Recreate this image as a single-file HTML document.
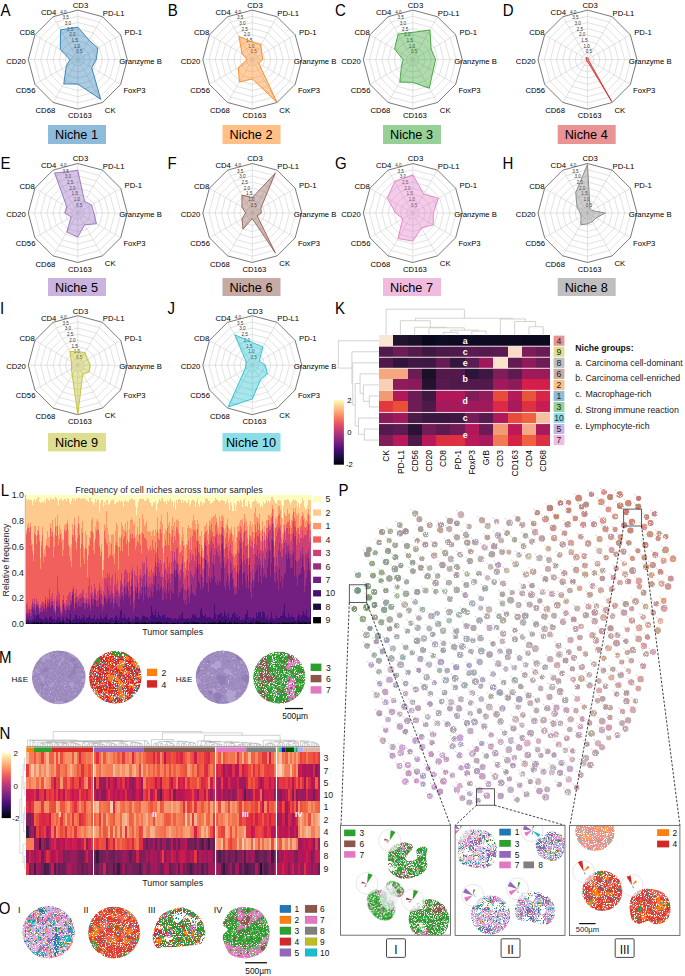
<!DOCTYPE html>
<html><head><meta charset="utf-8"><style>
html,body{margin:0;padding:0;background:#fff;width:685px;height:976px;overflow:hidden}
svg{display:block}
text{font-family:"Liberation Sans",sans-serif}
</style></head><body>
<svg width="685" height="976" viewBox="0 0 685 976" font-family="Liberation Sans, sans-serif">
<rect width="685" height="976" fill="#fff"/>
<g id="radar">
<polygon points="77.80,53.41 80.89,54.24 83.16,56.51 83.99,59.60 83.16,62.69 80.89,64.96 77.80,65.79 74.71,64.96 72.44,62.69 71.61,59.60 72.44,56.51 74.71,54.24" fill="none" stroke="#cfcfcf" stroke-width="0.6"/>
<polygon points="77.80,47.23 83.99,48.88 88.52,53.41 90.17,59.60 88.52,65.79 83.99,70.32 77.80,71.97 71.61,70.32 67.08,65.79 65.42,59.60 67.08,53.41 71.61,48.88" fill="none" stroke="#cfcfcf" stroke-width="0.6"/>
<polygon points="77.80,41.04 87.08,43.52 93.88,50.32 96.36,59.60 93.88,68.88 87.08,75.68 77.80,78.16 68.52,75.68 61.72,68.88 59.24,59.60 61.72,50.32 68.52,43.52" fill="none" stroke="#cfcfcf" stroke-width="0.6"/>
<polygon points="77.80,34.85 90.17,38.17 99.23,47.22 102.55,59.60 99.23,71.97 90.17,81.03 77.80,84.35 65.42,81.03 56.37,71.98 53.05,59.60 56.37,47.22 65.42,38.17" fill="none" stroke="#cfcfcf" stroke-width="0.6"/>
<polygon points="77.80,28.66 93.27,32.81 104.59,44.13 108.74,59.60 104.59,75.07 93.27,86.39 77.80,90.54 62.33,86.39 51.01,75.07 46.86,59.60 51.01,44.13 62.33,32.81" fill="none" stroke="#cfcfcf" stroke-width="0.6"/>
<polygon points="77.80,22.48 96.36,27.45 109.95,41.04 114.92,59.60 109.95,78.16 96.36,91.75 77.80,96.72 59.24,91.75 45.65,78.16 40.67,59.60 45.65,41.04 59.24,27.45" fill="none" stroke="#cfcfcf" stroke-width="0.6"/>
<polygon points="77.80,16.29 99.46,22.09 115.31,37.94 121.11,59.60 115.31,81.26 99.46,97.11 77.80,102.91 56.14,97.11 40.29,81.26 34.49,59.60 40.29,37.94 56.14,22.09" fill="none" stroke="#cfcfcf" stroke-width="0.6"/>
<path d="M77.80 59.60L77.80 10.10M77.80 59.60L102.55 16.73M77.80 59.60L120.67 34.85M77.80 59.60L127.30 59.60M77.80 59.60L120.67 84.35M77.80 59.60L102.55 102.47M77.80 59.60L77.80 109.10M77.80 59.60L53.05 102.47M77.80 59.60L34.93 84.35M77.80 59.60L28.30 59.60M77.80 59.60L34.93 34.85M77.80 59.60L53.05 16.73" stroke="#cfcfcf" stroke-width="0.6" fill="none"/>
<polygon points="77.80,10.10 102.55,16.73 120.67,34.85 127.30,59.60 120.67,84.35 102.55,102.47 77.80,109.10 53.05,102.47 34.93,84.35 28.30,59.60 34.93,34.85 53.05,16.73" fill="none" stroke="#4d4d4d" stroke-width="0.75"/>
<text x="79.20" y="53.30" font-size="4.6" fill="#333" text-anchor="middle">0.5</text>
<text x="76.95" y="47.62" font-size="4.6" fill="#333" text-anchor="middle">1.0</text>
<text x="74.71" y="41.93" font-size="4.6" fill="#333" text-anchor="middle">1.5</text>
<text x="72.47" y="36.25" font-size="4.6" fill="#333" text-anchor="middle">2.0</text>
<text x="70.22" y="30.56" font-size="4.6" fill="#333" text-anchor="middle">2.5</text>
<text x="67.97" y="24.88" font-size="4.6" fill="#333" text-anchor="middle">3.0</text>
<text x="65.73" y="19.19" font-size="4.6" fill="#333" text-anchor="middle">3.5</text>
<text x="63.48" y="13.51" font-size="4.6" fill="#333" text-anchor="middle">4.0</text>
<polygon points="77.80,27.18 89.00,40.20 97.84,48.03 96.24,59.60 91.73,67.64 100.69,99.25 77.80,84.10 63.75,83.93 66.23,66.28 69.88,59.60 60.33,49.51 60.60,29.81" fill="#1f77b4" fill-opacity="0.38" stroke="#1f77b4" stroke-width="0.85" stroke-linejoin="miter"/>
<text x="80.50" y="8.00" font-size="7.7" text-anchor="middle">CD3</text>
<text x="113.70" y="15.50" font-size="7.7" text-anchor="middle">PD-L1</text>
<text x="133.30" y="35.00" font-size="7.7" text-anchor="middle">PD-1</text>
<text x="140.50" y="63.70" font-size="7.7" text-anchor="middle">Granzyme B</text>
<text x="134.50" y="92.70" font-size="7.7" text-anchor="middle">FoxP3</text>
<text x="110.20" y="112.70" font-size="7.7" text-anchor="middle">CK</text>
<text x="79.90" y="118.30" font-size="7.7" text-anchor="middle">CD163</text>
<text x="45.40" y="113.20" font-size="7.7" text-anchor="middle">CD68</text>
<text x="25.60" y="92.70" font-size="7.7" text-anchor="middle">CD56</text>
<text x="16.00" y="63.70" font-size="7.7" text-anchor="middle">CD20</text>
<text x="27.20" y="35.40" font-size="7.7" text-anchor="middle">CD8</text>
<text x="48.60" y="14.90" font-size="7.7" text-anchor="middle">CD4</text>
<rect x="48.00" y="125.00" width="58" height="19.00" fill="#8fbbda"/>
<text x="76.50" y="138.80" font-size="12.7" text-anchor="middle">Niche 1</text>
<polygon points="252.30,53.41 255.39,54.24 257.66,56.51 258.49,59.60 257.66,62.69 255.39,64.96 252.30,65.79 249.21,64.96 246.94,62.69 246.11,59.60 246.94,56.51 249.21,54.24" fill="none" stroke="#cfcfcf" stroke-width="0.6"/>
<polygon points="252.30,47.23 258.49,48.88 263.02,53.41 264.68,59.60 263.02,65.79 258.49,70.32 252.30,71.97 246.11,70.32 241.58,65.79 239.93,59.60 241.58,53.41 246.11,48.88" fill="none" stroke="#cfcfcf" stroke-width="0.6"/>
<polygon points="252.30,41.04 261.58,43.52 268.38,50.32 270.86,59.60 268.38,68.88 261.58,75.68 252.30,78.16 243.02,75.68 236.22,68.88 233.74,59.60 236.22,50.32 243.02,43.52" fill="none" stroke="#cfcfcf" stroke-width="0.6"/>
<polygon points="252.30,34.85 264.68,38.17 273.73,47.22 277.05,59.60 273.73,71.97 264.68,81.03 252.30,84.35 239.93,81.03 230.87,71.98 227.55,59.60 230.87,47.22 239.93,38.17" fill="none" stroke="#cfcfcf" stroke-width="0.6"/>
<polygon points="252.30,28.66 267.77,32.81 279.09,44.13 283.24,59.60 279.09,75.07 267.77,86.39 252.30,90.54 236.83,86.39 225.51,75.07 221.36,59.60 225.51,44.13 236.83,32.81" fill="none" stroke="#cfcfcf" stroke-width="0.6"/>
<polygon points="252.30,22.48 270.86,27.45 284.45,41.04 289.43,59.60 284.45,78.16 270.86,91.75 252.30,96.72 233.74,91.75 220.15,78.16 215.18,59.60 220.15,41.04 233.74,27.45" fill="none" stroke="#cfcfcf" stroke-width="0.6"/>
<polygon points="252.30,16.29 273.96,22.09 289.81,37.94 295.61,59.60 289.81,81.26 273.96,97.11 252.30,102.91 230.64,97.11 214.79,81.26 208.99,59.60 214.79,37.94 230.64,22.09" fill="none" stroke="#cfcfcf" stroke-width="0.6"/>
<path d="M252.30 59.60L252.30 10.10M252.30 59.60L277.05 16.73M252.30 59.60L295.17 34.85M252.30 59.60L301.80 59.60M252.30 59.60L295.17 84.35M252.30 59.60L277.05 102.47M252.30 59.60L252.30 109.10M252.30 59.60L227.55 102.47M252.30 59.60L209.43 84.35M252.30 59.60L202.80 59.60M252.30 59.60L209.43 34.85M252.30 59.60L227.55 16.73" stroke="#cfcfcf" stroke-width="0.6" fill="none"/>
<polygon points="252.30,10.10 277.05,16.73 295.17,34.85 301.80,59.60 295.17,84.35 277.05,102.47 252.30,109.10 227.55,102.47 209.43,84.35 202.80,59.60 209.43,34.85 227.55,16.73" fill="none" stroke="#4d4d4d" stroke-width="0.75"/>
<text x="253.70" y="53.30" font-size="4.6" fill="#333" text-anchor="middle">0.5</text>
<text x="251.46" y="47.62" font-size="4.6" fill="#333" text-anchor="middle">1.0</text>
<text x="249.21" y="41.93" font-size="4.6" fill="#333" text-anchor="middle">1.5</text>
<text x="246.97" y="36.25" font-size="4.6" fill="#333" text-anchor="middle">2.0</text>
<text x="244.72" y="30.56" font-size="4.6" fill="#333" text-anchor="middle">2.5</text>
<text x="242.48" y="24.88" font-size="4.6" fill="#333" text-anchor="middle">3.0</text>
<text x="240.23" y="19.19" font-size="4.6" fill="#333" text-anchor="middle">3.5</text>
<text x="237.99" y="13.51" font-size="4.6" fill="#333" text-anchor="middle">4.0</text>
<polygon points="252.30,42.03 260.96,44.60 261.84,54.09 262.82,59.60 258.73,63.31 277.05,102.47 252.30,78.91 239.37,82.00 238.37,67.64 247.10,59.60 242.01,53.66 238.94,36.45" fill="#ff7f0e" fill-opacity="0.38" stroke="#ff7f0e" stroke-width="0.85" stroke-linejoin="miter"/>
<text x="255.00" y="8.00" font-size="7.7" text-anchor="middle">CD3</text>
<text x="288.20" y="15.50" font-size="7.7" text-anchor="middle">PD-L1</text>
<text x="307.80" y="35.00" font-size="7.7" text-anchor="middle">PD-1</text>
<text x="315.00" y="63.70" font-size="7.7" text-anchor="middle">Granzyme B</text>
<text x="309.00" y="92.70" font-size="7.7" text-anchor="middle">FoxP3</text>
<text x="284.70" y="112.70" font-size="7.7" text-anchor="middle">CK</text>
<text x="254.40" y="118.30" font-size="7.7" text-anchor="middle">CD163</text>
<text x="219.90" y="113.20" font-size="7.7" text-anchor="middle">CD68</text>
<text x="200.10" y="92.70" font-size="7.7" text-anchor="middle">CD56</text>
<text x="190.50" y="63.70" font-size="7.7" text-anchor="middle">CD20</text>
<text x="201.70" y="35.40" font-size="7.7" text-anchor="middle">CD8</text>
<text x="223.10" y="14.90" font-size="7.7" text-anchor="middle">CD4</text>
<rect x="222.50" y="125.00" width="58" height="19.00" fill="#ffbf86"/>
<text x="251.00" y="138.80" font-size="12.7" text-anchor="middle">Niche 2</text>
<polygon points="412.80,53.41 415.89,54.24 418.16,56.51 418.99,59.60 418.16,62.69 415.89,64.96 412.80,65.79 409.71,64.96 407.44,62.69 406.61,59.60 407.44,56.51 409.71,54.24" fill="none" stroke="#cfcfcf" stroke-width="0.6"/>
<polygon points="412.80,47.23 418.99,48.88 423.52,53.41 425.18,59.60 423.52,65.79 418.99,70.32 412.80,71.97 406.61,70.32 402.08,65.79 400.43,59.60 402.08,53.41 406.61,48.88" fill="none" stroke="#cfcfcf" stroke-width="0.6"/>
<polygon points="412.80,41.04 422.08,43.52 428.88,50.32 431.36,59.60 428.88,68.88 422.08,75.68 412.80,78.16 403.52,75.68 396.72,68.88 394.24,59.60 396.72,50.32 403.52,43.52" fill="none" stroke="#cfcfcf" stroke-width="0.6"/>
<polygon points="412.80,34.85 425.18,38.17 434.23,47.22 437.55,59.60 434.23,71.97 425.18,81.03 412.80,84.35 400.43,81.03 391.37,71.98 388.05,59.60 391.37,47.22 400.43,38.17" fill="none" stroke="#cfcfcf" stroke-width="0.6"/>
<polygon points="412.80,28.66 428.27,32.81 439.59,44.13 443.74,59.60 439.59,75.07 428.27,86.39 412.80,90.54 397.33,86.39 386.01,75.07 381.86,59.60 386.01,44.13 397.33,32.81" fill="none" stroke="#cfcfcf" stroke-width="0.6"/>
<polygon points="412.80,22.48 431.36,27.45 444.95,41.04 449.93,59.60 444.95,78.16 431.36,91.75 412.80,96.72 394.24,91.75 380.65,78.16 375.68,59.60 380.65,41.04 394.24,27.45" fill="none" stroke="#cfcfcf" stroke-width="0.6"/>
<polygon points="412.80,16.29 434.46,22.09 450.31,37.94 456.11,59.60 450.31,81.26 434.46,97.11 412.80,102.91 391.14,97.11 375.29,81.26 369.49,59.60 375.29,37.94 391.14,22.09" fill="none" stroke="#cfcfcf" stroke-width="0.6"/>
<path d="M412.80 59.60L412.80 10.10M412.80 59.60L437.55 16.73M412.80 59.60L455.67 34.85M412.80 59.60L462.30 59.60M412.80 59.60L455.67 84.35M412.80 59.60L437.55 102.47M412.80 59.60L412.80 109.10M412.80 59.60L388.05 102.47M412.80 59.60L369.93 84.35M412.80 59.60L363.30 59.60M412.80 59.60L369.93 34.85M412.80 59.60L388.05 16.73" stroke="#cfcfcf" stroke-width="0.6" fill="none"/>
<polygon points="412.80,10.10 437.55,16.73 455.67,34.85 462.30,59.60 455.67,84.35 437.55,102.47 412.80,109.10 388.05,102.47 369.93,84.35 363.30,59.60 369.93,34.85 388.05,16.73" fill="none" stroke="#4d4d4d" stroke-width="0.75"/>
<text x="414.20" y="53.30" font-size="4.6" fill="#333" text-anchor="middle">0.5</text>
<text x="411.95" y="47.62" font-size="4.6" fill="#333" text-anchor="middle">1.0</text>
<text x="409.71" y="41.93" font-size="4.6" fill="#333" text-anchor="middle">1.5</text>
<text x="407.46" y="36.25" font-size="4.6" fill="#333" text-anchor="middle">2.0</text>
<text x="405.22" y="30.56" font-size="4.6" fill="#333" text-anchor="middle">2.5</text>
<text x="402.97" y="24.88" font-size="4.6" fill="#333" text-anchor="middle">3.0</text>
<text x="400.73" y="19.19" font-size="4.6" fill="#333" text-anchor="middle">3.5</text>
<text x="398.49" y="13.51" font-size="4.6" fill="#333" text-anchor="middle">4.0</text>
<polygon points="412.80,32.38 429.94,29.91 431.13,49.02 435.57,59.60 432.95,71.23 429.32,88.21 412.80,82.37 399.81,82.11 401.44,66.16 403.15,59.60 394.58,49.08 398.07,34.09" fill="#2ca02c" fill-opacity="0.38" stroke="#2ca02c" stroke-width="0.85" stroke-linejoin="miter"/>
<text x="415.50" y="8.00" font-size="7.7" text-anchor="middle">CD3</text>
<text x="448.70" y="15.50" font-size="7.7" text-anchor="middle">PD-L1</text>
<text x="468.30" y="35.00" font-size="7.7" text-anchor="middle">PD-1</text>
<text x="475.50" y="63.70" font-size="7.7" text-anchor="middle">Granzyme B</text>
<text x="469.50" y="92.70" font-size="7.7" text-anchor="middle">FoxP3</text>
<text x="445.20" y="112.70" font-size="7.7" text-anchor="middle">CK</text>
<text x="414.90" y="118.30" font-size="7.7" text-anchor="middle">CD163</text>
<text x="380.40" y="113.20" font-size="7.7" text-anchor="middle">CD68</text>
<text x="360.60" y="92.70" font-size="7.7" text-anchor="middle">CD56</text>
<text x="351.00" y="63.70" font-size="7.7" text-anchor="middle">CD20</text>
<text x="362.20" y="35.40" font-size="7.7" text-anchor="middle">CD8</text>
<text x="383.60" y="14.90" font-size="7.7" text-anchor="middle">CD4</text>
<rect x="383.00" y="125.00" width="58" height="19.00" fill="#96d096"/>
<text x="411.50" y="138.80" font-size="12.7" text-anchor="middle">Niche 3</text>
<polygon points="587.50,53.41 590.59,54.24 592.86,56.51 593.69,59.60 592.86,62.69 590.59,64.96 587.50,65.79 584.41,64.96 582.14,62.69 581.31,59.60 582.14,56.51 584.41,54.24" fill="none" stroke="#cfcfcf" stroke-width="0.6"/>
<polygon points="587.50,47.23 593.69,48.88 598.22,53.41 599.88,59.60 598.22,65.79 593.69,70.32 587.50,71.97 581.31,70.32 576.78,65.79 575.12,59.60 576.78,53.41 581.31,48.88" fill="none" stroke="#cfcfcf" stroke-width="0.6"/>
<polygon points="587.50,41.04 596.78,43.52 603.58,50.32 606.06,59.60 603.58,68.88 596.78,75.68 587.50,78.16 578.22,75.68 571.42,68.88 568.94,59.60 571.42,50.32 578.22,43.52" fill="none" stroke="#cfcfcf" stroke-width="0.6"/>
<polygon points="587.50,34.85 599.88,38.17 608.93,47.22 612.25,59.60 608.93,71.97 599.88,81.03 587.50,84.35 575.12,81.03 566.07,71.98 562.75,59.60 566.07,47.22 575.12,38.17" fill="none" stroke="#cfcfcf" stroke-width="0.6"/>
<polygon points="587.50,28.66 602.97,32.81 614.29,44.13 618.44,59.60 614.29,75.07 602.97,86.39 587.50,90.54 572.03,86.39 560.71,75.07 556.56,59.60 560.71,44.13 572.03,32.81" fill="none" stroke="#cfcfcf" stroke-width="0.6"/>
<polygon points="587.50,22.48 606.06,27.45 619.65,41.04 624.62,59.60 619.65,78.16 606.06,91.75 587.50,96.72 568.94,91.75 555.35,78.16 550.38,59.60 555.35,41.04 568.94,27.45" fill="none" stroke="#cfcfcf" stroke-width="0.6"/>
<polygon points="587.50,16.29 609.16,22.09 625.01,37.94 630.81,59.60 625.01,81.26 609.16,97.11 587.50,102.91 565.84,97.11 549.99,81.26 544.19,59.60 549.99,37.94 565.84,22.09" fill="none" stroke="#cfcfcf" stroke-width="0.6"/>
<path d="M587.50 59.60L587.50 10.10M587.50 59.60L612.25 16.73M587.50 59.60L630.37 34.85M587.50 59.60L637.00 59.60M587.50 59.60L630.37 84.35M587.50 59.60L612.25 102.47M587.50 59.60L587.50 109.10M587.50 59.60L562.75 102.47M587.50 59.60L544.63 84.35M587.50 59.60L538.00 59.60M587.50 59.60L544.63 34.85M587.50 59.60L562.75 16.73" stroke="#cfcfcf" stroke-width="0.6" fill="none"/>
<polygon points="587.50,10.10 612.25,16.73 630.37,34.85 637.00,59.60 630.37,84.35 612.25,102.47 587.50,109.10 562.75,102.47 544.63,84.35 538.00,59.60 544.63,34.85 562.75,16.73" fill="none" stroke="#4d4d4d" stroke-width="0.75"/>
<text x="588.90" y="53.30" font-size="4.6" fill="#333" text-anchor="middle">0.5</text>
<text x="586.65" y="47.62" font-size="4.6" fill="#333" text-anchor="middle">1.0</text>
<text x="584.41" y="41.93" font-size="4.6" fill="#333" text-anchor="middle">1.5</text>
<text x="582.16" y="36.25" font-size="4.6" fill="#333" text-anchor="middle">2.0</text>
<text x="579.92" y="30.56" font-size="4.6" fill="#333" text-anchor="middle">2.5</text>
<text x="577.67" y="24.88" font-size="4.6" fill="#333" text-anchor="middle">3.0</text>
<text x="575.43" y="19.19" font-size="4.6" fill="#333" text-anchor="middle">3.5</text>
<text x="573.18" y="13.51" font-size="4.6" fill="#333" text-anchor="middle">4.0</text>
<polygon points="587.50,57.74 588.12,58.53 588.57,58.98 588.74,59.60 588.57,60.22 611.63,101.40 587.50,61.46 586.57,61.21 586.43,60.22 586.26,59.60 586.43,58.98 586.26,57.46" fill="#d62728" fill-opacity="0.38" stroke="#d62728" stroke-width="0.85" stroke-linejoin="miter"/>
<text x="590.20" y="8.00" font-size="7.7" text-anchor="middle">CD3</text>
<text x="623.40" y="15.50" font-size="7.7" text-anchor="middle">PD-L1</text>
<text x="643.00" y="35.00" font-size="7.7" text-anchor="middle">PD-1</text>
<text x="650.20" y="63.70" font-size="7.7" text-anchor="middle">Granzyme B</text>
<text x="644.20" y="92.70" font-size="7.7" text-anchor="middle">FoxP3</text>
<text x="619.90" y="112.70" font-size="7.7" text-anchor="middle">CK</text>
<text x="589.60" y="118.30" font-size="7.7" text-anchor="middle">CD163</text>
<text x="555.10" y="113.20" font-size="7.7" text-anchor="middle">CD68</text>
<text x="535.30" y="92.70" font-size="7.7" text-anchor="middle">CD56</text>
<text x="525.70" y="63.70" font-size="7.7" text-anchor="middle">CD20</text>
<text x="536.90" y="35.40" font-size="7.7" text-anchor="middle">CD8</text>
<text x="558.30" y="14.90" font-size="7.7" text-anchor="middle">CD4</text>
<rect x="557.70" y="125.00" width="58" height="19.00" fill="#ea9394"/>
<text x="586.20" y="138.80" font-size="12.7" text-anchor="middle">Niche 4</text>
<polygon points="77.80,206.81 80.89,207.64 83.16,209.91 83.99,213.00 83.16,216.09 80.89,218.36 77.80,219.19 74.71,218.36 72.44,216.09 71.61,213.00 72.44,209.91 74.71,207.64" fill="none" stroke="#cfcfcf" stroke-width="0.6"/>
<polygon points="77.80,200.62 83.99,202.28 88.52,206.81 90.17,213.00 88.52,219.19 83.99,223.72 77.80,225.38 71.61,223.72 67.08,219.19 65.42,213.00 67.08,206.81 71.61,202.28" fill="none" stroke="#cfcfcf" stroke-width="0.6"/>
<polygon points="77.80,194.44 87.08,196.92 93.88,203.72 96.36,213.00 93.88,222.28 87.08,229.08 77.80,231.56 68.52,229.08 61.72,222.28 59.24,213.00 61.72,203.72 68.52,196.92" fill="none" stroke="#cfcfcf" stroke-width="0.6"/>
<polygon points="77.80,188.25 90.17,191.57 99.23,200.62 102.55,213.00 99.23,225.38 90.17,234.43 77.80,237.75 65.42,234.43 56.37,225.38 53.05,213.00 56.37,200.62 65.42,191.57" fill="none" stroke="#cfcfcf" stroke-width="0.6"/>
<polygon points="77.80,182.06 93.27,186.21 104.59,197.53 108.74,213.00 104.59,228.47 93.27,239.79 77.80,243.94 62.33,239.79 51.01,228.47 46.86,213.00 51.01,197.53 62.33,186.21" fill="none" stroke="#cfcfcf" stroke-width="0.6"/>
<polygon points="77.80,175.88 96.36,180.85 109.95,194.44 114.92,213.00 109.95,231.56 96.36,245.15 77.80,250.12 59.24,245.15 45.65,231.56 40.67,213.00 45.65,194.44 59.24,180.85" fill="none" stroke="#cfcfcf" stroke-width="0.6"/>
<polygon points="77.80,169.69 99.46,175.49 115.31,191.34 121.11,213.00 115.31,234.66 99.46,250.51 77.80,256.31 56.14,250.51 40.29,234.66 34.49,213.00 40.29,191.34 56.14,175.49" fill="none" stroke="#cfcfcf" stroke-width="0.6"/>
<path d="M77.80 213.00L77.80 163.50M77.80 213.00L102.55 170.13M77.80 213.00L120.67 188.25M77.80 213.00L127.30 213.00M77.80 213.00L120.67 237.75M77.80 213.00L102.55 255.87M77.80 213.00L77.80 262.50M77.80 213.00L53.05 255.87M77.80 213.00L34.93 237.75M77.80 213.00L28.30 213.00M77.80 213.00L34.93 188.25M77.80 213.00L53.05 170.13" stroke="#cfcfcf" stroke-width="0.6" fill="none"/>
<polygon points="77.80,163.50 102.55,170.13 120.67,188.25 127.30,213.00 120.67,237.75 102.55,255.87 77.80,262.50 53.05,255.87 34.93,237.75 28.30,213.00 34.93,188.25 53.05,170.13" fill="none" stroke="#4d4d4d" stroke-width="0.75"/>
<text x="79.20" y="206.70" font-size="4.6" fill="#333" text-anchor="middle">0.5</text>
<text x="76.95" y="201.01" font-size="4.6" fill="#333" text-anchor="middle">1.0</text>
<text x="74.71" y="195.33" font-size="4.6" fill="#333" text-anchor="middle">1.5</text>
<text x="72.47" y="189.64" font-size="4.6" fill="#333" text-anchor="middle">2.0</text>
<text x="70.22" y="183.96" font-size="4.6" fill="#333" text-anchor="middle">2.5</text>
<text x="67.97" y="178.28" font-size="4.6" fill="#333" text-anchor="middle">3.0</text>
<text x="65.73" y="172.59" font-size="4.6" fill="#333" text-anchor="middle">3.5</text>
<text x="63.48" y="166.91" font-size="4.6" fill="#333" text-anchor="middle">4.0</text>
<polygon points="77.80,170.43 84.54,201.32 91.63,205.02 93.89,213.00 96.45,223.77 84.61,224.79 77.80,237.01 66.79,232.08 71.16,216.84 64.68,213.00 66.76,206.63 54.72,173.03" fill="#9467bd" fill-opacity="0.38" stroke="#9467bd" stroke-width="0.85" stroke-linejoin="miter"/>
<text x="80.50" y="161.40" font-size="7.7" text-anchor="middle">CD3</text>
<text x="113.70" y="168.90" font-size="7.7" text-anchor="middle">PD-L1</text>
<text x="133.30" y="188.40" font-size="7.7" text-anchor="middle">PD-1</text>
<text x="140.50" y="217.10" font-size="7.7" text-anchor="middle">Granzyme B</text>
<text x="134.50" y="246.10" font-size="7.7" text-anchor="middle">FoxP3</text>
<text x="110.20" y="266.10" font-size="7.7" text-anchor="middle">CK</text>
<text x="79.90" y="271.70" font-size="7.7" text-anchor="middle">CD163</text>
<text x="45.40" y="266.60" font-size="7.7" text-anchor="middle">CD68</text>
<text x="25.60" y="246.10" font-size="7.7" text-anchor="middle">CD56</text>
<text x="16.00" y="217.10" font-size="7.7" text-anchor="middle">CD20</text>
<text x="27.20" y="188.80" font-size="7.7" text-anchor="middle">CD8</text>
<text x="48.60" y="168.30" font-size="7.7" text-anchor="middle">CD4</text>
<rect x="48.00" y="278.00" width="58" height="18.00" fill="#cab3de"/>
<text x="76.50" y="291.80" font-size="12.7" text-anchor="middle">Niche 5</text>
<polygon points="252.30,206.81 255.39,207.64 257.66,209.91 258.49,213.00 257.66,216.09 255.39,218.36 252.30,219.19 249.21,218.36 246.94,216.09 246.11,213.00 246.94,209.91 249.21,207.64" fill="none" stroke="#cfcfcf" stroke-width="0.6"/>
<polygon points="252.30,200.62 258.49,202.28 263.02,206.81 264.68,213.00 263.02,219.19 258.49,223.72 252.30,225.38 246.11,223.72 241.58,219.19 239.93,213.00 241.58,206.81 246.11,202.28" fill="none" stroke="#cfcfcf" stroke-width="0.6"/>
<polygon points="252.30,194.44 261.58,196.92 268.38,203.72 270.86,213.00 268.38,222.28 261.58,229.08 252.30,231.56 243.02,229.08 236.22,222.28 233.74,213.00 236.22,203.72 243.02,196.92" fill="none" stroke="#cfcfcf" stroke-width="0.6"/>
<polygon points="252.30,188.25 264.68,191.57 273.73,200.62 277.05,213.00 273.73,225.38 264.68,234.43 252.30,237.75 239.93,234.43 230.87,225.38 227.55,213.00 230.87,200.62 239.93,191.57" fill="none" stroke="#cfcfcf" stroke-width="0.6"/>
<polygon points="252.30,182.06 267.77,186.21 279.09,197.53 283.24,213.00 279.09,228.47 267.77,239.79 252.30,243.94 236.83,239.79 225.51,228.47 221.36,213.00 225.51,197.53 236.83,186.21" fill="none" stroke="#cfcfcf" stroke-width="0.6"/>
<polygon points="252.30,175.88 270.86,180.85 284.45,194.44 289.43,213.00 284.45,231.56 270.86,245.15 252.30,250.12 233.74,245.15 220.15,231.56 215.18,213.00 220.15,194.44 233.74,180.85" fill="none" stroke="#cfcfcf" stroke-width="0.6"/>
<polygon points="252.30,169.69 273.96,175.49 289.81,191.34 295.61,213.00 289.81,234.66 273.96,250.51 252.30,256.31 230.64,250.51 214.79,234.66 208.99,213.00 214.79,191.34 230.64,175.49" fill="none" stroke="#cfcfcf" stroke-width="0.6"/>
<path d="M252.30 213.00L252.30 163.50M252.30 213.00L277.05 170.13M252.30 213.00L295.17 188.25M252.30 213.00L301.80 213.00M252.30 213.00L295.17 237.75M252.30 213.00L277.05 255.87M252.30 213.00L252.30 262.50M252.30 213.00L227.55 255.87M252.30 213.00L209.43 237.75M252.30 213.00L202.80 213.00M252.30 213.00L209.43 188.25M252.30 213.00L227.55 170.13" stroke="#cfcfcf" stroke-width="0.6" fill="none"/>
<polygon points="252.30,163.50 277.05,170.13 295.17,188.25 301.80,213.00 295.17,237.75 277.05,255.87 252.30,262.50 227.55,255.87 209.43,237.75 202.80,213.00 209.43,188.25 227.55,170.13" fill="none" stroke="#4d4d4d" stroke-width="0.75"/>
<text x="253.70" y="206.70" font-size="4.6" fill="#333" text-anchor="middle">0.5</text>
<text x="251.46" y="201.01" font-size="4.6" fill="#333" text-anchor="middle">1.0</text>
<text x="249.21" y="195.33" font-size="4.6" fill="#333" text-anchor="middle">1.5</text>
<text x="246.97" y="189.64" font-size="4.6" fill="#333" text-anchor="middle">2.0</text>
<text x="244.72" y="183.96" font-size="4.6" fill="#333" text-anchor="middle">2.5</text>
<text x="242.48" y="178.28" font-size="4.6" fill="#333" text-anchor="middle">3.0</text>
<text x="240.23" y="172.59" font-size="4.6" fill="#333" text-anchor="middle">3.5</text>
<text x="237.99" y="166.91" font-size="4.6" fill="#333" text-anchor="middle">4.0</text>
<polygon points="252.30,197.53 275.32,173.13 260.87,208.05 261.33,213.00 257.12,215.78 275.32,252.87 252.30,218.57 243.02,229.08 241.90,219.00 245.62,213.00 241.90,207.00 241.97,195.10" fill="#8c564b" fill-opacity="0.38" stroke="#8c564b" stroke-width="0.85" stroke-linejoin="miter"/>
<text x="255.00" y="161.40" font-size="7.7" text-anchor="middle">CD3</text>
<text x="288.20" y="168.90" font-size="7.7" text-anchor="middle">PD-L1</text>
<text x="307.80" y="188.40" font-size="7.7" text-anchor="middle">PD-1</text>
<text x="315.00" y="217.10" font-size="7.7" text-anchor="middle">Granzyme B</text>
<text x="309.00" y="246.10" font-size="7.7" text-anchor="middle">FoxP3</text>
<text x="284.70" y="266.10" font-size="7.7" text-anchor="middle">CK</text>
<text x="254.40" y="271.70" font-size="7.7" text-anchor="middle">CD163</text>
<text x="219.90" y="266.60" font-size="7.7" text-anchor="middle">CD68</text>
<text x="200.10" y="246.10" font-size="7.7" text-anchor="middle">CD56</text>
<text x="190.50" y="217.10" font-size="7.7" text-anchor="middle">CD20</text>
<text x="201.70" y="188.80" font-size="7.7" text-anchor="middle">CD8</text>
<text x="223.10" y="168.30" font-size="7.7" text-anchor="middle">CD4</text>
<rect x="222.50" y="278.00" width="58" height="18.00" fill="#c6aaa5"/>
<text x="251.00" y="291.80" font-size="12.7" text-anchor="middle">Niche 6</text>
<polygon points="412.80,206.81 415.89,207.64 418.16,209.91 418.99,213.00 418.16,216.09 415.89,218.36 412.80,219.19 409.71,218.36 407.44,216.09 406.61,213.00 407.44,209.91 409.71,207.64" fill="none" stroke="#cfcfcf" stroke-width="0.6"/>
<polygon points="412.80,200.62 418.99,202.28 423.52,206.81 425.18,213.00 423.52,219.19 418.99,223.72 412.80,225.38 406.61,223.72 402.08,219.19 400.43,213.00 402.08,206.81 406.61,202.28" fill="none" stroke="#cfcfcf" stroke-width="0.6"/>
<polygon points="412.80,194.44 422.08,196.92 428.88,203.72 431.36,213.00 428.88,222.28 422.08,229.08 412.80,231.56 403.52,229.08 396.72,222.28 394.24,213.00 396.72,203.72 403.52,196.92" fill="none" stroke="#cfcfcf" stroke-width="0.6"/>
<polygon points="412.80,188.25 425.18,191.57 434.23,200.62 437.55,213.00 434.23,225.38 425.18,234.43 412.80,237.75 400.43,234.43 391.37,225.38 388.05,213.00 391.37,200.62 400.43,191.57" fill="none" stroke="#cfcfcf" stroke-width="0.6"/>
<polygon points="412.80,182.06 428.27,186.21 439.59,197.53 443.74,213.00 439.59,228.47 428.27,239.79 412.80,243.94 397.33,239.79 386.01,228.47 381.86,213.00 386.01,197.53 397.33,186.21" fill="none" stroke="#cfcfcf" stroke-width="0.6"/>
<polygon points="412.80,175.88 431.36,180.85 444.95,194.44 449.93,213.00 444.95,231.56 431.36,245.15 412.80,250.12 394.24,245.15 380.65,231.56 375.68,213.00 380.65,194.44 394.24,180.85" fill="none" stroke="#cfcfcf" stroke-width="0.6"/>
<polygon points="412.80,169.69 434.46,175.49 450.31,191.34 456.11,213.00 450.31,234.66 434.46,250.51 412.80,256.31 391.14,250.51 375.29,234.66 369.49,213.00 375.29,191.34 391.14,175.49" fill="none" stroke="#cfcfcf" stroke-width="0.6"/>
<path d="M412.80 213.00L412.80 163.50M412.80 213.00L437.55 170.13M412.80 213.00L455.67 188.25M412.80 213.00L462.30 213.00M412.80 213.00L455.67 237.75M412.80 213.00L437.55 255.87M412.80 213.00L412.80 262.50M412.80 213.00L388.05 255.87M412.80 213.00L369.93 237.75M412.80 213.00L363.30 213.00M412.80 213.00L369.93 188.25M412.80 213.00L388.05 170.13" stroke="#cfcfcf" stroke-width="0.6" fill="none"/>
<polygon points="412.80,163.50 437.55,170.13 455.67,188.25 462.30,213.00 455.67,237.75 437.55,255.87 412.80,262.50 388.05,255.87 369.93,237.75 363.30,213.00 369.93,188.25 388.05,170.13" fill="none" stroke="#4d4d4d" stroke-width="0.75"/>
<text x="414.20" y="206.70" font-size="4.6" fill="#333" text-anchor="middle">0.5</text>
<text x="411.95" y="201.01" font-size="4.6" fill="#333" text-anchor="middle">1.0</text>
<text x="409.71" y="195.33" font-size="4.6" fill="#333" text-anchor="middle">1.5</text>
<text x="407.46" y="189.64" font-size="4.6" fill="#333" text-anchor="middle">2.0</text>
<text x="405.22" y="183.96" font-size="4.6" fill="#333" text-anchor="middle">2.5</text>
<text x="402.97" y="178.28" font-size="4.6" fill="#333" text-anchor="middle">3.0</text>
<text x="400.73" y="172.59" font-size="4.6" fill="#333" text-anchor="middle">3.5</text>
<text x="398.49" y="166.91" font-size="4.6" fill="#333" text-anchor="middle">4.0</text>
<polygon points="412.80,174.76 423.75,194.03 438.41,198.21 433.34,213.00 433.27,224.82 421.46,228.00 412.80,241.09 398.01,238.61 402.73,218.82 395.60,213.00 387.29,198.27 394.73,181.71" fill="#e377c2" fill-opacity="0.38" stroke="#e377c2" stroke-width="0.85" stroke-linejoin="miter"/>
<text x="415.50" y="161.40" font-size="7.7" text-anchor="middle">CD3</text>
<text x="448.70" y="168.90" font-size="7.7" text-anchor="middle">PD-L1</text>
<text x="468.30" y="188.40" font-size="7.7" text-anchor="middle">PD-1</text>
<text x="475.50" y="217.10" font-size="7.7" text-anchor="middle">Granzyme B</text>
<text x="469.50" y="246.10" font-size="7.7" text-anchor="middle">FoxP3</text>
<text x="445.20" y="266.10" font-size="7.7" text-anchor="middle">CK</text>
<text x="414.90" y="271.70" font-size="7.7" text-anchor="middle">CD163</text>
<text x="380.40" y="266.60" font-size="7.7" text-anchor="middle">CD68</text>
<text x="360.60" y="246.10" font-size="7.7" text-anchor="middle">CD56</text>
<text x="351.00" y="217.10" font-size="7.7" text-anchor="middle">CD20</text>
<text x="362.20" y="188.80" font-size="7.7" text-anchor="middle">CD8</text>
<text x="383.60" y="168.30" font-size="7.7" text-anchor="middle">CD4</text>
<rect x="383.00" y="278.00" width="58" height="18.00" fill="#f1bbe0"/>
<text x="411.50" y="291.80" font-size="12.7" text-anchor="middle">Niche 7</text>
<polygon points="587.50,206.81 590.59,207.64 592.86,209.91 593.69,213.00 592.86,216.09 590.59,218.36 587.50,219.19 584.41,218.36 582.14,216.09 581.31,213.00 582.14,209.91 584.41,207.64" fill="none" stroke="#cfcfcf" stroke-width="0.6"/>
<polygon points="587.50,200.62 593.69,202.28 598.22,206.81 599.88,213.00 598.22,219.19 593.69,223.72 587.50,225.38 581.31,223.72 576.78,219.19 575.12,213.00 576.78,206.81 581.31,202.28" fill="none" stroke="#cfcfcf" stroke-width="0.6"/>
<polygon points="587.50,194.44 596.78,196.92 603.58,203.72 606.06,213.00 603.58,222.28 596.78,229.08 587.50,231.56 578.22,229.08 571.42,222.28 568.94,213.00 571.42,203.72 578.22,196.92" fill="none" stroke="#cfcfcf" stroke-width="0.6"/>
<polygon points="587.50,188.25 599.88,191.57 608.93,200.62 612.25,213.00 608.93,225.38 599.88,234.43 587.50,237.75 575.12,234.43 566.07,225.38 562.75,213.00 566.07,200.62 575.12,191.57" fill="none" stroke="#cfcfcf" stroke-width="0.6"/>
<polygon points="587.50,182.06 602.97,186.21 614.29,197.53 618.44,213.00 614.29,228.47 602.97,239.79 587.50,243.94 572.03,239.79 560.71,228.47 556.56,213.00 560.71,197.53 572.03,186.21" fill="none" stroke="#cfcfcf" stroke-width="0.6"/>
<polygon points="587.50,175.88 606.06,180.85 619.65,194.44 624.62,213.00 619.65,231.56 606.06,245.15 587.50,250.12 568.94,245.15 555.35,231.56 550.38,213.00 555.35,194.44 568.94,180.85" fill="none" stroke="#cfcfcf" stroke-width="0.6"/>
<polygon points="587.50,169.69 609.16,175.49 625.01,191.34 630.81,213.00 625.01,234.66 609.16,250.51 587.50,256.31 565.84,250.51 549.99,234.66 544.19,213.00 549.99,191.34 565.84,175.49" fill="none" stroke="#cfcfcf" stroke-width="0.6"/>
<path d="M587.50 213.00L587.50 163.50M587.50 213.00L612.25 170.13M587.50 213.00L630.37 188.25M587.50 213.00L637.00 213.00M587.50 213.00L630.37 237.75M587.50 213.00L612.25 255.87M587.50 213.00L587.50 262.50M587.50 213.00L562.75 255.87M587.50 213.00L544.63 237.75M587.50 213.00L538.00 213.00M587.50 213.00L544.63 188.25M587.50 213.00L562.75 170.13" stroke="#cfcfcf" stroke-width="0.6" fill="none"/>
<polygon points="587.50,163.50 612.25,170.13 630.37,188.25 637.00,213.00 630.37,237.75 612.25,255.87 587.50,262.50 562.75,255.87 544.63,237.75 538.00,213.00 544.63,188.25 562.75,170.13" fill="none" stroke="#4d4d4d" stroke-width="0.75"/>
<text x="588.90" y="206.70" font-size="4.6" fill="#333" text-anchor="middle">0.5</text>
<text x="586.65" y="201.01" font-size="4.6" fill="#333" text-anchor="middle">1.0</text>
<text x="584.41" y="195.33" font-size="4.6" fill="#333" text-anchor="middle">1.5</text>
<text x="582.16" y="189.64" font-size="4.6" fill="#333" text-anchor="middle">2.0</text>
<text x="579.92" y="183.96" font-size="4.6" fill="#333" text-anchor="middle">2.5</text>
<text x="577.67" y="178.28" font-size="4.6" fill="#333" text-anchor="middle">3.0</text>
<text x="575.43" y="172.59" font-size="4.6" fill="#333" text-anchor="middle">3.5</text>
<text x="573.18" y="166.91" font-size="4.6" fill="#333" text-anchor="middle">4.0</text>
<polygon points="587.50,164.24 589.98,208.71 591.79,210.53 605.32,213.00 596.07,217.95 592.45,221.57 587.50,223.89 580.69,224.79 581.07,216.71 580.08,213.00 577.00,206.94 575.74,192.64" fill="#7f7f7f" fill-opacity="0.38" stroke="#7f7f7f" stroke-width="0.85" stroke-linejoin="miter"/>
<text x="590.20" y="161.40" font-size="7.7" text-anchor="middle">CD3</text>
<text x="623.40" y="168.90" font-size="7.7" text-anchor="middle">PD-L1</text>
<text x="643.00" y="188.40" font-size="7.7" text-anchor="middle">PD-1</text>
<text x="650.20" y="217.10" font-size="7.7" text-anchor="middle">Granzyme B</text>
<text x="644.20" y="246.10" font-size="7.7" text-anchor="middle">FoxP3</text>
<text x="619.90" y="266.10" font-size="7.7" text-anchor="middle">CK</text>
<text x="589.60" y="271.70" font-size="7.7" text-anchor="middle">CD163</text>
<text x="555.10" y="266.60" font-size="7.7" text-anchor="middle">CD68</text>
<text x="535.30" y="246.10" font-size="7.7" text-anchor="middle">CD56</text>
<text x="525.70" y="217.10" font-size="7.7" text-anchor="middle">CD20</text>
<text x="536.90" y="188.80" font-size="7.7" text-anchor="middle">CD8</text>
<text x="558.30" y="168.30" font-size="7.7" text-anchor="middle">CD4</text>
<rect x="557.70" y="278.00" width="58" height="18.00" fill="#bfbfbf"/>
<text x="586.20" y="291.80" font-size="12.7" text-anchor="middle">Niche 8</text>
<polygon points="77.80,359.01 80.89,359.84 83.16,362.11 83.99,365.20 83.16,368.29 80.89,370.56 77.80,371.39 74.71,370.56 72.44,368.29 71.61,365.20 72.44,362.11 74.71,359.84" fill="none" stroke="#cfcfcf" stroke-width="0.6"/>
<polygon points="77.80,352.82 83.99,354.48 88.52,359.01 90.17,365.20 88.52,371.39 83.99,375.92 77.80,377.57 71.61,375.92 67.08,371.39 65.42,365.20 67.08,359.01 71.61,354.48" fill="none" stroke="#cfcfcf" stroke-width="0.6"/>
<polygon points="77.80,346.64 87.08,349.12 93.88,355.92 96.36,365.20 93.88,374.48 87.08,381.28 77.80,383.76 68.52,381.28 61.72,374.48 59.24,365.20 61.72,355.92 68.52,349.12" fill="none" stroke="#cfcfcf" stroke-width="0.6"/>
<polygon points="77.80,340.45 90.17,343.77 99.23,352.82 102.55,365.20 99.23,377.57 90.17,386.63 77.80,389.95 65.42,386.63 56.37,377.57 53.05,365.20 56.37,352.82 65.42,343.77" fill="none" stroke="#cfcfcf" stroke-width="0.6"/>
<polygon points="77.80,334.26 93.27,338.41 104.59,349.73 108.74,365.20 104.59,380.67 93.27,391.99 77.80,396.14 62.33,391.99 51.01,380.67 46.86,365.20 51.01,349.73 62.33,338.41" fill="none" stroke="#cfcfcf" stroke-width="0.6"/>
<polygon points="77.80,328.07 96.36,333.05 109.95,346.64 114.92,365.20 109.95,383.76 96.36,397.35 77.80,402.32 59.24,397.35 45.65,383.76 40.67,365.20 45.65,346.64 59.24,333.05" fill="none" stroke="#cfcfcf" stroke-width="0.6"/>
<polygon points="77.80,321.89 99.46,327.69 115.31,343.54 121.11,365.20 115.31,386.86 99.46,402.71 77.80,408.51 56.14,402.71 40.29,386.86 34.49,365.20 40.29,343.54 56.14,327.69" fill="none" stroke="#cfcfcf" stroke-width="0.6"/>
<path d="M77.80 365.20L77.80 315.70M77.80 365.20L102.55 322.33M77.80 365.20L120.67 340.45M77.80 365.20L127.30 365.20M77.80 365.20L120.67 389.95M77.80 365.20L102.55 408.07M77.80 365.20L77.80 414.70M77.80 365.20L53.05 408.07M77.80 365.20L34.93 389.95M77.80 365.20L28.30 365.20M77.80 365.20L34.93 340.45M77.80 365.20L53.05 322.33" stroke="#cfcfcf" stroke-width="0.6" fill="none"/>
<polygon points="77.80,315.70 102.55,322.33 120.67,340.45 127.30,365.20 120.67,389.95 102.55,408.07 77.80,414.70 53.05,408.07 34.93,389.95 28.30,365.20 34.93,340.45 53.05,322.33" fill="none" stroke="#4d4d4d" stroke-width="0.75"/>
<text x="79.20" y="358.90" font-size="4.6" fill="#333" text-anchor="middle">0.5</text>
<text x="76.95" y="353.22" font-size="4.6" fill="#333" text-anchor="middle">1.0</text>
<text x="74.71" y="347.53" font-size="4.6" fill="#333" text-anchor="middle">1.5</text>
<text x="72.47" y="341.85" font-size="4.6" fill="#333" text-anchor="middle">2.0</text>
<text x="70.22" y="336.16" font-size="4.6" fill="#333" text-anchor="middle">2.5</text>
<text x="67.97" y="330.48" font-size="4.6" fill="#333" text-anchor="middle">3.0</text>
<text x="65.73" y="324.79" font-size="4.6" fill="#333" text-anchor="middle">3.5</text>
<text x="63.48" y="319.11" font-size="4.6" fill="#333" text-anchor="middle">4.0</text>
<polygon points="77.80,351.71 85.10,352.55 87.45,359.63 90.17,365.20 89.37,371.88 82.75,373.77 77.80,414.70 72.23,374.85 71.37,368.91 71.61,365.20 71.37,361.49 69.88,351.48" fill="#bcbd22" fill-opacity="0.38" stroke="#bcbd22" stroke-width="0.85" stroke-linejoin="miter"/>
<text x="80.50" y="313.60" font-size="7.7" text-anchor="middle">CD3</text>
<text x="113.70" y="321.10" font-size="7.7" text-anchor="middle">PD-L1</text>
<text x="133.30" y="340.60" font-size="7.7" text-anchor="middle">PD-1</text>
<text x="140.50" y="369.30" font-size="7.7" text-anchor="middle">Granzyme B</text>
<text x="134.50" y="398.30" font-size="7.7" text-anchor="middle">FoxP3</text>
<text x="110.20" y="418.30" font-size="7.7" text-anchor="middle">CK</text>
<text x="79.90" y="423.90" font-size="7.7" text-anchor="middle">CD163</text>
<text x="45.40" y="418.80" font-size="7.7" text-anchor="middle">CD68</text>
<text x="25.60" y="398.30" font-size="7.7" text-anchor="middle">CD56</text>
<text x="16.00" y="369.30" font-size="7.7" text-anchor="middle">CD20</text>
<text x="27.20" y="341.00" font-size="7.7" text-anchor="middle">CD8</text>
<text x="48.60" y="320.50" font-size="7.7" text-anchor="middle">CD4</text>
<rect x="48.00" y="433.00" width="58" height="18.40" fill="#dede90"/>
<text x="76.50" y="446.80" font-size="12.7" text-anchor="middle">Niche 9</text>
<polygon points="252.30,359.01 255.39,359.84 257.66,362.11 258.49,365.20 257.66,368.29 255.39,370.56 252.30,371.39 249.21,370.56 246.94,368.29 246.11,365.20 246.94,362.11 249.21,359.84" fill="none" stroke="#cfcfcf" stroke-width="0.6"/>
<polygon points="252.30,352.82 258.49,354.48 263.02,359.01 264.68,365.20 263.02,371.39 258.49,375.92 252.30,377.57 246.11,375.92 241.58,371.39 239.93,365.20 241.58,359.01 246.11,354.48" fill="none" stroke="#cfcfcf" stroke-width="0.6"/>
<polygon points="252.30,346.64 261.58,349.12 268.38,355.92 270.86,365.20 268.38,374.48 261.58,381.28 252.30,383.76 243.02,381.28 236.22,374.48 233.74,365.20 236.22,355.92 243.02,349.12" fill="none" stroke="#cfcfcf" stroke-width="0.6"/>
<polygon points="252.30,340.45 264.68,343.77 273.73,352.82 277.05,365.20 273.73,377.57 264.68,386.63 252.30,389.95 239.93,386.63 230.87,377.57 227.55,365.20 230.87,352.82 239.93,343.77" fill="none" stroke="#cfcfcf" stroke-width="0.6"/>
<polygon points="252.30,334.26 267.77,338.41 279.09,349.73 283.24,365.20 279.09,380.67 267.77,391.99 252.30,396.14 236.83,391.99 225.51,380.67 221.36,365.20 225.51,349.73 236.83,338.41" fill="none" stroke="#cfcfcf" stroke-width="0.6"/>
<polygon points="252.30,328.07 270.86,333.05 284.45,346.64 289.43,365.20 284.45,383.76 270.86,397.35 252.30,402.32 233.74,397.35 220.15,383.76 215.18,365.20 220.15,346.64 233.74,333.05" fill="none" stroke="#cfcfcf" stroke-width="0.6"/>
<polygon points="252.30,321.89 273.96,327.69 289.81,343.54 295.61,365.20 289.81,386.86 273.96,402.71 252.30,408.51 230.64,402.71 214.79,386.86 208.99,365.20 214.79,343.54 230.64,327.69" fill="none" stroke="#cfcfcf" stroke-width="0.6"/>
<path d="M252.30 365.20L252.30 315.70M252.30 365.20L277.05 322.33M252.30 365.20L295.17 340.45M252.30 365.20L301.80 365.20M252.30 365.20L295.17 389.95M252.30 365.20L277.05 408.07M252.30 365.20L252.30 414.70M252.30 365.20L227.55 408.07M252.30 365.20L209.43 389.95M252.30 365.20L202.80 365.20M252.30 365.20L209.43 340.45M252.30 365.20L227.55 322.33" stroke="#cfcfcf" stroke-width="0.6" fill="none"/>
<polygon points="252.30,315.70 277.05,322.33 295.17,340.45 301.80,365.20 295.17,389.95 277.05,408.07 252.30,414.70 227.55,408.07 209.43,389.95 202.80,365.20 209.43,340.45 227.55,322.33" fill="none" stroke="#4d4d4d" stroke-width="0.75"/>
<text x="253.70" y="358.90" font-size="4.6" fill="#333" text-anchor="middle">0.5</text>
<text x="251.46" y="353.22" font-size="4.6" fill="#333" text-anchor="middle">1.0</text>
<text x="249.21" y="347.53" font-size="4.6" fill="#333" text-anchor="middle">1.5</text>
<text x="246.97" y="341.85" font-size="4.6" fill="#333" text-anchor="middle">2.0</text>
<text x="244.72" y="336.16" font-size="4.6" fill="#333" text-anchor="middle">2.5</text>
<text x="242.48" y="330.48" font-size="4.6" fill="#333" text-anchor="middle">3.0</text>
<text x="240.23" y="324.79" font-size="4.6" fill="#333" text-anchor="middle">3.5</text>
<text x="237.99" y="319.11" font-size="4.6" fill="#333" text-anchor="middle">4.0</text>
<polygon points="252.30,342.43 262.88,346.87 259.27,361.18 265.42,365.20 267.30,373.86 260.59,379.56 252.30,398.98 228.23,406.89 244.80,369.53 245.87,365.20 246.08,361.61 234.73,334.76" fill="#17becf" fill-opacity="0.38" stroke="#17becf" stroke-width="0.85" stroke-linejoin="miter"/>
<text x="255.00" y="313.60" font-size="7.7" text-anchor="middle">CD3</text>
<text x="288.20" y="321.10" font-size="7.7" text-anchor="middle">PD-L1</text>
<text x="307.80" y="340.60" font-size="7.7" text-anchor="middle">PD-1</text>
<text x="315.00" y="369.30" font-size="7.7" text-anchor="middle">Granzyme B</text>
<text x="309.00" y="398.30" font-size="7.7" text-anchor="middle">FoxP3</text>
<text x="284.70" y="418.30" font-size="7.7" text-anchor="middle">CK</text>
<text x="254.40" y="423.90" font-size="7.7" text-anchor="middle">CD163</text>
<text x="219.90" y="418.80" font-size="7.7" text-anchor="middle">CD68</text>
<text x="200.10" y="398.30" font-size="7.7" text-anchor="middle">CD56</text>
<text x="190.50" y="369.30" font-size="7.7" text-anchor="middle">CD20</text>
<text x="201.70" y="341.00" font-size="7.7" text-anchor="middle">CD8</text>
<text x="223.10" y="320.50" font-size="7.7" text-anchor="middle">CD4</text>
<rect x="222.50" y="433.00" width="58" height="18.40" fill="#8bdee7"/>
<text x="251.00" y="446.80" font-size="12.7" text-anchor="middle">Niche 10</text>
</g>
<g id="k">
<rect x="379" y="335" width="14" height="11" fill="#fae6d4" shape-rendering="crispEdges"/>
<rect x="393" y="335" width="15" height="11" fill="#22142e" shape-rendering="crispEdges"/>
<rect x="408" y="335" width="14" height="11" fill="#1a1028" shape-rendering="crispEdges"/>
<rect x="422" y="335" width="14" height="11" fill="#0a0820" shape-rendering="crispEdges"/>
<rect x="436" y="335" width="14" height="11" fill="#0f0b24" shape-rendering="crispEdges"/>
<rect x="450" y="335" width="15" height="11" fill="#0d0a22" shape-rendering="crispEdges"/>
<rect x="465" y="335" width="14" height="11" fill="#0f0b24" shape-rendering="crispEdges"/>
<rect x="479" y="335" width="14" height="11" fill="#0d0a22" shape-rendering="crispEdges"/>
<rect x="493" y="335" width="15" height="11" fill="#0d0a22" shape-rendering="crispEdges"/>
<rect x="508" y="335" width="14" height="11" fill="#0d0a22" shape-rendering="crispEdges"/>
<rect x="522" y="335" width="14" height="11" fill="#0b0920" shape-rendering="crispEdges"/>
<rect x="536" y="335" width="14" height="11" fill="#0b0920" shape-rendering="crispEdges"/>
<rect x="379" y="346" width="14" height="11" fill="#521a4a" shape-rendering="crispEdges"/>
<rect x="393" y="346" width="15" height="11" fill="#6b1d56" shape-rendering="crispEdges"/>
<rect x="408" y="346" width="14" height="11" fill="#531a4b" shape-rendering="crispEdges"/>
<rect x="422" y="346" width="14" height="11" fill="#3e1840" shape-rendering="crispEdges"/>
<rect x="436" y="346" width="14" height="11" fill="#4c1a49" shape-rendering="crispEdges"/>
<rect x="450" y="346" width="15" height="11" fill="#4f1a4a" shape-rendering="crispEdges"/>
<rect x="465" y="346" width="14" height="11" fill="#5a1b50" shape-rendering="crispEdges"/>
<rect x="479" y="346" width="14" height="11" fill="#55194d" shape-rendering="crispEdges"/>
<rect x="493" y="346" width="15" height="11" fill="#5a1b50" shape-rendering="crispEdges"/>
<rect x="508" y="346" width="14" height="11" fill="#f9dcc4" shape-rendering="crispEdges"/>
<rect x="522" y="346" width="14" height="11" fill="#7a1d58" shape-rendering="crispEdges"/>
<rect x="536" y="346" width="14" height="11" fill="#6c1c55" shape-rendering="crispEdges"/>
<rect x="379" y="357" width="14" height="11" fill="#4f1a4a" shape-rendering="crispEdges"/>
<rect x="393" y="357" width="15" height="11" fill="#30143a" shape-rendering="crispEdges"/>
<rect x="408" y="357" width="14" height="11" fill="#3f1843" shape-rendering="crispEdges"/>
<rect x="422" y="357" width="14" height="11" fill="#3d1842" shape-rendering="crispEdges"/>
<rect x="436" y="357" width="14" height="11" fill="#641c54" shape-rendering="crispEdges"/>
<rect x="450" y="357" width="15" height="11" fill="#34153c" shape-rendering="crispEdges"/>
<rect x="465" y="357" width="14" height="11" fill="#5c1b51" shape-rendering="crispEdges"/>
<rect x="479" y="357" width="14" height="11" fill="#9c1a5b" shape-rendering="crispEdges"/>
<rect x="493" y="357" width="15" height="11" fill="#fae3cd" shape-rendering="crispEdges"/>
<rect x="508" y="357" width="14" height="11" fill="#631c53" shape-rendering="crispEdges"/>
<rect x="522" y="357" width="14" height="11" fill="#8f1b5a" shape-rendering="crispEdges"/>
<rect x="536" y="357" width="14" height="11" fill="#6d1c56" shape-rendering="crispEdges"/>
<rect x="379" y="368" width="14" height="11" fill="#f5a77f" shape-rendering="crispEdges"/>
<rect x="393" y="368" width="15" height="11" fill="#f5a77f" shape-rendering="crispEdges"/>
<rect x="408" y="368" width="14" height="11" fill="#6a1c55" shape-rendering="crispEdges"/>
<rect x="422" y="368" width="14" height="11" fill="#1b1028" shape-rendering="crispEdges"/>
<rect x="436" y="368" width="14" height="11" fill="#511a4b" shape-rendering="crispEdges"/>
<rect x="450" y="368" width="15" height="11" fill="#511a4b" shape-rendering="crispEdges"/>
<rect x="465" y="368" width="14" height="11" fill="#2d1439" shape-rendering="crispEdges"/>
<rect x="479" y="368" width="14" height="11" fill="#3e1842" shape-rendering="crispEdges"/>
<rect x="493" y="368" width="15" height="11" fill="#7f1d59" shape-rendering="crispEdges"/>
<rect x="508" y="368" width="14" height="11" fill="#5e1b52" shape-rendering="crispEdges"/>
<rect x="522" y="368" width="14" height="11" fill="#a01a5b" shape-rendering="crispEdges"/>
<rect x="536" y="368" width="14" height="11" fill="#9a1a5b" shape-rendering="crispEdges"/>
<rect x="379" y="379" width="14" height="11" fill="#f8d0b5" shape-rendering="crispEdges"/>
<rect x="393" y="379" width="15" height="11" fill="#8e1b5a" shape-rendering="crispEdges"/>
<rect x="408" y="379" width="14" height="11" fill="#8a1b5a" shape-rendering="crispEdges"/>
<rect x="422" y="379" width="14" height="11" fill="#251230" shape-rendering="crispEdges"/>
<rect x="436" y="379" width="14" height="11" fill="#561a4e" shape-rendering="crispEdges"/>
<rect x="450" y="379" width="15" height="11" fill="#4f1a4a" shape-rendering="crispEdges"/>
<rect x="465" y="379" width="14" height="11" fill="#521a4c" shape-rendering="crispEdges"/>
<rect x="479" y="379" width="14" height="11" fill="#521a4c" shape-rendering="crispEdges"/>
<rect x="493" y="379" width="15" height="11" fill="#a01a5b" shape-rendering="crispEdges"/>
<rect x="508" y="379" width="14" height="11" fill="#8d1b5a" shape-rendering="crispEdges"/>
<rect x="522" y="379" width="14" height="11" fill="#d51f4a" shape-rendering="crispEdges"/>
<rect x="536" y="379" width="14" height="11" fill="#d11e4b" shape-rendering="crispEdges"/>
<rect x="379" y="390" width="14" height="11" fill="#f29a73" shape-rendering="crispEdges"/>
<rect x="393" y="390" width="15" height="11" fill="#b0185a" shape-rendering="crispEdges"/>
<rect x="408" y="390" width="14" height="11" fill="#6b1c55" shape-rendering="crispEdges"/>
<rect x="422" y="390" width="14" height="11" fill="#3e1842" shape-rendering="crispEdges"/>
<rect x="436" y="390" width="14" height="11" fill="#b0185a" shape-rendering="crispEdges"/>
<rect x="450" y="390" width="15" height="11" fill="#b0185a" shape-rendering="crispEdges"/>
<rect x="465" y="390" width="14" height="11" fill="#801d59" shape-rendering="crispEdges"/>
<rect x="479" y="390" width="14" height="11" fill="#931b5a" shape-rendering="crispEdges"/>
<rect x="493" y="390" width="15" height="11" fill="#e84b3a" shape-rendering="crispEdges"/>
<rect x="508" y="390" width="14" height="11" fill="#b4195a" shape-rendering="crispEdges"/>
<rect x="522" y="390" width="14" height="11" fill="#e9553b" shape-rendering="crispEdges"/>
<rect x="536" y="390" width="14" height="11" fill="#d72548" shape-rendering="crispEdges"/>
<rect x="379" y="401" width="14" height="11" fill="#e3373e" shape-rendering="crispEdges"/>
<rect x="393" y="401" width="15" height="11" fill="#ea5038" shape-rendering="crispEdges"/>
<rect x="408" y="401" width="14" height="11" fill="#6f1c56" shape-rendering="crispEdges"/>
<rect x="422" y="401" width="14" height="11" fill="#4e1a4a" shape-rendering="crispEdges"/>
<rect x="436" y="401" width="14" height="11" fill="#a51a5b" shape-rendering="crispEdges"/>
<rect x="450" y="401" width="15" height="11" fill="#a51a5b" shape-rendering="crispEdges"/>
<rect x="465" y="401" width="14" height="11" fill="#a01a5b" shape-rendering="crispEdges"/>
<rect x="479" y="401" width="14" height="11" fill="#a01a5b" shape-rendering="crispEdges"/>
<rect x="493" y="401" width="15" height="11" fill="#dd2a44" shape-rendering="crispEdges"/>
<rect x="508" y="401" width="14" height="11" fill="#a81a5b" shape-rendering="crispEdges"/>
<rect x="522" y="401" width="14" height="11" fill="#dd3040" shape-rendering="crispEdges"/>
<rect x="536" y="401" width="14" height="11" fill="#c71d50" shape-rendering="crispEdges"/>
<rect x="379" y="412" width="14" height="12" fill="#8a1b5a" shape-rendering="crispEdges"/>
<rect x="393" y="412" width="15" height="12" fill="#a01a5b" shape-rendering="crispEdges"/>
<rect x="408" y="412" width="14" height="12" fill="#4a1a49" shape-rendering="crispEdges"/>
<rect x="422" y="412" width="14" height="12" fill="#3a1741" shape-rendering="crispEdges"/>
<rect x="436" y="412" width="14" height="12" fill="#3a1741" shape-rendering="crispEdges"/>
<rect x="450" y="412" width="15" height="12" fill="#3c1842" shape-rendering="crispEdges"/>
<rect x="465" y="412" width="14" height="12" fill="#751d58" shape-rendering="crispEdges"/>
<rect x="479" y="412" width="14" height="12" fill="#561a4e" shape-rendering="crispEdges"/>
<rect x="493" y="412" width="15" height="12" fill="#b0185a" shape-rendering="crispEdges"/>
<rect x="508" y="412" width="14" height="12" fill="#e84b3a" shape-rendering="crispEdges"/>
<rect x="522" y="412" width="14" height="12" fill="#ef6140" shape-rendering="crispEdges"/>
<rect x="536" y="412" width="14" height="12" fill="#f7c0a0" shape-rendering="crispEdges"/>
<rect x="379" y="424" width="14" height="11" fill="#541a4d" shape-rendering="crispEdges"/>
<rect x="393" y="424" width="15" height="11" fill="#5c1b51" shape-rendering="crispEdges"/>
<rect x="408" y="424" width="14" height="11" fill="#2a1336" shape-rendering="crispEdges"/>
<rect x="422" y="424" width="14" height="11" fill="#711c57" shape-rendering="crispEdges"/>
<rect x="436" y="424" width="14" height="11" fill="#5e1b52" shape-rendering="crispEdges"/>
<rect x="450" y="424" width="15" height="11" fill="#701c56" shape-rendering="crispEdges"/>
<rect x="465" y="424" width="14" height="11" fill="#b0185a" shape-rendering="crispEdges"/>
<rect x="479" y="424" width="14" height="11" fill="#6a1c55" shape-rendering="crispEdges"/>
<rect x="493" y="424" width="15" height="11" fill="#f29a73" shape-rendering="crispEdges"/>
<rect x="508" y="424" width="14" height="11" fill="#bd1857" shape-rendering="crispEdges"/>
<rect x="522" y="424" width="14" height="11" fill="#f5a987" shape-rendering="crispEdges"/>
<rect x="536" y="424" width="14" height="11" fill="#a81a5b" shape-rendering="crispEdges"/>
<rect x="379" y="435" width="14" height="11" fill="#811d59" shape-rendering="crispEdges"/>
<rect x="393" y="435" width="15" height="11" fill="#b9185a" shape-rendering="crispEdges"/>
<rect x="408" y="435" width="14" height="11" fill="#4e1a4a" shape-rendering="crispEdges"/>
<rect x="422" y="435" width="14" height="11" fill="#b9185a" shape-rendering="crispEdges"/>
<rect x="436" y="435" width="14" height="11" fill="#dd2f42" shape-rendering="crispEdges"/>
<rect x="450" y="435" width="15" height="11" fill="#de3041" shape-rendering="crispEdges"/>
<rect x="465" y="435" width="14" height="11" fill="#b9185a" shape-rendering="crispEdges"/>
<rect x="479" y="435" width="14" height="11" fill="#a81a5b" shape-rendering="crispEdges"/>
<rect x="493" y="435" width="15" height="11" fill="#f07a52" shape-rendering="crispEdges"/>
<rect x="508" y="435" width="14" height="11" fill="#d52348" shape-rendering="crispEdges"/>
<rect x="522" y="435" width="14" height="11" fill="#ef6140" shape-rendering="crispEdges"/>
<rect x="536" y="435" width="14" height="11" fill="#dd2f42" shape-rendering="crispEdges"/>
<rect x="379.00" y="345.69" width="171.36" height="1.1" fill="#f4e6ea" fill-opacity="0.9"/>
<rect x="379.00" y="356.73" width="171.36" height="1.1" fill="#f4e6ea" fill-opacity="0.9"/>
<rect x="379.00" y="367.77" width="171.36" height="1.1" fill="#f4e6ea" fill-opacity="0.9"/>
<rect x="379.00" y="389.85" width="171.36" height="1.1" fill="#f4e6ea" fill-opacity="0.9"/>
<rect x="379.00" y="411.93" width="171.36" height="1.1" fill="#f4e6ea" fill-opacity="0.9"/>
<rect x="379.00" y="422.97" width="171.36" height="1.1" fill="#f4e6ea" fill-opacity="0.9"/>
<text x="465.3" y="343.72" font-size="8.8" font-weight="bold" fill="#fff" text-anchor="middle">a</text>
<text x="465.3" y="354.76" font-size="8.8" font-weight="bold" fill="#fff" text-anchor="middle">c</text>
<text x="465.3" y="365.80" font-size="8.8" font-weight="bold" fill="#fff" text-anchor="middle">e</text>
<text x="465.3" y="382.36" font-size="8.8" font-weight="bold" fill="#fff" text-anchor="middle">b</text>
<text x="465.3" y="404.44" font-size="8.8" font-weight="bold" fill="#fff" text-anchor="middle">d</text>
<text x="465.3" y="421.00" font-size="8.8" font-weight="bold" fill="#fff" text-anchor="middle">c</text>
<text x="465.3" y="437.56" font-size="8.8" font-weight="bold" fill="#fff" text-anchor="middle">e</text>
<text transform="translate(389.24,450) rotate(-90)" font-size="8.5" text-anchor="end">CK</text>
<text transform="translate(403.52,450) rotate(-90)" font-size="8.5" text-anchor="end">PD-L1</text>
<text transform="translate(417.80,450) rotate(-90)" font-size="8.5" text-anchor="end">CD56</text>
<text transform="translate(432.08,450) rotate(-90)" font-size="8.5" text-anchor="end">CD20</text>
<text transform="translate(446.36,450) rotate(-90)" font-size="8.5" text-anchor="end">CD8</text>
<text transform="translate(460.64,450) rotate(-90)" font-size="8.5" text-anchor="end">PD-1</text>
<text transform="translate(474.92,450) rotate(-90)" font-size="8.5" text-anchor="end">FoxP3</text>
<text transform="translate(489.20,450) rotate(-90)" font-size="8.5" text-anchor="end">GrB</text>
<text transform="translate(503.48,450) rotate(-90)" font-size="8.5" text-anchor="end">CD3</text>
<text transform="translate(517.76,450) rotate(-90)" font-size="8.5" text-anchor="end">CD163</text>
<text transform="translate(532.04,450) rotate(-90)" font-size="8.5" text-anchor="end">CD4</text>
<text transform="translate(546.32,450) rotate(-90)" font-size="8.5" text-anchor="end">CD68</text>
<rect x="553.6" y="335.65" width="10.8" height="10.14" fill="#ea9394"/>
<text x="559.0" y="343.82" font-size="8.6" fill="#222" text-anchor="middle">4</text>
<rect x="553.6" y="346.69" width="10.8" height="10.14" fill="#dede90"/>
<text x="559.0" y="354.86" font-size="8.6" fill="#222" text-anchor="middle">9</text>
<rect x="553.6" y="357.73" width="10.8" height="10.14" fill="#bfbfbf"/>
<text x="559.0" y="365.90" font-size="8.6" fill="#222" text-anchor="middle">8</text>
<rect x="553.6" y="368.77" width="10.8" height="10.14" fill="#c6aaa5"/>
<text x="559.0" y="376.94" font-size="8.6" fill="#222" text-anchor="middle">6</text>
<rect x="553.6" y="379.81" width="10.8" height="10.14" fill="#ffbf86"/>
<text x="559.0" y="387.98" font-size="8.6" fill="#222" text-anchor="middle">2</text>
<rect x="553.6" y="390.85" width="10.8" height="10.14" fill="#8fbbda"/>
<text x="559.0" y="399.02" font-size="8.6" fill="#222" text-anchor="middle">1</text>
<rect x="553.6" y="401.89" width="10.8" height="10.14" fill="#96d096"/>
<text x="559.0" y="410.06" font-size="8.6" fill="#222" text-anchor="middle">3</text>
<rect x="553.6" y="412.93" width="10.8" height="10.14" fill="#8bdee7"/>
<text x="559.0" y="421.10" font-size="8.6" fill="#222" text-anchor="middle">10</text>
<rect x="553.6" y="423.97" width="10.8" height="10.14" fill="#cab3de"/>
<text x="559.0" y="432.14" font-size="8.6" fill="#222" text-anchor="middle">5</text>
<rect x="553.6" y="435.01" width="10.8" height="10.14" fill="#f1bbe0"/>
<text x="559.0" y="443.18" font-size="8.6" fill="#222" text-anchor="middle">7</text>
<text x="575.2" y="351.3" font-size="8.7" font-weight="bold" fill="#111">Niche groups:</text>
<text x="575.2" y="365.60" font-size="8.8" fill="#222">a.</text><text x="585.4" y="365.60" font-size="8.8" fill="#222">Carcinoma cell-dominant</text>
<text x="575.2" y="381.45" font-size="8.8" fill="#222">b.</text><text x="585.4" y="381.45" font-size="8.8" fill="#222">Carcinoma cell-enriched</text>
<text x="575.2" y="397.30" font-size="8.8" fill="#222">c.</text><text x="585.4" y="397.30" font-size="8.8" fill="#222">Macrophage-rich</text>
<text x="575.2" y="413.15" font-size="8.8" fill="#222">d.</text><text x="585.4" y="413.15" font-size="8.8" fill="#222">Strong immune reaction</text>
<text x="575.2" y="429.00" font-size="8.8" fill="#222">e.</text><text x="585.4" y="429.00" font-size="8.8" fill="#222">Lymphocyte-rich</text>
<path d="M386.14 335.20V309.20H464.40V318.20M415.50 320.70V318.20H512.60V319.00M400.42 335.20V320.70H430.40V327.30M414.70 335.20V327.30H446.50V327.80M428.98 335.20V327.80H464.40V330.20M450.50 332.40V330.20H478.70V331.10M443.26 335.20V332.40H457.54V335.20M471.82 335.20V331.10H486.10V335.20M500.38 335.20V319.00H525.40V321.50M514.66 335.20V321.50H535.60V326.70M528.94 335.20V326.70H543.22V335.20M378.90 340.72H338.40V368.10H351.90M378.90 351.76H351.90V383.80H352.70M378.90 362.80H352.70V405.00H355.20M360.10 383.50H355.20V425.90H358.50M378.90 373.84H360.10V393.30H363.40M378.90 384.88H363.40V401.30H369.30M378.90 395.92H369.30V406.96H378.90M378.90 418.00H358.50V434.30H364.40M378.90 429.04H364.40V440.08H378.90" fill="none" stroke="#c8c8c8" stroke-width="0.8"/>
<defs><linearGradient id="mg" x1="0" y1="0" x2="0" y2="1"><stop offset="0.000" stop-color="#fcfdbf"/><stop offset="0.111" stop-color="#feca8d"/><stop offset="0.222" stop-color="#fd9668"/><stop offset="0.333" stop-color="#f1605d"/><stop offset="0.444" stop-color="#cd4071"/><stop offset="0.556" stop-color="#9e2f7f"/><stop offset="0.667" stop-color="#721f81"/><stop offset="0.778" stop-color="#440f76"/><stop offset="0.889" stop-color="#180f3d"/><stop offset="1.000" stop-color="#000004"/></linearGradient></defs>
<rect x="333.8" y="400.0" width="10.1" height="64.7" fill="url(#mg)"/>
<text x="347.2" y="402.9" font-size="7.6">2</text><text x="347.2" y="435.3" font-size="7.6">0</text><text x="345.9" y="467.4" font-size="7.6">-2</text>
</g>
<g id="l">
<rect x="25.60" y="494.90" width="285.40" height="129.00" fill="#fcfdbf"/>
<path d="M25.6 623.9V499.0h1V500.6h1V498.8h1V500.4h1V499.8h1V500.3h1V504.7h1V500.5h1V499.1h1V501.6h1V500.2h1V498.0h1V497.1h1V502.1h1V503.2h1V502.2h1V502.1h1V503.0h1V500.0h1V503.4h1V498.3h1V499.3h1V500.0h1V501.0h1V498.2h1V500.4h1V498.6h1V498.8h1V500.0h1V497.4h1V497.8h1V499.9h1V504.9h1V500.0h1V499.1h1V499.0h1V501.0h1V499.6h1V498.5h1V499.3h1V500.7h1V498.4h1V499.1h1V501.5h1V504.4h1V500.5h1V498.4h1V500.1h1V498.5h1V500.7h1V498.4h1V498.9h1V498.2h1V498.2h1V499.2h1V499.4h1V498.1h1V499.3h1V498.0h1V498.8h1V500.6h1V499.5h1V502.1h1V498.4h1V498.3h1V501.1h1V501.5h1V505.2h1V503.2h1V499.4h1V502.0h1V499.4h1V499.6h1V511.9h1V503.2h1V500.1h1V500.1h1V506.6h1V501.6h1V505.3h1V499.7h1V500.0h1V504.8h1V503.8h1V502.3h1V500.4h1V500.4h1V499.2h1V504.4h1V504.2h1V501.8h1V502.4h1V501.8h1V500.0h1V501.5h1V499.5h1V501.5h1V506.6h1V501.0h1V499.6h1V502.2h1V501.2h1V502.3h1V498.6h1V499.8h1V497.9h1V498.5h1V499.6h1V499.8h1V506.2h1V515.0h1V507.2h1V502.0h1V498.8h1V499.1h1V498.8h1V499.1h1V499.3h1V500.5h1V501.3h1V499.5h1V497.9h1V499.4h1V501.7h1V503.4h1V505.6h1V506.3h1V501.8h1V502.6h1V500.9h1V511.4h1V503.9h1V501.9h1V499.3h1V500.7h1V497.8h1V498.1h1V500.8h1V501.8h1V500.6h1V503.6h1V499.7h1V501.5h1V499.9h1V498.9h1V502.0h1V500.5h1V506.8h1V501.5h1V509.6h1V500.4h1V502.9h1V499.1h1V498.7h1V500.3h1V502.6h1V499.7h1V502.7h1V501.0h1V501.2h1V503.1h1V503.0h1V499.8h1V505.9h1V503.5h1V501.3h1V500.3h1V499.7h1V500.5h1V506.8h1V502.3h1V499.2h1V503.7h1V507.1h1V502.0h1V501.4h1V505.3h1V503.4h1V502.7h1V499.1h1V498.0h1V499.1h1V500.6h1V501.4h1V503.7h1V503.2h1V502.9h1V501.0h1V500.6h1V498.3h1V498.6h1V500.1h1V501.0h1V502.3h1V501.1h1V499.5h1V499.8h1V501.2h1V500.9h1V504.1h1V502.0h1V499.4h1V502.9h1V510.4h1V501.7h1V505.4h1V510.6h1V511.2h1V502.6h1V511.3h1V504.8h1V501.4h1V501.2h1V503.0h1V499.9h1V502.1h1V507.3h1V500.1h1V498.9h1V505.5h1V505.8h1V507.2h1V501.3h1V504.4h1V507.6h1V508.7h1V502.1h1V501.1h1V500.5h1V499.0h1V501.0h1V504.3h1V503.3h1V503.0h1V507.2h1V504.8h1V506.9h1V502.4h1V503.9h1V502.9h1V500.2h1V501.6h1V501.3h1V503.1h1V500.8h1V497.0h1V497.1h1V499.0h1V500.6h1V503.3h1V503.9h1V500.9h1V500.4h1V499.6h1V500.9h1V505.0h1V518.2h1V505.9h1V500.3h1V499.7h1V500.2h1V498.9h1V500.2h1V501.5h1V505.4h1V502.3h1V500.7h1V499.3h1V499.6h1V500.3h1V501.4h1V505.5h1V503.0h1V507.5h1V503.8h1V503.1h1V497.8h1V500.6h1V507.1h1V509.4h1V508.5h1V505.0h1V500.4h1V499.6h1V500.4h1V623.9z" fill="#feca8d" shape-rendering="crispEdges"/>
<path d="M25.6 623.9V530.9h1V525.0h1V522.6h1V527.1h1V522.9h1V539.6h1V544.4h1V554.6h1V526.3h1V526.0h1V536.3h1V529.5h1V526.3h1V534.5h1V558.0h1V541.0h1V527.4h1V553.1h1V548.5h1V545.5h1V538.6h1V531.0h1V536.6h1V537.1h1V523.2h1V528.8h1V520.0h1V536.7h1V534.7h1V518.0h1V525.8h1V515.1h1V535.1h1V525.0h1V528.7h1V532.5h1V539.1h1V539.8h1V524.7h1V523.9h1V523.2h1V519.7h1V529.7h1V545.8h1V548.1h1V543.7h1V524.4h1V529.4h1V518.3h1V535.1h1V542.6h1V528.2h1V516.0h1V525.0h1V548.4h1V528.3h1V521.0h1V546.4h1V548.8h1V531.0h1V534.7h1V559.8h1V545.2h1V536.5h1V530.9h1V520.0h1V517.7h1V533.0h1V542.2h1V527.2h1V520.8h1V518.6h1V522.3h1V533.7h1V548.8h1V543.7h1V570.1h1V560.4h1V523.8h1V527.2h1V510.9h1V528.1h1V533.6h1V540.6h1V543.3h1V535.3h1V534.1h1V535.0h1V552.9h1V530.9h1V522.7h1V525.5h1V546.9h1V537.1h1V537.8h1V522.1h1V525.5h1V528.7h1V530.1h1V522.5h1V531.4h1V520.5h1V541.9h1V529.4h1V519.7h1V518.4h1V520.3h1V525.2h1V523.0h1V537.6h1V534.5h1V527.1h1V534.0h1V518.1h1V534.4h1V531.6h1V514.1h1V518.9h1V525.9h1V523.8h1V521.4h1V531.3h1V531.9h1V530.9h1V532.4h1V536.3h1V530.5h1V530.3h1V536.0h1V529.2h1V532.2h1V517.4h1V532.6h1V529.1h1V521.4h1V514.9h1V524.0h1V552.9h1V534.0h1V529.0h1V531.0h1V511.5h1V524.5h1V521.8h1V533.6h1V526.4h1V517.0h1V526.0h1V522.4h1V530.5h1V519.8h1V518.8h1V521.0h1V535.4h1V544.7h1V537.1h1V527.0h1V534.4h1V545.3h1V547.5h1V543.8h1V527.8h1V524.7h1V528.1h1V528.4h1V529.0h1V521.3h1V515.1h1V520.1h1V523.9h1V529.1h1V520.3h1V523.6h1V535.5h1V536.0h1V530.8h1V547.9h1V550.5h1V525.6h1V526.3h1V523.0h1V528.9h1V534.0h1V519.5h1V520.5h1V516.7h1V518.3h1V516.1h1V515.7h1V514.1h1V517.7h1V524.7h1V527.4h1V516.4h1V521.3h1V516.2h1V514.5h1V517.2h1V530.1h1V527.8h1V523.9h1V518.5h1V527.6h1V530.2h1V528.7h1V527.3h1V534.1h1V535.5h1V527.2h1V542.2h1V537.4h1V525.6h1V526.0h1V523.4h1V519.9h1V520.0h1V519.4h1V525.9h1V514.4h1V518.3h1V520.9h1V525.6h1V543.5h1V525.0h1V521.3h1V527.1h1V524.3h1V531.6h1V513.0h1V506.8h1V517.1h1V516.5h1V519.3h1V514.4h1V531.0h1V530.6h1V520.7h1V531.6h1V526.3h1V533.7h1V519.8h1V520.0h1V515.2h1V514.6h1V515.6h1V513.0h1V504.7h1V508.7h1V527.1h1V517.4h1V518.6h1V516.0h1V506.4h1V506.2h1V510.1h1V518.0h1V533.0h1V524.0h1V512.6h1V516.0h1V515.9h1V508.8h1V514.0h1V513.0h1V525.1h1V520.1h1V514.7h1V508.0h1V511.6h1V508.0h1V514.2h1V516.1h1V513.3h1V526.1h1V519.4h1V515.6h1V511.7h1V513.7h1V518.1h1V520.6h1V519.8h1V513.3h1V509.2h1V515.2h1V522.2h1V623.9z" fill="#fd9668" shape-rendering="crispEdges"/>
<path d="M25.6 623.9V533.5h1V528.4h1V527.7h1V531.5h1V526.5h1V544.8h1V550.9h1V561.1h1V533.2h1V535.0h1V544.4h1V534.7h1V530.8h1V540.9h1V569.2h1V546.3h1V534.6h1V562.1h1V555.6h1V556.6h1V544.7h1V546.0h1V547.0h1V547.8h1V527.9h1V535.5h1V532.0h1V557.2h1V546.9h1V527.3h1V535.6h1V526.1h1V545.3h1V539.1h1V534.1h1V541.7h1V555.5h1V549.8h1V529.9h1V532.4h1V529.7h1V524.2h1V545.4h1V555.6h1V561.0h1V566.8h1V535.0h1V536.9h1V524.6h1V541.2h1V550.2h1V537.9h1V522.6h1V535.3h1V566.6h1V544.1h1V532.8h1V558.2h1V563.5h1V547.6h1V548.6h1V577.2h1V554.9h1V545.6h1V539.0h1V531.3h1V531.6h1V550.1h1V554.2h1V539.0h1V531.4h1V528.5h1V529.9h1V545.6h1V556.2h1V552.3h1V578.3h1V569.9h1V530.7h1V539.2h1V542.7h1V545.3h1V557.7h1V555.6h1V554.6h1V544.1h1V555.1h1V558.2h1V563.5h1V545.1h1V542.3h1V545.5h1V570.3h1V546.5h1V551.3h1V535.0h1V550.6h1V538.6h1V536.1h1V531.8h1V544.2h1V540.3h1V555.9h1V542.0h1V533.9h1V538.3h1V533.6h1V538.8h1V537.0h1V550.2h1V545.6h1V540.7h1V543.4h1V534.8h1V544.9h1V552.8h1V533.4h1V533.7h1V537.8h1V538.2h1V540.1h1V548.4h1V551.1h1V548.9h1V546.2h1V549.8h1V540.1h1V547.7h1V549.8h1V541.7h1V552.2h1V529.9h1V539.4h1V539.8h1V529.2h1V533.4h1V548.0h1V562.9h1V546.4h1V540.2h1V545.1h1V527.9h1V544.6h1V533.0h1V551.3h1V537.0h1V529.7h1V543.3h1V536.0h1V539.5h1V527.2h1V528.9h1V533.2h1V553.0h1V551.8h1V550.0h1V541.2h1V546.4h1V562.4h1V567.8h1V560.6h1V544.8h1V541.3h1V548.5h1V537.3h1V549.5h1V536.4h1V529.8h1V529.8h1V532.1h1V539.8h1V529.3h1V541.3h1V543.9h1V556.3h1V545.1h1V556.8h1V558.1h1V533.9h1V531.9h1V530.5h1V540.4h1V544.3h1V526.2h1V530.0h1V524.2h1V531.8h1V536.2h1V536.0h1V524.7h1V521.9h1V530.6h1V534.7h1V533.4h1V534.6h1V526.9h1V521.1h1V528.0h1V549.0h1V538.4h1V533.2h1V526.1h1V541.1h1V537.8h1V533.9h1V531.9h1V540.9h1V553.5h1V557.0h1V553.7h1V553.6h1V537.1h1V532.4h1V531.0h1V525.7h1V529.4h1V541.8h1V532.6h1V523.0h1V530.5h1V529.5h1V537.5h1V557.8h1V534.8h1V535.6h1V538.6h1V532.4h1V547.9h1V537.7h1V525.1h1V532.3h1V522.2h1V529.7h1V523.5h1V540.3h1V541.5h1V529.0h1V541.3h1V532.1h1V539.7h1V527.7h1V527.8h1V520.1h1V525.8h1V523.7h1V517.7h1V509.3h1V522.9h1V545.6h1V528.2h1V527.4h1V524.3h1V516.2h1V513.5h1V524.8h1V537.7h1V543.4h1V534.1h1V525.1h1V532.3h1V523.6h1V522.2h1V522.4h1V519.9h1V533.6h1V528.3h1V520.7h1V512.4h1V518.4h1V520.7h1V530.9h1V528.1h1V527.6h1V534.4h1V527.0h1V525.3h1V515.9h1V520.1h1V526.8h1V527.5h1V527.4h1V521.7h1V515.4h1V523.8h1V529.9h1V623.9z" fill="#f1605d" shape-rendering="crispEdges"/>
<path d="M25.6 623.9V604.4h1V602.9h1V609.0h1V606.9h1V609.3h1V605.4h1V598.5h1V601.7h1V598.2h1V605.2h1V599.3h1V601.1h1V603.6h1V608.3h1V604.7h1V603.1h1V600.9h1V601.8h1V602.6h1V595.9h1V604.7h1V597.6h1V599.0h1V588.5h1V597.6h1V596.2h1V592.9h1V601.3h1V599.4h1V610.0h1V596.4h1V576.4h1V591.3h1V594.4h1V606.8h1V610.4h1V599.7h1V594.9h1V602.5h1V604.1h1V599.5h1V595.7h1V594.0h1V591.5h1V592.2h1V595.5h1V589.0h1V586.4h1V601.9h1V592.6h1V589.4h1V595.9h1V597.3h1V594.0h1V593.3h1V592.6h1V589.0h1V591.0h1V597.7h1V599.1h1V592.6h1V598.3h1V586.4h1V577.8h1V592.5h1V586.1h1V592.3h1V594.8h1V584.4h1V588.4h1V594.8h1V592.2h1V589.5h1V582.6h1V587.2h1V589.6h1V595.9h1V590.9h1V577.9h1V578.1h1V579.0h1V572.9h1V576.7h1V573.5h1V585.4h1V578.1h1V575.0h1V594.3h1V585.3h1V572.6h1V584.4h1V580.1h1V591.2h1V592.6h1V579.6h1V573.0h1V584.2h1V585.9h1V570.5h1V569.4h1V569.9h1V572.8h1V581.9h1V572.3h1V585.7h1V570.2h1V567.3h1V590.9h1V570.6h1V575.2h1V575.7h1V566.1h1V583.4h1V574.9h1V569.2h1V574.6h1V560.5h1V563.5h1V562.7h1V574.3h1V556.5h1V567.0h1V576.0h1V570.6h1V577.0h1V568.6h1V572.8h1V571.7h1V566.6h1V554.4h1V566.3h1V547.7h1V557.8h1V563.0h1V559.8h1V564.4h1V575.0h1V577.2h1V561.8h1V568.3h1V570.1h1V556.6h1V566.9h1V562.7h1V574.4h1V562.0h1V550.5h1V561.4h1V551.9h1V559.7h1V548.5h1V547.3h1V564.0h1V571.2h1V569.0h1V564.2h1V556.0h1V571.7h1V577.9h1V575.1h1V570.0h1V558.9h1V571.2h1V563.4h1V553.2h1V560.2h1V553.8h1V555.7h1V561.3h1V548.3h1V555.9h1V540.7h1V551.6h1V553.1h1V565.0h1V550.5h1V567.6h1V570.0h1V543.1h1V538.2h1V546.2h1V554.6h1V561.9h1V544.9h1V540.9h1V536.6h1V541.6h1V544.1h1V548.3h1V536.8h1V533.7h1V543.2h1V545.6h1V545.1h1V550.6h1V534.4h1V526.9h1V536.1h1V557.0h1V548.2h1V544.0h1V547.1h1V559.4h1V550.6h1V544.7h1V553.0h1V555.6h1V565.0h1V567.7h1V566.0h1V572.4h1V549.8h1V552.9h1V539.6h1V533.2h1V537.8h1V562.0h1V541.2h1V530.5h1V546.0h1V545.5h1V545.3h1V565.0h1V539.6h1V546.4h1V546.7h1V541.3h1V553.6h1V544.3h1V532.5h1V544.9h1V536.2h1V537.4h1V533.9h1V549.5h1V549.9h1V536.1h1V550.6h1V539.9h1V547.9h1V535.9h1V537.5h1V525.8h1V530.3h1V529.6h1V526.6h1V515.6h1V530.8h1V556.6h1V541.0h1V535.5h1V531.7h1V529.0h1V527.4h1V531.1h1V543.6h1V549.3h1V539.5h1V529.6h1V539.6h1V528.3h1V527.9h1V534.3h1V527.6h1V541.9h1V540.4h1V533.9h1V520.9h1V526.4h1V526.5h1V544.8h1V538.5h1V534.0h1V543.2h1V537.7h1V538.4h1V530.4h1V538.1h1V535.2h1V534.6h1V534.6h1V529.7h1V524.2h1V542.2h1V538.0h1V623.9z" fill="#cd4071" shape-rendering="crispEdges"/>
<path d="M25.6 623.9V612.7h1V610.3h1V613.2h1V610.3h1V613.0h1V608.8h1V603.0h1V606.4h1V604.1h1V610.1h1V603.7h1V604.1h1V605.9h1V611.8h1V607.9h1V607.1h1V604.0h1V605.9h1V607.6h1V599.7h1V607.5h1V601.2h1V604.2h1V600.4h1V605.8h1V602.2h1V600.6h1V606.3h1V608.4h1V612.8h1V601.2h1V599.3h1V604.4h1V601.0h1V611.4h1V613.8h1V605.2h1V599.6h1V606.5h1V609.9h1V606.0h1V604.5h1V604.4h1V605.9h1V600.0h1V601.3h1V591.6h1V590.4h1V608.4h1V597.5h1V596.9h1V601.1h1V600.6h1V599.2h1V597.7h1V597.8h1V595.7h1V598.3h1V603.1h1V603.1h1V599.6h1V603.8h1V598.9h1V600.8h1V607.2h1V594.7h1V598.1h1V598.9h1V589.5h1V593.3h1V601.1h1V600.2h1V599.4h1V590.2h1V594.1h1V594.1h1V606.1h1V603.5h1V593.5h1V594.8h1V597.6h1V585.2h1V590.4h1V595.2h1V594.7h1V591.1h1V592.6h1V604.4h1V597.1h1V589.4h1V592.3h1V590.2h1V596.1h1V596.8h1V585.7h1V581.8h1V592.4h1V594.5h1V578.5h1V587.2h1V584.8h1V582.0h1V590.6h1V581.1h1V595.0h1V578.8h1V572.7h1V602.1h1V599.7h1V586.0h1V587.8h1V579.4h1V593.1h1V589.5h1V577.1h1V586.5h1V578.6h1V575.8h1V573.7h1V587.1h1V568.9h1V585.6h1V587.9h1V584.0h1V586.7h1V582.8h1V584.2h1V576.8h1V575.8h1V561.7h1V576.4h1V562.9h1V567.4h1V571.5h1V577.3h1V576.8h1V589.4h1V586.9h1V570.4h1V579.6h1V589.4h1V573.5h1V579.1h1V573.7h1V583.0h1V573.4h1V574.0h1V573.1h1V558.1h1V569.7h1V562.7h1V563.9h1V575.1h1V580.2h1V577.3h1V569.8h1V562.7h1V583.7h1V589.6h1V588.7h1V591.3h1V575.8h1V586.5h1V590.1h1V570.7h1V573.9h1V575.8h1V578.2h1V574.3h1V566.8h1V569.3h1V547.0h1V566.5h1V563.6h1V575.0h1V557.5h1V576.7h1V581.7h1V557.3h1V546.1h1V559.8h1V564.3h1V575.9h1V567.6h1V553.4h1V547.8h1V562.1h1V554.8h1V563.9h1V554.8h1V549.2h1V551.7h1V555.7h1V556.0h1V563.0h1V543.9h1V534.7h1V549.3h1V568.2h1V564.9h1V562.2h1V557.8h1V576.1h1V580.8h1V561.2h1V563.5h1V570.4h1V578.1h1V584.5h1V587.3h1V585.9h1V564.7h1V574.6h1V552.7h1V543.3h1V547.7h1V573.0h1V555.2h1V560.1h1V564.4h1V558.1h1V558.8h1V580.5h1V557.5h1V572.2h1V582.7h1V568.9h1V578.8h1V563.5h1V553.5h1V556.2h1V548.8h1V557.8h1V552.8h1V560.5h1V568.2h1V552.8h1V567.7h1V557.7h1V559.7h1V552.3h1V549.9h1V532.7h1V541.4h1V549.9h1V539.4h1V524.0h1V541.9h1V571.6h1V566.2h1V556.9h1V566.3h1V549.8h1V542.9h1V551.8h1V556.5h1V557.4h1V548.2h1V543.3h1V555.2h1V542.9h1V545.7h1V545.3h1V549.7h1V554.0h1V555.2h1V550.8h1V533.1h1V536.9h1V536.2h1V561.0h1V561.8h1V560.2h1V558.5h1V550.5h1V554.5h1V547.4h1V554.0h1V570.1h1V553.5h1V555.9h1V553.1h1V549.2h1V562.3h1V572.8h1V623.9z" fill="#9e2f7f" shape-rendering="crispEdges"/>
<path d="M25.6 623.9V614.5h1V613.9h1V615.7h1V613.3h1V616.8h1V615.7h1V607.4h1V609.7h1V608.4h1V613.6h1V606.7h1V606.0h1V609.0h1V614.4h1V611.6h1V611.8h1V612.4h1V608.9h1V610.5h1V604.2h1V611.6h1V607.0h1V606.6h1V603.2h1V607.7h1V605.1h1V604.6h1V610.7h1V611.1h1V615.0h1V606.4h1V606.0h1V608.3h1V605.7h1V613.1h1V616.0h1V613.2h1V603.8h1V609.8h1V614.0h1V609.6h1V607.7h1V609.8h1V610.2h1V605.1h1V603.8h1V595.1h1V593.7h1V611.1h1V602.6h1V603.9h1V607.5h1V604.5h1V607.2h1V605.7h1V606.7h1V603.1h1V603.1h1V608.5h1V609.1h1V603.4h1V608.0h1V603.5h1V605.4h1V610.7h1V599.2h1V603.6h1V606.4h1V600.1h1V600.1h1V607.0h1V605.9h1V606.5h1V597.2h1V603.9h1V604.0h1V611.0h1V607.3h1V597.2h1V599.1h1V603.6h1V600.9h1V598.3h1V599.1h1V604.2h1V602.0h1V599.3h1V609.1h1V603.0h1V599.3h1V602.7h1V604.4h1V607.3h1V606.6h1V599.1h1V593.5h1V596.7h1V600.7h1V587.7h1V593.9h1V595.0h1V587.4h1V597.8h1V596.0h1V604.9h1V587.4h1V584.5h1V612.2h1V608.4h1V590.4h1V593.1h1V587.2h1V598.9h1V598.8h1V592.5h1V595.4h1V586.9h1V601.4h1V586.3h1V595.2h1V581.7h1V597.0h1V598.7h1V597.1h1V597.3h1V590.9h1V597.4h1V592.1h1V585.3h1V574.0h1V591.3h1V590.4h1V583.5h1V590.6h1V588.2h1V586.4h1V599.9h1V599.7h1V591.0h1V593.2h1V598.5h1V582.7h1V593.4h1V589.6h1V600.8h1V589.8h1V592.5h1V593.5h1V569.5h1V576.8h1V568.5h1V573.2h1V597.1h1V592.3h1V593.3h1V587.7h1V587.3h1V600.1h1V603.6h1V599.6h1V604.9h1V589.3h1V597.0h1V602.7h1V593.5h1V585.0h1V593.1h1V593.7h1V594.5h1V595.6h1V588.0h1V564.4h1V580.7h1V582.9h1V588.5h1V575.4h1V589.2h1V587.3h1V567.9h1V559.9h1V583.2h1V583.4h1V591.7h1V578.6h1V582.2h1V577.1h1V578.9h1V564.8h1V575.5h1V582.0h1V584.6h1V580.6h1V585.3h1V580.0h1V581.8h1V568.1h1V543.0h1V560.7h1V585.5h1V588.6h1V582.3h1V572.9h1V586.4h1V589.9h1V573.1h1V572.7h1V579.3h1V587.9h1V594.6h1V594.1h1V593.9h1V572.5h1V588.6h1V571.3h1V565.2h1V558.8h1V585.4h1V573.1h1V571.5h1V581.2h1V588.4h1V575.2h1V589.4h1V565.4h1V591.8h1V597.9h1V579.5h1V587.5h1V580.5h1V573.4h1V570.2h1V565.6h1V581.7h1V564.8h1V575.6h1V582.5h1V565.4h1V576.5h1V573.9h1V576.6h1V577.5h1V567.3h1V558.5h1V551.4h1V575.7h1V563.2h1V539.7h1V556.8h1V580.9h1V583.0h1V571.5h1V579.5h1V589.5h1V569.1h1V581.7h1V576.1h1V587.6h1V578.6h1V573.9h1V572.5h1V552.9h1V558.8h1V552.5h1V558.4h1V569.1h1V567.8h1V567.3h1V553.5h1V576.1h1V560.2h1V577.4h1V585.5h1V575.1h1V575.0h1V572.5h1V567.9h1V557.8h1V566.5h1V591.5h1V586.2h1V577.6h1V569.5h1V558.3h1V569.5h1V581.8h1V623.9z" fill="#721f81" shape-rendering="crispEdges"/>
<path d="M25.6 623.9V620.4h1V619.4h1V619.7h1V620.9h1V620.4h1V621.4h1V620.4h1V618.6h1V614.6h1V618.9h1V616.1h1V615.1h1V614.6h1V618.1h1V618.2h1V618.9h1V619.7h1V619.1h1V618.9h1V616.8h1V617.0h1V618.9h1V620.2h1V616.7h1V617.1h1V615.8h1V618.5h1V618.6h1V618.6h1V621.4h1V619.8h1V616.5h1V618.3h1V616.7h1V620.4h1V621.1h1V619.2h1V616.8h1V621.1h1V620.0h1V617.4h1V618.3h1V618.6h1V618.6h1V614.4h1V620.7h1V619.7h1V618.0h1V619.0h1V614.7h1V615.4h1V618.1h1V619.2h1V616.3h1V618.9h1V618.4h1V617.5h1V613.8h1V617.4h1V619.6h1V618.2h1V617.5h1V616.7h1V614.6h1V618.4h1V618.4h1V618.8h1V617.5h1V615.4h1V619.5h1V619.0h1V617.1h1V619.3h1V619.1h1V615.2h1V618.3h1V618.6h1V617.7h1V616.7h1V616.1h1V614.0h1V617.9h1V619.6h1V618.6h1V618.3h1V617.5h1V618.0h1V620.0h1V618.4h1V616.4h1V614.6h1V617.8h1V619.6h1V617.2h1V610.6h1V609.6h1V618.2h1V617.9h1V614.0h1V618.3h1V619.2h1V619.1h1V616.8h1V618.4h1V621.0h1V620.7h1V617.9h1V620.5h1V619.3h1V616.4h1V617.3h1V616.8h1V617.4h1V619.9h1V618.9h1V618.5h1V615.0h1V616.3h1V616.4h1V616.7h1V617.0h1V616.9h1V618.1h1V619.5h1V615.9h1V605.5h1V611.5h1V615.3h1V614.8h1V610.1h1V616.9h1V617.3h1V612.3h1V614.6h1V616.4h1V617.6h1V615.3h1V614.9h1V614.3h1V616.5h1V618.4h1V616.5h1V617.7h1V616.9h1V617.5h1V618.2h1V619.7h1V618.2h1V619.3h1V618.4h1V619.5h1V618.2h1V619.1h1V615.0h1V617.7h1V614.3h1V612.1h1V617.8h1V618.9h1V618.8h1V619.4h1V618.1h1V617.6h1V620.4h1V617.5h1V618.4h1V614.5h1V613.6h1V615.9h1V614.3h1V616.8h1V618.0h1V618.1h1V616.9h1V610.2h1V608.1h1V613.5h1V616.0h1V616.3h1V614.3h1V617.7h1V617.3h1V617.3h1V617.2h1V617.1h1V618.1h1V618.5h1V617.2h1V604.0h1V614.4h1V619.0h1V614.5h1V613.5h1V614.7h1V613.0h1V613.3h1V617.3h1V616.0h1V611.1h1V613.9h1V616.3h1V617.7h1V613.1h1V618.6h1V617.9h1V617.3h1V614.1h1V612.9h1V612.3h1V616.8h1V614.4h1V616.6h1V618.3h1V616.0h1V620.3h1V619.9h1V618.2h1V619.8h1V618.4h1V614.2h1V614.3h1V610.1h1V616.9h1V619.7h1V617.1h1V618.7h1V617.5h1V617.3h1V618.4h1V618.5h1V612.9h1V615.5h1V612.3h1V612.3h1V612.0h1V616.7h1V610.9h1V611.7h1V613.1h1V617.3h1V618.9h1V615.4h1V619.6h1V619.3h1V616.8h1V612.0h1V618.3h1V619.1h1V620.0h1V618.1h1V614.7h1V617.5h1V617.8h1V617.7h1V616.2h1V615.7h1V615.0h1V612.0h1V603.7h1V615.7h1V617.7h1V616.7h1V613.0h1V616.7h1V617.2h1V614.9h1V616.6h1V617.0h1V617.2h1V620.1h1V619.8h1V617.0h1V613.5h1V614.5h1V618.3h1V615.3h1V614.7h1V610.6h1V613.7h1V616.3h1V610.2h1V616.3h1V618.3h1V617.4h1V606.8h1V623.9z" fill="#440f76" shape-rendering="crispEdges"/>
<path d="M25.6 623.9V622.1h1V622.7h1V622.2h1V622.6h1V623.0h1V623.1h1V622.0h1V621.5h1V621.5h1V622.3h1V621.8h1V622.4h1V622.4h1V622.5h1V621.9h1V621.2h1V622.3h1V622.8h1V623.0h1V622.4h1V622.0h1V622.1h1V622.9h1V622.4h1V622.7h1V622.4h1V622.6h1V622.5h1V622.6h1V623.0h1V622.4h1V622.7h1V622.7h1V622.3h1V622.3h1V623.1h1V622.1h1V620.3h1V622.6h1V622.9h1V622.5h1V622.6h1V622.6h1V622.2h1V620.3h1V622.5h1V622.7h1V622.8h1V622.9h1V622.4h1V622.5h1V622.3h1V622.9h1V621.8h1V621.9h1V622.2h1V622.5h1V621.6h1V622.0h1V623.0h1V622.9h1V622.8h1V621.7h1V622.1h1V622.6h1V622.6h1V622.6h1V622.4h1V622.5h1V622.4h1V622.2h1V622.6h1V622.6h1V622.2h1V622.0h1V622.5h1V622.2h1V622.1h1V622.6h1V622.1h1V622.1h1V622.7h1V622.8h1V622.4h1V622.2h1V622.8h1V623.0h1V622.9h1V622.5h1V621.4h1V620.9h1V621.9h1V623.0h1V623.0h1V622.6h1V622.3h1V623.1h1V622.7h1V622.9h1V622.4h1V622.1h1V622.5h1V622.3h1V621.6h1V622.8h1V622.9h1V622.7h1V623.1h1V623.0h1V622.0h1V622.4h1V621.9h1V622.2h1V623.0h1V622.7h1V622.4h1V622.2h1V622.2h1V621.0h1V621.7h1V622.5h1V622.7h1V621.6h1V622.4h1V622.6h1V621.3h1V621.6h1V621.1h1V622.5h1V622.3h1V622.4h1V620.9h1V621.5h1V621.4h1V622.2h1V622.2h1V623.1h1V622.9h1V621.8h1V622.6h1V621.5h1V622.2h1V622.7h1V622.7h1V622.8h1V622.5h1V622.4h1V622.7h1V622.5h1V622.6h1V623.0h1V622.2h1V622.0h1V622.7h1V622.7h1V622.7h1V622.9h1V622.3h1V621.6h1V621.6h1V622.4h1V622.0h1V622.1h1V622.8h1V622.2h1V622.1h1V621.5h1V621.2h1V622.1h1V621.5h1V621.8h1V621.6h1V621.9h1V622.5h1V622.8h1V622.0h1V622.5h1V622.9h1V622.0h1V622.0h1V622.9h1V622.7h1V622.4h1V622.6h1V622.0h1V622.5h1V622.1h1V622.1h1V621.8h1V621.9h1V623.0h1V622.3h1V622.0h1V619.8h1V620.9h1V621.7h1V622.4h1V622.0h1V621.8h1V619.8h1V622.3h1V622.7h1V622.6h1V622.3h1V621.4h1V621.5h1V622.5h1V622.7h1V622.1h1V621.4h1V622.5h1V621.9h1V622.7h1V622.0h1V622.9h1V622.4h1V622.7h1V622.6h1V621.8h1V621.5h1V622.3h1V622.6h1V623.0h1V622.5h1V621.8h1V622.2h1V622.1h1V622.9h1V622.5h1V622.0h1V620.8h1V621.0h1V621.3h1V621.6h1V621.2h1V622.7h1V622.1h1V621.8h1V622.2h1V622.5h1V622.3h1V621.5h1V622.9h1V623.0h1V622.4h1V622.3h1V622.9h1V622.4h1V622.6h1V622.9h1V622.2h1V622.6h1V622.5h1V622.5h1V623.0h1V621.9h1V621.7h1V622.3h1V622.3h1V622.3h1V622.5h1V622.0h1V622.0h1V621.9h1V622.5h1V621.7h1V621.7h1V621.7h1V622.2h1V622.3h1V622.7h1V622.1h1V621.0h1V621.0h1V621.8h1V621.8h1V622.4h1V621.4h1V621.3h1V621.9h1V621.9h1V621.8h1V621.6h1V621.8h1V621.4h1V623.9z" fill="#180f3d" shape-rendering="crispEdges"/>
<path d="M25.6 623.9V623.4h1V623.5h1V623.6h1V623.5h1V623.6h1V623.6h1V623.5h1V623.1h1V623.4h1V623.5h1V623.2h1V623.4h1V623.4h1V623.5h1V623.3h1V623.2h1V623.6h1V623.6h1V623.7h1V623.6h1V623.7h1V623.5h1V623.7h1V623.3h1V623.4h1V623.4h1V623.7h1V623.5h1V623.4h1V623.6h1V623.6h1V623.4h1V623.6h1V623.4h1V623.3h1V623.6h1V623.4h1V622.9h1V623.5h1V623.5h1V623.4h1V623.5h1V623.5h1V623.4h1V622.9h1V623.5h1V623.4h1V623.4h1V623.6h1V622.9h1V623.2h1V623.6h1V623.5h1V623.3h1V623.5h1V623.3h1V623.5h1V623.3h1V623.1h1V623.5h1V623.4h1V623.6h1V623.5h1V623.6h1V623.5h1V623.4h1V623.3h1V623.3h1V623.5h1V623.5h1V623.3h1V623.6h1V623.5h1V623.4h1V623.0h1V623.4h1V623.6h1V623.5h1V623.5h1V622.8h1V623.3h1V623.3h1V623.4h1V623.5h1V623.5h1V623.6h1V623.5h1V623.5h1V623.2h1V623.1h1V623.4h1V623.3h1V623.5h1V623.4h1V623.4h1V623.3h1V623.6h1V623.5h1V623.6h1V623.7h1V623.6h1V623.7h1V623.3h1V622.7h1V623.5h1V623.6h1V623.5h1V623.5h1V623.5h1V623.4h1V623.4h1V623.3h1V623.6h1V623.5h1V623.4h1V623.5h1V623.4h1V623.4h1V623.0h1V623.2h1V623.3h1V623.5h1V623.4h1V623.7h1V623.5h1V623.4h1V623.6h1V623.3h1V623.6h1V623.3h1V623.5h1V623.4h1V623.3h1V623.6h1V623.2h1V623.1h1V623.6h1V623.6h1V623.5h1V623.5h1V623.2h1V623.5h1V623.5h1V623.6h1V623.6h1V623.6h1V623.2h1V623.4h1V623.3h1V623.4h1V623.6h1V623.5h1V623.5h1V623.5h1V623.6h1V623.6h1V623.7h1V623.6h1V623.0h1V623.5h1V623.6h1V623.3h1V623.1h1V623.6h1V623.5h1V623.5h1V623.5h1V623.0h1V623.2h1V623.2h1V623.4h1V623.4h1V623.4h1V623.5h1V623.6h1V623.6h1V623.2h1V623.5h1V623.3h1V623.5h1V623.6h1V623.5h1V623.3h1V623.5h1V623.4h1V623.4h1V623.1h1V623.3h1V623.2h1V623.5h1V623.7h1V623.1h1V623.0h1V623.3h1V623.0h1V623.2h1V623.4h1V623.3h1V623.4h1V623.0h1V623.5h1V623.3h1V623.3h1V623.1h1V622.9h1V623.1h1V623.5h1V623.6h1V623.3h1V623.5h1V623.4h1V623.3h1V623.7h1V623.7h1V623.6h1V623.4h1V623.4h1V623.5h1V623.6h1V623.6h1V623.5h1V623.6h1V623.6h1V623.4h1V623.3h1V623.4h1V623.5h1V623.6h1V623.6h1V623.5h1V623.4h1V623.6h1V623.2h1V623.0h1V622.6h1V623.5h1V623.2h1V623.3h1V623.4h1V623.7h1V623.5h1V623.2h1V623.6h1V623.6h1V623.4h1V623.2h1V623.6h1V623.7h1V623.7h1V623.7h1V623.7h1V623.5h1V623.3h1V623.4h1V623.6h1V623.5h1V623.1h1V623.4h1V623.4h1V623.4h1V623.4h1V623.2h1V623.2h1V623.3h1V623.5h1V623.3h1V623.4h1V623.1h1V623.5h1V623.5h1V623.5h1V623.5h1V622.8h1V622.8h1V623.4h1V623.1h1V623.4h1V623.6h1V623.3h1V623.4h1V623.2h1V623.6h1V623.6h1V623.5h1V623.0h1V623.9z" fill="#000004" shape-rendering="crispEdges"/>
<path d="M25.30 494.90V623.90" stroke="#888" stroke-width="0.6"/>
<text x="23.9" y="627.10" font-size="8.8" text-anchor="end" fill="#222">0.0</text>
<text x="23.9" y="601.30" font-size="8.8" text-anchor="end" fill="#222">0.2</text>
<text x="23.9" y="575.50" font-size="8.8" text-anchor="end" fill="#222">0.4</text>
<text x="23.9" y="549.70" font-size="8.8" text-anchor="end" fill="#222">0.6</text>
<text x="23.9" y="523.90" font-size="8.8" text-anchor="end" fill="#222">0.8</text>
<text x="23.9" y="498.10" font-size="8.8" text-anchor="end" fill="#222">1.0</text>
<text transform="translate(8.6,560) rotate(-90)" font-size="8.8" text-anchor="middle" fill="#222">Relative frequency</text>
<text x="169.0" y="493.0" font-size="9" text-anchor="middle" fill="#222">Frequency of cell niches across tumor samples</text>
<text x="172.7" y="634.6" font-size="8.9" text-anchor="middle" fill="#222">Tumor samples</text>
<rect x="313.1" y="496.00" width="7.9" height="6.3" fill="#fcfdbf"/>
<text x="325.4" y="502.30" font-size="8.8" fill="#222">5</text>
<rect x="313.1" y="509.45" width="7.9" height="6.3" fill="#feca8d"/>
<text x="325.4" y="515.75" font-size="8.8" fill="#222">2</text>
<rect x="313.1" y="522.90" width="7.9" height="6.3" fill="#fd9668"/>
<text x="325.4" y="529.20" font-size="8.8" fill="#222">1</text>
<rect x="313.1" y="536.35" width="7.9" height="6.3" fill="#f1605d"/>
<text x="325.4" y="542.65" font-size="8.8" fill="#222">4</text>
<rect x="313.1" y="549.80" width="7.9" height="6.3" fill="#cd4071"/>
<text x="325.4" y="556.10" font-size="8.8" fill="#222">3</text>
<rect x="313.1" y="563.25" width="7.9" height="6.3" fill="#9e2f7f"/>
<text x="325.4" y="569.55" font-size="8.8" fill="#222">6</text>
<rect x="313.1" y="576.70" width="7.9" height="6.3" fill="#721f81"/>
<text x="325.4" y="583.00" font-size="8.8" fill="#222">7</text>
<rect x="313.1" y="590.15" width="7.9" height="6.3" fill="#440f76"/>
<text x="325.4" y="596.45" font-size="8.8" fill="#222">10</text>
<rect x="313.1" y="603.60" width="7.9" height="6.3" fill="#180f3d"/>
<text x="325.4" y="609.90" font-size="8.8" fill="#222">8</text>
<rect x="313.1" y="617.05" width="7.9" height="6.3" fill="#000004"/>
<text x="325.4" y="623.35" font-size="8.8" fill="#222">9</text>
</g>
<g id="m">
<defs>
<filter id="he" x="-5%" y="-5%" width="110%" height="110%" color-interpolation-filters="sRGB">
<feTurbulence type="fractalNoise" baseFrequency="0.6" numOctaves="1" seed="12" result="t0"/>
<feColorMatrix in="t0" type="matrix" values="0 0 0 0 0.647 0 0 0 0 0.576 0 0 0 0 0.769 30 0 0 0 -16.183" result="c0_0"/>
<feColorMatrix in="t0" type="matrix" values="0 0 0 0 0.596 0 0 0 0 0.525 0 0 0 0 0.733 0 30 0 0 -16.183" result="c0_1"/>
<feColorMatrix in="t0" type="matrix" values="0 0 0 0 0.769 0 0 0 0 0.722 0 0 0 0 0.863 0 0 30 0 -20.537" result="c0_2"/>
<feTurbulence type="fractalNoise" baseFrequency="0.1" numOctaves="2" seed="11" result="t1"/>
<feColorMatrix in="t1" type="matrix" values="0 0 0 0 0.678 0 0 0 0 0.616 0 0 0 0 0.796 30 0 0 0 -19.114" result="c1_0"/>
<feColorMatrix in="t1" type="matrix" values="0 0 0 0 0.580 0 0 0 0 0.506 0 0 0 0 0.722 0 30 0 0 -19.558" result="c1_1"/>
<feMerge result="m0"><feMergeNode in="SourceGraphic"/><feMergeNode in="c0_0"/><feMergeNode in="c0_1"/><feMergeNode in="c0_2"/><feMergeNode in="c1_0"/><feMergeNode in="c1_1"/></feMerge>
<feGaussianBlur in="m0" stdDeviation="0.45" result="m"/>
<feComposite in="m" in2="SourceAlpha" operator="in"/>
</filter>
<filter id="he2" x="-5%" y="-5%" width="110%" height="110%" color-interpolation-filters="sRGB">
<feTurbulence type="fractalNoise" baseFrequency="0.6" numOctaves="1" seed="22" result="t0"/>
<feColorMatrix in="t0" type="matrix" values="0 0 0 0 0.647 0 0 0 0 0.576 0 0 0 0 0.769 30 0 0 0 -16.183" result="c0_0"/>
<feColorMatrix in="t0" type="matrix" values="0 0 0 0 0.596 0 0 0 0 0.525 0 0 0 0 0.733 0 30 0 0 -16.183" result="c0_1"/>
<feColorMatrix in="t0" type="matrix" values="0 0 0 0 0.769 0 0 0 0 0.722 0 0 0 0 0.863 0 0 30 0 -20.537" result="c0_2"/>
<feTurbulence type="fractalNoise" baseFrequency="0.08" numOctaves="2" seed="21" result="t1"/>
<feColorMatrix in="t1" type="matrix" values="0 0 0 0 0.690 0 0 0 0 0.631 0 0 0 0 0.808 30 0 0 0 -18.389" result="c1_0"/>
<feColorMatrix in="t1" type="matrix" values="0 0 0 0 0.569 0 0 0 0 0.494 0 0 0 0 0.714 0 30 0 0 -18.730" result="c1_1"/>
<feMerge result="m0"><feMergeNode in="SourceGraphic"/><feMergeNode in="c0_0"/><feMergeNode in="c0_1"/><feMergeNode in="c0_2"/><feMergeNode in="c1_0"/><feMergeNode in="c1_1"/></feMerge>
<feGaussianBlur in="m0" stdDeviation="0.45" result="m"/>
<feComposite in="m" in2="SourceAlpha" operator="in"/>
</filter>
<filter id="nm1" x="-5%" y="-5%" width="110%" height="110%" color-interpolation-filters="sRGB">
<feTurbulence type="fractalNoise" baseFrequency="0.12" numOctaves="2" seed="31" result="t0"/>
<feColorMatrix in="t0" type="matrix" values="0 0 0 0 1.000 0 0 0 0 0.498 0 0 0 0 0.055 30 0 0 0 -18.231" result="c0_0"/>
<feTurbulence type="fractalNoise" baseFrequency="0.45" numOctaves="2" seed="32" result="t1"/>
<feColorMatrix in="t1" type="matrix" values="0 0 0 0 1.000 0 0 0 0 0.498 0 0 0 0 0.055 30 0 0 0 -18.231" result="c1_0"/>
<feColorMatrix in="t1" type="matrix" values="0 0 0 0 0.090 0 0 0 0 0.745 0 0 0 0 0.812 0 30 0 0 -20.097" result="c1_1"/>
<feColorMatrix in="t1" type="matrix" values="0 0 0 0 0.122 0 0 0 0 0.467 0 0 0 0 0.706 0 0 30 0 -20.802" result="c1_2"/>
<feColorMatrix in="t1" type="matrix" values="0 0 0 0 0.910 0 0 0 0 0.376 0 0 0 0 0.376 0 0 0 30 -18.231" result="c1_3"/>
<feTurbulence type="fractalNoise" baseFrequency="0.9" numOctaves="1" seed="33" result="t2"/>
<feColorMatrix in="t2" type="matrix" values="0 0 0 0 1.000 0 0 0 0 1.000 0 0 0 0 1.000 30 0 0 0 -18.614" result="c2_0"/>
<feColorMatrix in="t2" type="matrix" values="0 0 0 0 0.973 0 0 0 0 0.816 0 0 0 0 0.753 0 30 0 0 -19.491" result="c2_1"/>
<feColorMatrix in="t2" type="matrix" values="0 0 0 0 0.561 0 0 0 0 0.847 0 0 0 0 0.910 0 0 30 0 -20.537" result="c2_2"/>
<feMerge result="m0"><feMergeNode in="SourceGraphic"/><feMergeNode in="c0_0"/><feMergeNode in="c1_0"/><feMergeNode in="c1_1"/><feMergeNode in="c1_2"/><feMergeNode in="c1_3"/><feMergeNode in="c2_0"/><feMergeNode in="c2_1"/><feMergeNode in="c2_2"/></feMerge>
<feGaussianBlur in="m0" stdDeviation="0.45" result="m"/>
<feComposite in="m" in2="SourceAlpha" operator="in"/>
</filter>
<filter id="nmg" x="-5%" y="-5%" width="110%" height="110%" color-interpolation-filters="sRGB">
<feTurbulence type="fractalNoise" baseFrequency="0.45" numOctaves="2" seed="35" result="t0"/>
<feColorMatrix in="t0" type="matrix" values="0 0 0 0 0.090 0 0 0 0 0.745 0 0 0 0 0.812 30 0 0 0 -19.114" result="c0_0"/>
<feColorMatrix in="t0" type="matrix" values="0 0 0 0 0.839 0 0 0 0 0.153 0 0 0 0 0.157 0 30 0 0 -19.558" result="c0_1"/>
<feColorMatrix in="t0" type="matrix" values="0 0 0 0 1.000 0 0 0 0 1.000 0 0 0 0 1.000 0 0 30 0 -19.114" result="c0_2"/>
<feMerge result="m0"><feMergeNode in="SourceGraphic"/><feMergeNode in="c0_0"/><feMergeNode in="c0_1"/><feMergeNode in="c0_2"/></feMerge>
<feGaussianBlur in="m0" stdDeviation="0.45" result="m"/>
<feComposite in="m" in2="SourceAlpha" operator="in"/>
</filter>
<filter id="nm2" x="-5%" y="-5%" width="110%" height="110%" color-interpolation-filters="sRGB">
<feTurbulence type="fractalNoise" baseFrequency="0.07" numOctaves="2" seed="41" result="t0"/>
<feColorMatrix in="t0" type="matrix" values="0 0 0 0 0.890 0 0 0 0 0.467 0 0 0 0 0.761 30 0 0 0 -18.231" result="c0_0"/>
<feColorMatrix in="t0" type="matrix" values="0 0 0 0 0.549 0 0 0 0 0.337 0 0 0 0 0.294 0 30 0 0 -18.231" result="c0_1"/>
<feTurbulence type="fractalNoise" baseFrequency="0.35" numOctaves="2" seed="42" result="t1"/>
<feColorMatrix in="t1" type="matrix" values="0 0 0 0 0.549 0 0 0 0 0.337 0 0 0 0 0.294 30 0 0 0 -19.114" result="c1_0"/>
<feColorMatrix in="t1" type="matrix" values="0 0 0 0 0.122 0 0 0 0 0.467 0 0 0 0 0.706 0 30 0 0 -21.893" result="c1_1"/>
<feColorMatrix in="t1" type="matrix" values="0 0 0 0 0.890 0 0 0 0 0.467 0 0 0 0 0.761 0 0 30 0 -20.802" result="c1_2"/>
<feColorMatrix in="t1" type="matrix" values="0 0 0 0 0.361 0 0 0 0 0.722 0 0 0 0 0.361 0 0 0 30 -18.231" result="c1_3"/>
<feTurbulence type="fractalNoise" baseFrequency="0.9" numOctaves="1" seed="43" result="t2"/>
<feColorMatrix in="t2" type="matrix" values="0 0 0 0 1.000 0 0 0 0 1.000 0 0 0 0 1.000 30 0 0 0 -18.614" result="c2_0"/>
<feColorMatrix in="t2" type="matrix" values="0 0 0 0 0.749 0 0 0 0 0.878 0 0 0 0 0.749 0 30 0 0 -19.491" result="c2_1"/>
<feMerge result="m0"><feMergeNode in="SourceGraphic"/><feMergeNode in="c0_0"/><feMergeNode in="c0_1"/><feMergeNode in="c1_0"/><feMergeNode in="c1_1"/><feMergeNode in="c1_2"/><feMergeNode in="c1_3"/><feMergeNode in="c2_0"/><feMergeNode in="c2_1"/></feMerge>
<feGaussianBlur in="m0" stdDeviation="0.45" result="m"/>
<feComposite in="m" in2="SourceAlpha" operator="in"/>
</filter>
<clipPath id="cm1"><circle cx="115.3" cy="677.3" r="26.4"/></clipPath>
</defs>
<circle cx="58.8" cy="677.3" r="26.9" fill="#9f8cc0" filter="url(#he)"/>
<circle cx="115.3" cy="677.3" r="26.4" fill="#d62728" filter="url(#nm1)"/>
<g clip-path="url(#cm1)"><ellipse cx="120" cy="652" rx="10" ry="4.5" fill="#2ca02c" filter="url(#nmg)"/><ellipse cx="97" cy="660" rx="3.5" ry="5" fill="#2ca02c" filter="url(#nmg)"/></g>
<circle cx="222.5" cy="677.3" r="26.8" fill="#9f8cc0" filter="url(#he2)"/>
<circle cx="279.3" cy="677.6" r="26.2" fill="#2ca02c" filter="url(#nm2)"/>
<text x="11.5" y="682.2" font-size="8.1" fill="#111">H&amp;E</text>
<text x="175.7" y="682.2" font-size="8.1" fill="#111">H&amp;E</text>
<rect x="146.9" y="668.7" width="10.2" height="7.4" fill="#ff7f0e"/><rect x="146.9" y="680.2" width="10.2" height="7.4" fill="#d62728"/>
<text x="161.5" y="676.0" font-size="8.6" fill="#111">2</text><text x="161.5" y="687.5" font-size="8.6" fill="#111">4</text>
<rect x="310.6" y="663.60" width="10.8" height="7.4" fill="#2ca02c"/><text x="326.0" y="670.70" font-size="8.6" fill="#111">3</text>
<rect x="310.6" y="674.90" width="10.8" height="7.4" fill="#8c564b"/><text x="326.0" y="682.00" font-size="8.6" fill="#111">6</text>
<rect x="310.6" y="686.20" width="10.8" height="7.4" fill="#e377c2"/><text x="326.0" y="693.30" font-size="8.6" fill="#111">7</text>
<rect x="285" y="707.9" width="18" height="1.3" fill="#111"/>
<text x="295.2" y="718.6" font-size="8.4" fill="#111" text-anchor="middle">500µm</text>
</g>
<g id="n">
<rect x="26.30" y="747.40" width="7.75" height="4.60" fill="#ff7f0e"/>
<rect x="34.00" y="747.40" width="17.25" height="4.60" fill="#2ca02c"/>
<rect x="51.20" y="747.40" width="41.85" height="4.60" fill="#d62728"/>
<rect x="94.00" y="747.40" width="49.35" height="4.60" fill="#9467bd"/>
<rect x="143.30" y="747.40" width="71.85" height="4.60" fill="#8c564b"/>
<rect x="216.10" y="747.40" width="30.15" height="4.60" fill="#e377c2"/>
<rect x="246.20" y="747.40" width="29.75" height="4.60" fill="#7f7f7f"/>
<rect x="276.90" y="747.40" width="1.95" height="4.60" fill="#bcbd22"/>
<rect x="278.80" y="747.40" width="2.85" height="4.60" fill="#17becf"/>
<rect x="281.60" y="747.40" width="3.85" height="4.60" fill="#3d0d8c"/>
<rect x="285.40" y="747.40" width="8.65" height="4.60" fill="#004d00"/>
<rect x="294.00" y="747.40" width="2.55" height="4.60" fill="#1de98b"/>
<rect x="296.50" y="747.40" width="1.05" height="4.60" fill="#2a1a3a"/>
<rect x="297.50" y="747.40" width="6.15" height="4.60" fill="#aeb2f5"/>
<rect x="303.60" y="747.40" width="16.35" height="4.60" fill="#e0b2a2"/>
<path fill="#20122e" shape-rendering="crispEdges" d="M260 863h2v12h-2z"/>
<path fill="#37193f" shape-rendering="crispEdges" d="M26 826h3v12h-3zM39 838h2v12h-2zM96 850h3v13h-3zM223 863h2v12h-2z"/>
<path fill="#3f1b43" shape-rendering="crispEdges" d="M117 863h3v12h-3zM208 838h2v12h-2zM271 850h3v13h-3z"/>
<path fill="#481c48" shape-rendering="crispEdges" d="M34 863h2v12h-2zM44 863h2v12h-2zM190 863h2v12h-2zM246 863h2v12h-2z"/>
<path fill="#501d4c" shape-rendering="crispEdges" d="M46 863h3v12h-3zM54 863h2v12h-2zM113 863h2v12h-2zM139 863h2v12h-2zM201 838h3v12h-3zM218 850h3v13h-3zM244 863h2v12h-2zM264 863h3v12h-3z"/>
<path fill="#581e4f" shape-rendering="crispEdges" d="M201 863h3v12h-3zM221 863h2v12h-2zM235 850h2v13h-2zM239 863h3v12h-3zM244 789h2v12h-2zM244 850h2v13h-2zM248 863h3v12h-3zM255 850h3v13h-3z"/>
<path fill="#611f53" shape-rendering="crispEdges" d="M58 863h2v12h-2zM81 863h3v12h-3zM96 863h3v12h-3zM106 863h2v12h-2zM129 850h3v13h-3zM160 789h2v12h-2zM169 863h2v12h-2zM178 863h2v12h-2zM187 863h3v12h-3zM192 863h2v12h-2zM206 863h2v12h-2zM213 838h2v12h-2zM223 850h2v13h-2zM225 863h3v12h-3zM228 850h2v13h-2zM232 863h3v12h-3zM253 863h2v12h-2zM264 850h3v13h-3zM267 863h2v12h-2z"/>
<path fill="#691f55" shape-rendering="crispEdges" d="M46 838h3v12h-3zM63 863h2v12h-2zM94 850h2v13h-2zM113 850h2v13h-2zM120 863h2v12h-2zM125 863h2v12h-2zM146 838h2v12h-2zM155 838h2v12h-2zM178 838h2v12h-2zM194 838h3v12h-3zM199 838h2v12h-2zM206 838h2v12h-2zM251 863h2v12h-2zM258 850h2v13h-2zM258 863h2v12h-2zM271 863h3v12h-3zM318 863h2v12h-2z"/>
<path fill="#711f57" shape-rendering="crispEdges" d="M34 826h2v12h-2zM41 850h3v13h-3zM41 863h3v12h-3zM60 863h3v12h-3zM77 863h2v12h-2zM79 850h2v13h-2zM81 850h3v13h-3zM86 863h2v12h-2zM91 863h2v12h-2zM99 850h2v13h-2zM101 850h2v13h-2zM110 850h3v13h-3zM115 863h2v12h-2zM132 863h2v12h-2zM134 863h2v12h-2zM136 863h3v12h-3zM141 863h2v12h-2zM148 863h2v12h-2zM160 838h2v12h-2zM160 863h2v12h-2zM162 863h2v12h-2zM166 838h3v12h-3zM171 863h2v12h-2zM173 838h3v12h-3zM183 863h2v12h-2zM187 838h3v12h-3zM190 838h2v12h-2zM197 863h2v12h-2zM213 850h2v13h-2zM221 850h2v13h-2zM262 850h2v13h-2zM262 863h2v12h-2zM313 789h2v12h-2z"/>
<path fill="#7b1f59" shape-rendering="crispEdges" d="M29 813h2v13h-2zM29 863h2v12h-2zM63 850h2v13h-2zM65 863h2v12h-2zM77 850h2v13h-2zM84 863h2v12h-2zM94 863h2v12h-2zM101 863h2v12h-2zM103 850h3v13h-3zM108 850h2v13h-2zM108 863h2v12h-2zM110 863h3v12h-3zM117 850h3v13h-3zM127 863h2v12h-2zM134 850h2v13h-2zM141 850h2v13h-2zM146 863h2v12h-2zM169 838h2v12h-2zM173 789h3v12h-3zM192 838h2v12h-2zM197 850h2v13h-2zM210 838h3v12h-3zM216 850h2v13h-2zM228 863h2v12h-2zM230 850h2v13h-2zM232 850h3v13h-3zM237 850h2v13h-2zM242 863h2v12h-2zM260 850h2v13h-2zM274 850h2v13h-2zM277 850h2v13h-2zM296 850h2v13h-2zM311 850h2v13h-2z"/>
<path fill="#841e5a" shape-rendering="crispEdges" d="M26 813h3v13h-3zM29 826h2v12h-2zM44 838h2v12h-2zM49 863h2v12h-2zM67 850h3v13h-3zM79 863h2v12h-2zM94 777h2v12h-2zM103 789h3v12h-3zM120 850h2v13h-2zM127 850h2v13h-2zM139 850h2v13h-2zM143 850h3v13h-3zM148 850h2v13h-2zM150 838h3v12h-3zM164 850h2v13h-2zM173 863h3v12h-3zM185 863h2v12h-2zM194 863h3v12h-3zM199 863h2v12h-2zM204 863h2v12h-2zM239 850h3v13h-3zM267 850h2v13h-2zM269 863h2v12h-2zM274 789h2v12h-2zM279 789h3v12h-3zM288 863h2v12h-2zM292 789h2v12h-2zM294 850h2v13h-2zM296 789h2v12h-2zM313 838h2v12h-2zM315 764h3v13h-3z"/>
<path fill="#8c1d5b" shape-rendering="crispEdges" d="M39 863h2v12h-2zM56 863h2v12h-2zM65 850h2v13h-2zM72 863h2v12h-2zM86 838h2v12h-2zM88 863h3v12h-3zM91 850h2v13h-2zM101 789h2v12h-2zM106 838h2v12h-2zM115 850h2v13h-2zM129 863h3v12h-3zM132 777h2v12h-2zM132 789h2v12h-2zM132 850h2v13h-2zM141 789h2v12h-2zM143 838h3v12h-3zM148 838h2v12h-2zM157 850h3v13h-3zM157 863h3v12h-3zM176 850h2v13h-2zM204 838h2v12h-2zM225 850h3v13h-3zM228 789h2v12h-2zM232 789h3v12h-3zM248 850h3v13h-3zM285 813h3v13h-3zM311 863h2v12h-2z"/>
<path fill="#971c5b" shape-rendering="crispEdges" d="M26 850h3v13h-3zM34 850h2v13h-2zM70 850h2v13h-2zM74 850h3v13h-3zM74 863h3v12h-3zM84 850h2v13h-2zM88 850h3v13h-3zM96 789h3v12h-3zM99 777h2v12h-2zM99 863h2v12h-2zM103 777h3v12h-3zM106 850h2v13h-2zM122 850h3v13h-3zM129 777h3v12h-3zM141 777h2v12h-2zM150 863h3v12h-3zM153 863h2v12h-2zM157 789h3v12h-3zM187 850h3v13h-3zM197 838h2v12h-2zM206 850h2v13h-2zM210 789h3v12h-3zM213 863h2v12h-2zM218 863h3v12h-3zM223 764h2v13h-2zM223 789h2v12h-2zM242 850h2v13h-2zM244 777h2v12h-2zM253 850h2v13h-2zM262 789h2v12h-2zM277 789h2v12h-2zM292 813h2v13h-2zM294 863h2v12h-2zM296 863h2v12h-2zM298 838h2v12h-2zM302 789h2v12h-2zM302 863h2v12h-2zM304 789h2v12h-2zM313 850h2v13h-2z"/>
<path fill="#9f1a5b" shape-rendering="crispEdges" d="M31 813h3v13h-3zM31 863h3v12h-3zM36 838h3v12h-3zM36 863h3v12h-3zM51 850h3v13h-3zM72 850h2v13h-2zM101 777h2v12h-2zM108 777h2v12h-2zM115 777h2v12h-2zM122 863h3v12h-3zM125 850h2v13h-2zM153 850h2v13h-2zM157 838h3v12h-3zM162 838h2v12h-2zM164 838h2v12h-2zM169 850h2v13h-2zM197 789h2v12h-2zM208 863h2v12h-2zM210 863h3v12h-3zM218 789h3v12h-3zM230 863h2v12h-2zM235 789h2v12h-2zM239 777h3v12h-3zM242 777h2v12h-2zM248 789h3v12h-3zM260 777h2v12h-2zM269 850h2v13h-2zM274 863h2v12h-2zM277 813h2v13h-2zM282 850h2v13h-2zM284 789h1v12h-1zM285 801h3v12h-3zM300 789h2v12h-2zM300 838h2v12h-2zM300 863h2v12h-2zM304 777h2v12h-2zM311 764h2v13h-2zM315 863h3v12h-3zM318 838h2v12h-2z"/>
<path fill="#a8185a" shape-rendering="crispEdges" d="M34 838h2v12h-2zM41 838h3v12h-3zM44 850h2v13h-2zM49 838h2v12h-2zM58 838h2v12h-2zM58 850h2v13h-2zM63 838h2v12h-2zM70 863h2v12h-2zM125 777h2v12h-2zM127 789h2v12h-2zM134 777h2v12h-2zM134 789h2v12h-2zM143 863h3v12h-3zM153 838h2v12h-2zM155 850h2v13h-2zM155 863h2v12h-2zM176 838h2v12h-2zM176 863h2v12h-2zM180 838h3v12h-3zM183 838h2v12h-2zM201 850h3v13h-3zM204 850h2v13h-2zM210 850h3v13h-3zM216 863h2v12h-2zM218 777h3v12h-3zM225 777h3v12h-3zM225 789h3v12h-3zM235 863h2v12h-2zM237 863h2v12h-2zM251 850h2v13h-2zM279 813h3v13h-3zM279 850h3v13h-3zM288 850h2v13h-2zM290 826h2v12h-2zM296 826h2v12h-2zM298 789h2v12h-2zM302 850h2v13h-2zM304 764h2v13h-2zM306 838h2v12h-2zM308 789h3v12h-3zM308 863h3v12h-3zM311 789h2v12h-2zM318 764h2v13h-2z"/>
<path fill="#b21758" shape-rendering="crispEdges" d="M31 826h3v12h-3zM31 850h3v13h-3zM36 789h3v12h-3zM44 789h2v12h-2zM46 826h3v12h-3zM54 777h2v12h-2zM60 850h3v13h-3zM63 789h2v12h-2zM77 838h2v12h-2zM79 838h2v12h-2zM113 777h2v12h-2zM113 789h2v12h-2zM117 789h3v12h-3zM146 850h2v13h-2zM150 850h3v13h-3zM160 777h2v12h-2zM164 863h2v12h-2zM166 850h3v13h-3zM166 863h3v12h-3zM178 789h2v12h-2zM180 789h3v12h-3zM180 863h3v12h-3zM185 850h2v13h-2zM192 850h2v13h-2zM208 850h2v13h-2zM228 764h2v13h-2zM230 764h2v13h-2zM230 789h2v12h-2zM232 777h3v12h-3zM235 777h2v12h-2zM237 764h2v13h-2zM246 789h2v12h-2zM246 850h2v13h-2zM251 789h2v12h-2zM279 863h3v12h-3zM285 863h3v12h-3zM290 850h2v13h-2zM292 826h2v12h-2zM292 850h2v13h-2zM298 850h2v13h-2zM300 850h2v13h-2zM302 764h2v13h-2zM306 764h2v13h-2zM308 764h3v13h-3zM311 777h2v12h-2zM313 863h2v12h-2z"/>
<path fill="#ba1656" shape-rendering="crispEdges" d="M36 850h3v13h-3zM54 850h2v13h-2zM56 838h2v12h-2zM67 863h3v12h-3zM129 789h3v12h-3zM139 789h2v12h-2zM150 789h3v12h-3zM160 850h2v13h-2zM164 752h2v12h-2zM171 777h2v12h-2zM178 850h2v13h-2zM204 789h2v12h-2zM216 777h2v12h-2zM216 789h2v12h-2zM223 777h2v12h-2zM235 764h2v13h-2zM242 789h2v12h-2zM255 863h3v12h-3zM271 826h3v12h-3zM274 826h2v12h-2zM279 826h3v12h-3zM282 789h2v12h-2zM284 826h1v12h-1zM285 826h3v12h-3zM285 850h3v13h-3zM290 863h2v12h-2zM292 777h2v12h-2zM302 838h2v12h-2zM304 850h2v13h-2zM306 863h2v12h-2zM308 850h3v13h-3zM313 777h2v12h-2zM315 789h3v12h-3z"/>
<path fill="#c21753" shape-rendering="crispEdges" d="M58 789h2v12h-2zM60 838h3v12h-3zM70 838h2v12h-2zM72 789h2v12h-2zM94 789h2v12h-2zM99 789h2v12h-2zM106 789h2v12h-2zM122 789h3v12h-3zM155 777h2v12h-2zM169 789h2v12h-2zM171 838h2v12h-2zM173 850h3v13h-3zM176 789h2v12h-2zM183 789h2v12h-2zM185 838h2v12h-2zM190 850h2v13h-2zM199 850h2v13h-2zM208 789h2v12h-2zM230 777h2v12h-2zM251 826h2v12h-2zM255 789h3v12h-3zM262 777h2v12h-2zM262 801h2v12h-2zM269 777h2v12h-2zM274 777h2v12h-2zM277 863h2v12h-2zM282 826h2v12h-2zM284 863h1v12h-1zM285 789h3v12h-3zM294 813h2v13h-2zM298 764h2v13h-2zM304 838h2v12h-2zM311 838h2v12h-2zM318 777h2v12h-2z"/>
<path fill="#cb1b4f" shape-rendering="crispEdges" d="M26 789h3v12h-3zM29 789h2v12h-2zM39 850h2v13h-2zM49 813h2v13h-2zM49 826h2v12h-2zM49 850h2v13h-2zM51 838h3v12h-3zM51 863h3v12h-3zM67 838h3v12h-3zM74 838h3v12h-3zM77 789h2v12h-2zM79 777h2v12h-2zM81 838h3v12h-3zM86 789h2v12h-2zM88 838h3v12h-3zM110 789h3v12h-3zM115 789h2v12h-2zM120 777h2v12h-2zM120 789h2v12h-2zM136 789h3v12h-3zM139 777h2v12h-2zM178 777h2v12h-2zM180 850h3v13h-3zM183 777h2v12h-2zM183 850h2v13h-2zM185 789h2v12h-2zM187 789h3v12h-3zM194 752h3v12h-3zM194 789h3v12h-3zM210 777h3v12h-3zM221 789h2v12h-2zM225 764h3v13h-3zM242 764h2v13h-2zM253 826h2v12h-2zM258 777h2v12h-2zM258 789h2v12h-2zM264 789h3v12h-3zM267 789h2v12h-2zM269 752h2v12h-2zM271 789h3v12h-3zM279 801h3v12h-3zM284 850h1v13h-1zM288 801h2v12h-2zM294 826h2v12h-2zM298 863h2v12h-2zM300 764h2v13h-2zM306 850h2v13h-2zM308 838h3v12h-3zM315 850h3v13h-3zM318 789h2v12h-2zM318 850h2v13h-2z"/>
<path fill="#d2204c" shape-rendering="crispEdges" d="M29 801h2v12h-2zM29 850h2v13h-2zM31 789h3v12h-3zM39 826h2v12h-2zM54 789h2v12h-2zM56 850h2v13h-2zM65 838h2v12h-2zM70 789h2v12h-2zM72 838h2v12h-2zM74 789h3v12h-3zM86 850h2v13h-2zM103 863h3v12h-3zM110 777h3v12h-3zM113 838h2v12h-2zM127 777h2v12h-2zM136 850h3v13h-3zM153 789h2v12h-2zM162 789h2v12h-2zM171 850h2v13h-2zM190 789h2v12h-2zM194 826h3v12h-3zM213 789h2v12h-2zM213 826h2v12h-2zM216 764h2v13h-2zM221 764h2v13h-2zM237 777h2v12h-2zM239 789h3v12h-3zM246 777h2v12h-2zM255 813h3v13h-3zM264 826h3v12h-3zM269 789h2v12h-2zM269 813h2v13h-2zM277 777h2v12h-2zM277 826h2v12h-2zM282 813h2v13h-2zM282 863h2v12h-2zM284 813h1v13h-1zM288 826h2v12h-2zM290 813h2v13h-2zM292 863h2v12h-2zM296 801h2v12h-2z"/>
<path fill="#d82748" shape-rendering="crispEdges" d="M41 813h3v13h-3zM44 813h2v13h-2zM54 826h2v12h-2zM54 838h2v12h-2zM60 789h3v12h-3zM72 777h2v12h-2zM79 752h2v12h-2zM79 813h2v13h-2zM81 789h3v12h-3zM88 777h3v12h-3zM106 777h2v12h-2zM113 801h2v12h-2zM117 777h3v12h-3zM132 752h2v12h-2zM132 838h2v12h-2zM136 777h3v12h-3zM146 789h2v12h-2zM153 752h2v12h-2zM169 777h2v12h-2zM180 752h3v12h-3zM180 777h3v12h-3zM201 777h3v12h-3zM206 764h2v13h-2zM208 752h2v12h-2zM228 777h2v12h-2zM237 789h2v12h-2zM244 764h2v13h-2zM251 813h2v13h-2zM271 777h3v12h-3zM277 801h2v12h-2zM288 777h2v12h-2zM288 813h2v13h-2zM290 789h2v12h-2zM296 813h2v13h-2zM298 777h2v12h-2zM306 789h2v12h-2zM308 777h3v12h-3zM313 764h2v13h-2z"/>
<path fill="#df2f44" shape-rendering="crispEdges" d="M26 801h3v12h-3zM26 863h3v12h-3zM34 789h2v12h-2zM39 789h2v12h-2zM39 813h2v13h-2zM41 826h3v12h-3zM46 813h3v13h-3zM46 850h3v13h-3zM49 789h2v12h-2zM65 826h2v12h-2zM67 789h3v12h-3zM74 801h3v12h-3zM81 764h3v13h-3zM84 789h2v12h-2zM96 752h3v12h-3zM108 789h2v12h-2zM125 789h2v12h-2zM125 826h2v12h-2zM139 838h2v12h-2zM141 838h2v12h-2zM157 752h3v12h-3zM157 777h3v12h-3zM166 789h3v12h-3zM176 752h2v12h-2zM183 801h2v12h-2zM187 777h3v12h-3zM199 789h2v12h-2zM201 789h3v12h-3zM204 764h2v13h-2zM204 777h2v12h-2zM206 752h2v12h-2zM218 764h3v13h-3zM232 764h3v13h-3zM237 752h2v12h-2zM246 764h2v13h-2zM246 813h2v13h-2zM246 826h2v12h-2zM248 813h3v13h-3zM248 826h3v12h-3zM253 764h2v13h-2zM264 777h3v12h-3zM264 813h3v13h-3zM267 777h2v12h-2zM267 801h2v12h-2zM269 826h2v12h-2zM284 777h1v12h-1zM292 801h2v12h-2zM294 777h2v12h-2zM294 789h2v12h-2zM302 777h2v12h-2zM304 863h2v12h-2z"/>
<path fill="#e43841" shape-rendering="crispEdges" d="M26 764h3v13h-3zM31 801h3v12h-3zM41 789h3v12h-3zM41 801h3v12h-3zM51 777h3v12h-3zM58 777h2v12h-2zM60 813h3v13h-3zM65 777h2v12h-2zM72 813h2v13h-2zM74 826h3v12h-3zM81 777h3v12h-3zM81 813h3v13h-3zM88 789h3v12h-3zM91 838h2v12h-2zM96 838h3v12h-3zM99 813h2v13h-2zM108 838h2v12h-2zM122 752h3v12h-3zM122 777h3v12h-3zM127 838h2v12h-2zM153 777h2v12h-2zM164 789h2v12h-2zM171 789h2v12h-2zM173 777h3v12h-3zM178 752h2v12h-2zM192 813h2v13h-2zM194 801h3v12h-3zM194 850h3v13h-3zM197 764h2v13h-2zM204 752h2v12h-2zM213 813h2v13h-2zM239 813h3v13h-3zM253 789h2v12h-2zM255 777h3v12h-3zM258 764h2v13h-2zM258 813h2v13h-2zM260 801h2v12h-2zM260 813h2v13h-2zM262 752h2v12h-2zM262 826h2v12h-2zM264 752h3v12h-3zM267 764h2v13h-2zM267 826h2v12h-2zM271 813h3v13h-3zM274 813h2v13h-2zM279 777h3v12h-3zM282 777h2v12h-2zM284 801h1v12h-1zM290 777h2v12h-2zM315 838h3v12h-3zM318 752h2v12h-2z"/>
<path fill="#e8403e" shape-rendering="crispEdges" d="M36 826h3v12h-3zM41 752h3v12h-3zM44 826h2v12h-2zM46 789h3v12h-3zM51 789h3v12h-3zM56 777h2v12h-2zM56 789h2v12h-2zM63 777h2v12h-2zM65 789h2v12h-2zM70 777h2v12h-2zM84 801h2v12h-2zM139 764h2v13h-2zM139 826h2v12h-2zM143 789h3v12h-3zM146 777h2v12h-2zM150 777h3v12h-3zM162 850h2v13h-2zM166 752h3v12h-3zM169 752h2v12h-2zM187 801h3v12h-3zM192 789h2v12h-2zM206 777h2v12h-2zM221 777h2v12h-2zM221 826h2v12h-2zM223 826h2v12h-2zM230 838h2v12h-2zM239 801h3v12h-3zM251 777h2v12h-2zM253 813h2v13h-2zM255 801h3v12h-3zM255 826h3v12h-3zM264 764h3v13h-3zM267 813h2v13h-2zM269 764h2v13h-2zM271 764h3v13h-3zM285 777h3v12h-3zM288 789h2v12h-2zM300 752h2v12h-2zM313 752h2v12h-2z"/>
<path fill="#ec4c3e" shape-rendering="crispEdges" d="M36 813h3v13h-3zM51 801h3v12h-3zM54 801h2v12h-2zM56 752h2v12h-2zM58 764h2v13h-2zM60 752h3v12h-3zM60 826h3v12h-3zM72 801h2v12h-2zM74 777h3v12h-3zM77 777h2v12h-2zM79 789h2v12h-2zM84 813h2v13h-2zM84 838h2v12h-2zM88 764h3v13h-3zM94 838h2v12h-2zM96 777h3v12h-3zM101 838h2v12h-2zM103 838h3v12h-3zM110 838h3v12h-3zM125 838h2v12h-2zM129 838h3v12h-3zM141 826h2v12h-2zM146 752h2v12h-2zM148 752h2v12h-2zM148 777h2v12h-2zM150 752h3v12h-3zM153 813h2v13h-2zM155 789h2v12h-2zM162 777h2v12h-2zM164 777h2v12h-2zM169 764h2v13h-2zM173 752h3v12h-3zM183 752h2v12h-2zM185 764h2v13h-2zM190 801h2v12h-2zM192 752h2v12h-2zM192 777h2v12h-2zM194 777h3v12h-3zM199 752h2v12h-2zM199 777h2v12h-2zM206 789h2v12h-2zM210 826h3v12h-3zM213 777h2v12h-2zM218 801h3v12h-3zM228 801h2v12h-2zM230 826h2v12h-2zM239 764h3v13h-3zM244 813h2v13h-2zM248 764h3v13h-3zM251 801h2v12h-2zM258 826h2v12h-2zM260 826h2v12h-2zM271 838h3v12h-3zM282 801h2v12h-2zM290 801h2v12h-2zM300 801h2v12h-2zM304 752h2v12h-2zM306 777h2v12h-2zM308 813h3v13h-3z"/>
<path fill="#ef5640" shape-rendering="crispEdges" d="M34 752h2v12h-2zM41 777h3v12h-3zM49 801h2v12h-2zM56 764h2v13h-2zM60 801h3v12h-3zM63 801h2v12h-2zM72 752h2v12h-2zM77 764h2v13h-2zM91 777h2v12h-2zM91 789h2v12h-2zM91 813h2v13h-2zM99 838h2v12h-2zM103 752h3v12h-3zM103 813h3v13h-3zM103 826h3v12h-3zM110 826h3v12h-3zM113 813h2v13h-2zM117 752h3v12h-3zM117 838h3v12h-3zM120 826h2v12h-2zM122 838h3v12h-3zM148 789h2v12h-2zM150 801h3v12h-3zM155 752h2v12h-2zM157 764h3v13h-3zM160 801h2v12h-2zM162 752h2v12h-2zM164 764h2v13h-2zM166 777h3v12h-3zM166 813h3v13h-3zM171 752h2v12h-2zM183 764h2v13h-2zM190 752h2v12h-2zM190 777h2v12h-2zM197 752h2v12h-2zM199 764h2v13h-2zM201 752h3v12h-3zM201 801h3v12h-3zM208 801h2v12h-2zM210 752h3v12h-3zM213 752h2v12h-2zM213 764h2v13h-2zM216 813h2v13h-2zM218 752h3v12h-3zM218 826h3v12h-3zM223 752h2v12h-2zM223 838h2v12h-2zM228 838h2v12h-2zM242 813h2v13h-2zM244 801h2v12h-2zM248 777h3v12h-3zM253 777h2v12h-2zM253 801h2v12h-2zM255 764h3v13h-3zM258 752h2v12h-2zM258 838h2v12h-2zM262 813h2v13h-2zM271 801h3v12h-3zM279 838h3v12h-3zM296 777h2v12h-2zM300 777h2v12h-2zM302 752h2v12h-2zM308 752h3v12h-3zM311 752h2v12h-2zM315 752h3v12h-3z"/>
<path fill="#f06043" shape-rendering="crispEdges" d="M34 813h2v13h-2zM49 752h2v12h-2zM51 752h3v12h-3zM56 813h2v13h-2zM63 826h2v12h-2zM65 764h2v13h-2zM67 813h3v13h-3zM70 826h2v12h-2zM77 801h2v12h-2zM81 752h3v12h-3zM84 764h2v13h-2zM94 752h2v12h-2zM94 813h2v13h-2zM99 826h2v12h-2zM106 826h2v12h-2zM108 801h2v12h-2zM115 826h2v12h-2zM129 801h3v12h-3zM129 813h3v13h-3zM132 826h2v12h-2zM134 838h2v12h-2zM139 801h2v12h-2zM153 764h2v13h-2zM162 801h2v12h-2zM164 813h2v13h-2zM169 813h2v13h-2zM173 764h3v13h-3zM173 813h3v13h-3zM180 764h3v13h-3zM183 813h2v13h-2zM185 752h2v12h-2zM185 777h2v12h-2zM192 764h2v13h-2zM197 826h2v12h-2zM201 764h3v13h-3zM208 764h2v13h-2zM208 813h2v13h-2zM232 838h3v12h-3zM235 826h2v12h-2zM244 752h2v12h-2zM246 801h2v12h-2zM251 752h2v12h-2zM251 838h2v12h-2zM253 752h2v12h-2zM260 752h2v12h-2zM260 764h2v13h-2zM269 801h2v12h-2zM285 752h3v12h-3zM294 764h2v13h-2zM294 801h2v12h-2zM302 801h2v12h-2zM304 801h2v12h-2zM315 777h3v12h-3zM318 801h2v12h-2z"/>
<path fill="#f26b49" shape-rendering="crispEdges" d="M36 777h3v12h-3zM51 813h3v13h-3zM58 826h2v12h-2zM63 813h2v13h-2zM67 777h3v12h-3zM70 801h2v12h-2zM77 752h2v12h-2zM77 813h2v13h-2zM79 764h2v13h-2zM81 801h3v12h-3zM84 752h2v12h-2zM86 764h2v13h-2zM86 813h2v13h-2zM91 764h2v13h-2zM91 801h2v12h-2zM99 752h2v12h-2zM99 764h2v13h-2zM99 801h2v12h-2zM106 801h2v12h-2zM110 813h3v13h-3zM113 752h2v12h-2zM120 813h2v13h-2zM120 838h2v12h-2zM122 801h3v12h-3zM132 813h2v13h-2zM134 752h2v12h-2zM136 801h3v12h-3zM139 752h2v12h-2zM143 752h3v12h-3zM148 764h2v13h-2zM148 801h2v12h-2zM155 801h2v12h-2zM164 826h2v12h-2zM199 813h2v13h-2zM206 813h2v13h-2zM225 752h3v12h-3zM235 838h2v12h-2zM237 801h2v12h-2zM248 801h3v12h-3zM251 764h2v13h-2zM260 789h2v12h-2zM262 764h2v13h-2zM262 838h2v12h-2zM271 752h3v12h-3zM306 801h2v12h-2zM315 801h3v12h-3z"/>
<path fill="#f37450" shape-rendering="crispEdges" d="M29 777h2v12h-2zM39 752h2v12h-2zM51 826h3v12h-3zM63 764h2v13h-2zM67 826h3v12h-3zM77 826h2v12h-2zM84 826h2v12h-2zM88 752h3v12h-3zM96 813h3v13h-3zM103 801h3v12h-3zM115 838h2v12h-2zM120 752h2v12h-2zM120 801h2v12h-2zM127 752h2v12h-2zM129 764h3v13h-3zM134 801h2v12h-2zM136 813h3v13h-3zM136 826h3v12h-3zM136 838h3v12h-3zM141 813h2v13h-2zM143 764h3v13h-3zM153 801h2v12h-2zM160 826h2v12h-2zM162 826h2v12h-2zM176 777h2v12h-2zM176 826h2v12h-2zM178 764h2v13h-2zM180 801h3v12h-3zM180 813h3v13h-3zM187 813h3v13h-3zM192 826h2v12h-2zM197 777h2v12h-2zM199 801h2v12h-2zM199 826h2v12h-2zM213 801h2v12h-2zM221 813h2v13h-2zM228 813h2v13h-2zM230 752h2v12h-2zM232 752h3v12h-3zM232 813h3v13h-3zM235 813h2v13h-2zM239 752h3v12h-3zM239 838h3v12h-3zM246 752h2v12h-2zM274 764h2v13h-2zM274 801h2v12h-2zM282 752h2v12h-2zM290 752h2v12h-2zM290 838h2v12h-2zM292 764h2v13h-2zM294 752h2v12h-2zM296 838h2v12h-2zM298 752h2v12h-2zM304 813h2v13h-2zM306 752h2v12h-2zM311 801h2v12h-2z"/>
<path fill="#f47d57" shape-rendering="crispEdges" d="M26 838h3v12h-3zM29 752h2v12h-2zM29 838h2v12h-2zM31 752h3v12h-3zM31 838h3v12h-3zM39 764h2v13h-2zM39 801h2v12h-2zM49 777h2v12h-2zM51 764h3v13h-3zM54 813h2v13h-2zM58 813h2v13h-2zM60 764h3v13h-3zM63 752h2v12h-2zM65 801h2v12h-2zM70 813h2v13h-2zM72 826h2v12h-2zM74 764h3v13h-3zM74 813h3v13h-3zM79 826h2v12h-2zM84 777h2v12h-2zM86 752h2v12h-2zM86 801h2v12h-2zM88 813h3v13h-3zM96 764h3v13h-3zM101 801h2v12h-2zM106 764h2v13h-2zM108 764h2v13h-2zM108 813h2v13h-2zM110 764h3v13h-3zM115 752h2v12h-2zM125 752h2v12h-2zM127 801h2v12h-2zM129 826h3v12h-3zM143 777h3v12h-3zM148 813h2v13h-2zM148 826h2v12h-2zM150 764h3v13h-3zM155 764h2v13h-2zM157 826h3v12h-3zM162 764h2v13h-2zM166 764h3v13h-3zM171 764h2v13h-2zM176 764h2v13h-2zM178 813h2v13h-2zM180 826h3v12h-3zM187 752h3v12h-3zM190 826h2v12h-2zM194 764h3v13h-3zM197 801h2v12h-2zM197 813h2v13h-2zM201 813h3v13h-3zM204 801h2v12h-2zM208 826h2v12h-2zM210 764h3v13h-3zM218 813h3v13h-3zM225 801h3v12h-3zM228 752h2v12h-2zM258 801h2v12h-2zM277 838h2v12h-2zM285 764h3v13h-3zM285 838h3v12h-3zM288 764h2v13h-2zM298 826h2v12h-2zM311 826h2v12h-2zM313 826h2v12h-2z"/>
<path fill="#f58860" shape-rendering="crispEdges" d="M26 777h3v12h-3zM29 764h2v13h-2zM34 801h2v12h-2zM36 752h3v12h-3zM36 801h3v12h-3zM44 752h2v12h-2zM44 764h2v13h-2zM88 801h3v12h-3zM91 752h2v12h-2zM101 826h2v12h-2zM103 764h3v13h-3zM106 752h2v12h-2zM110 752h3v12h-3zM115 801h2v12h-2zM125 801h2v12h-2zM129 752h3v12h-3zM136 752h3v12h-3zM136 764h3v13h-3zM141 752h2v12h-2zM146 801h2v12h-2zM146 826h2v12h-2zM150 813h3v13h-3zM155 826h2v12h-2zM160 752h2v12h-2zM160 764h2v13h-2zM162 813h2v13h-2zM171 813h2v13h-2zM173 826h3v12h-3zM176 813h2v13h-2zM178 826h2v12h-2zM190 764h2v13h-2zM192 801h2v12h-2zM206 801h2v12h-2zM208 777h2v12h-2zM216 752h2v12h-2zM223 813h2v13h-2zM230 813h2v13h-2zM232 801h3v12h-3zM237 813h2v13h-2zM239 826h3v12h-3zM255 752h3v12h-3zM255 838h3v12h-3zM264 801h3v12h-3zM267 752h2v12h-2zM267 838h2v12h-2zM284 752h1v12h-1zM298 813h2v13h-2zM313 801h2v12h-2zM313 813h2v13h-2z"/>
<path fill="#f59067" shape-rendering="crispEdges" d="M31 777h3v12h-3zM34 764h2v13h-2zM39 777h2v12h-2zM44 801h2v12h-2zM46 777h3v12h-3zM46 801h3v12h-3zM49 764h2v13h-2zM56 826h2v12h-2zM65 752h2v12h-2zM67 752h3v12h-3zM67 764h3v13h-3zM70 752h2v12h-2zM72 764h2v13h-2zM79 801h2v12h-2zM81 826h3v12h-3zM86 777h2v12h-2zM86 826h2v12h-2zM91 826h2v12h-2zM115 813h2v13h-2zM117 764h3v13h-3zM117 813h3v13h-3zM122 764h3v13h-3zM139 813h2v13h-2zM143 801h3v12h-3zM157 813h3v13h-3zM166 826h3v12h-3zM169 801h2v12h-2zM171 826h2v12h-2zM173 801h3v12h-3zM204 826h2v12h-2zM218 838h3v12h-3zM225 838h3v12h-3zM228 826h2v12h-2zM232 826h3v12h-3zM235 752h2v12h-2zM237 826h2v12h-2zM242 801h2v12h-2zM242 826h2v12h-2zM244 838h2v12h-2zM274 752h2v12h-2zM284 764h1v13h-1zM296 764h2v13h-2zM302 813h2v13h-2zM302 826h2v12h-2zM306 813h2v13h-2zM308 801h3v12h-3z"/>
<path fill="#f59970" shape-rendering="crispEdges" d="M34 777h2v12h-2zM58 801h2v12h-2zM60 777h3v12h-3zM67 801h3v12h-3zM96 826h3v12h-3zM101 752h2v12h-2zM101 764h2v13h-2zM101 813h2v13h-2zM108 752h2v12h-2zM115 764h2v13h-2zM127 813h2v13h-2zM132 801h2v12h-2zM134 826h2v12h-2zM141 801h2v12h-2zM143 813h3v13h-3zM146 764h2v13h-2zM160 813h2v13h-2zM164 801h2v12h-2zM166 801h3v12h-3zM178 801h2v12h-2zM183 826h2v12h-2zM185 801h2v12h-2zM210 813h3v13h-3zM216 801h2v12h-2zM216 826h2v12h-2zM235 801h2v12h-2zM264 838h3v12h-3zM292 752h2v12h-2zM298 801h2v12h-2zM318 826h2v12h-2z"/>
<path fill="#f6a37a" shape-rendering="crispEdges" d="M41 764h3v13h-3zM54 752h2v12h-2zM54 764h2v13h-2zM58 752h2v12h-2zM65 813h2v13h-2zM74 752h3v12h-3zM88 826h3v12h-3zM106 813h2v13h-2zM117 801h3v12h-3zM117 826h3v12h-3zM127 826h2v12h-2zM132 764h2v13h-2zM134 813h2v13h-2zM155 813h2v13h-2zM157 801h3v12h-3zM176 801h2v12h-2zM185 826h2v12h-2zM187 764h3v13h-3zM187 826h3v12h-3zM210 801h3v12h-3zM216 838h2v12h-2zM223 801h2v12h-2zM225 813h3v13h-3zM230 801h2v12h-2zM248 838h3v12h-3zM260 838h2v12h-2zM277 752h2v12h-2zM284 838h1v12h-1zM288 752h2v12h-2zM294 838h2v12h-2zM296 752h2v12h-2zM304 826h2v12h-2zM315 813h3v13h-3zM315 826h3v12h-3z"/>
<path fill="#f6ab83" shape-rendering="crispEdges" d="M44 777h2v12h-2zM56 801h2v12h-2zM94 801h2v12h-2zM94 826h2v12h-2zM108 826h2v12h-2zM113 826h2v12h-2zM120 764h2v13h-2zM122 813h3v13h-3zM122 826h3v12h-3zM125 764h2v13h-2zM127 764h2v13h-2zM143 826h3v12h-3zM153 826h2v12h-2zM169 826h2v12h-2zM171 801h2v12h-2zM204 813h2v13h-2zM221 752h2v12h-2zM225 826h3v12h-3zM237 838h2v12h-2zM242 752h2v12h-2zM274 838h2v12h-2zM282 764h2v13h-2zM282 838h2v12h-2zM292 838h2v12h-2zM300 813h2v13h-2zM300 826h2v12h-2zM308 826h3v12h-3zM311 813h2v13h-2z"/>
<path fill="#f6b38d" shape-rendering="crispEdges" d="M36 764h3v13h-3zM46 752h3v12h-3zM46 764h3v13h-3zM70 764h2v13h-2zM134 764h2v13h-2zM141 764h2v13h-2zM146 813h2v13h-2zM150 826h3v12h-3zM190 813h2v13h-2zM194 813h3v13h-3zM201 826h3v12h-3zM206 826h2v12h-2zM221 801h2v12h-2zM244 826h2v12h-2zM246 838h2v12h-2zM248 752h3v12h-3zM269 838h2v12h-2zM288 838h2v12h-2z"/>
<path fill="#f6bc99" shape-rendering="crispEdges" d="M26 752h3v12h-3zM94 764h2v13h-2zM96 801h3v12h-3zM113 764h2v13h-2zM125 813h2v13h-2zM221 838h2v12h-2zM279 752h3v12h-3zM290 764h2v13h-2zM306 826h2v12h-2zM318 813h2v13h-2z"/>
<path fill="#f7c4a4" shape-rendering="crispEdges" d="M31 764h3v13h-3zM253 838h2v12h-2zM277 764h2v13h-2z"/>
<path fill="#f7ccaf" shape-rendering="crispEdges" d="M110 801h3v12h-3zM185 813h2v13h-2zM242 838h2v12h-2z"/>
<path fill="#f8d4bc" shape-rendering="crispEdges" d="M279 764h3v13h-3z"/>
<rect x="93.00" y="747.40" width="1.0" height="127.40" fill="#fff"/>
<rect x="215.10" y="747.40" width="1.0" height="127.40" fill="#fff"/>
<rect x="275.90" y="747.40" width="1.0" height="127.40" fill="#fff"/>
<text x="60.20" y="816.8" font-size="8" font-weight="bold" fill="#fff" text-anchor="middle">I</text>
<text x="154.60" y="816.8" font-size="8" font-weight="bold" fill="#fff" text-anchor="middle">II</text>
<text x="245.30" y="816.8" font-size="8" font-weight="bold" fill="#fff" text-anchor="middle">III</text>
<text x="298.90" y="816.8" font-size="8" font-weight="bold" fill="#fff" text-anchor="middle">IV</text>
<text x="323.4" y="761.24" font-size="8.8" fill="#222">3</text>
<text x="323.4" y="773.52" font-size="8.8" fill="#222">7</text>
<text x="323.4" y="785.80" font-size="8.8" fill="#222">5</text>
<text x="323.4" y="798.08" font-size="8.8" fill="#222">10</text>
<text x="323.4" y="810.36" font-size="8.8" fill="#222">1</text>
<text x="323.4" y="822.64" font-size="8.8" fill="#222">2</text>
<text x="323.4" y="834.92" font-size="8.8" fill="#222">4</text>
<text x="323.4" y="847.20" font-size="8.8" fill="#222">6</text>
<text x="323.4" y="859.48" font-size="8.8" fill="#222">8</text>
<text x="323.4" y="871.76" font-size="8.8" fill="#222">9</text>
<text x="172.7" y="885.6" font-size="8.9" text-anchor="middle" fill="#222">Tumor samples</text>
<defs><linearGradient id="mg2" x1="0" y1="0" x2="0" y2="1"><stop offset="0.000" stop-color="#fcfdbf"/><stop offset="0.111" stop-color="#feca8d"/><stop offset="0.222" stop-color="#fd9668"/><stop offset="0.333" stop-color="#f1605d"/><stop offset="0.444" stop-color="#cd4071"/><stop offset="0.556" stop-color="#9e2f7f"/><stop offset="0.667" stop-color="#721f81"/><stop offset="0.778" stop-color="#440f76"/><stop offset="0.889" stop-color="#180f3d"/><stop offset="1.000" stop-color="#000004"/></linearGradient></defs>
<rect x="1.7" y="753.2" width="9.2" height="64.9" fill="url(#mg2)"/>
<text x="13.6" y="755.9" font-size="8.0" fill="#111">2</text><text x="13.6" y="788.8" font-size="8.0" fill="#111">0</text><text x="12.3" y="821.0" font-size="8.0" fill="#111">-2</text>
<path d="M32.7 747.0V742.3H35.2V747.0M30.1 747.0V740.7H34.0V742.3M42.6 747.0V744.3H45.1V747.0M40.1 747.0V743.4H43.8V744.3M50.0 747.0V744.0H52.4V747.0M47.5 747.0V743.2H51.2V744.0M42.0 743.4V742.9H49.4V743.2M57.0 747.0V744.7H59.3V747.0M54.7 747.0V743.8H58.2V744.7M61.7 747.0V744.7H64.0V747.0M66.3 747.0V744.0H68.6V747.0M62.8 744.7V743.6H67.5V744.0M56.4 743.8V743.0H65.1V743.6M77.9 747.0V744.3H80.2V747.0M75.6 747.0V744.0H79.1V744.3M73.3 747.0V743.6H77.3V744.0M70.9 747.0V742.8H75.3V743.6M60.8 743.0V742.7H73.1V742.8M45.7 742.9V742.2H66.9V742.7M37.7 747.0V742.1H56.5V742.2M82.5 747.0V743.1H84.9V747.0M87.2 747.0V744.4H89.5V747.0M91.8 747.0V744.8H95.2V747.0M97.5 747.0V744.8H99.9V747.0M102.2 747.0V744.7H104.6V747.0M98.7 744.8V744.3H103.4V744.7M93.5 744.8V743.5H101.0V744.3M88.4 744.4V743.3H97.5V743.5M109.3 747.0V744.7H111.6V747.0M114.0 747.0V744.5H116.3V747.0M110.4 744.7V743.6H115.1V744.5M106.9 747.0V742.9H112.8V743.6M92.7 743.3V742.3H109.8V742.9M83.7 743.1V742.0H101.6V742.3M47.2 742.1V741.7H92.3V742.0M125.7 747.0V745.0H128.0V747.0M123.3 747.0V744.1H126.9V745.0M121.0 747.0V743.3H125.1V744.1M118.7 747.0V742.9H123.1V743.3M130.4 747.0V743.7H132.7V747.0M139.8 747.0V743.9H142.1V747.0M137.4 747.0V743.5H141.0V743.9M135.1 747.0V742.7H139.2V743.5M131.6 743.7V742.5H137.1V742.7M120.9 742.9V741.7H134.3V742.5M69.8 741.7V741.5H127.6V741.7M146.8 747.0V743.4H149.1V747.0M144.5 747.0V741.1H147.9V743.4M99.1 741.5V740.7H146.2V741.1M32.1 740.7V740.5H122.7V740.7M27.6 747.0V740.0H77.3V740.5M156.0 747.0V744.8H158.4V747.0M153.7 747.0V743.8H157.2V744.8M160.7 747.0V743.7H163.0V747.0M155.5 743.8V743.0H161.8V743.7M165.3 747.0V744.4H167.6V747.0M172.3 747.0V745.3H174.6V747.0M169.9 747.0V743.5H173.4V745.3M166.5 744.4V742.4H171.7V743.5M158.6 743.0V741.5H169.1V742.4M176.9 747.0V743.1H179.2V747.0M183.8 747.0V744.0H186.1V747.0M181.5 747.0V743.4H185.0V744.0M188.5 747.0V743.9H190.8V747.0M193.1 747.0V743.5H195.4V747.0M189.6 743.9V742.5H194.3V743.5M183.3 743.4V742.2H191.9V742.5M178.0 743.1V741.5H187.6V742.2M163.9 741.5V741.3H182.8V741.5M151.4 747.0V739.6H173.3V741.3M200.0 747.0V745.4H202.4V747.0M204.7 747.0V743.7H207.0V747.0M211.6 747.0V744.4H213.9V747.0M219.6 747.0V744.6H221.9V747.0M217.3 747.0V744.0H220.7V744.6M212.8 744.4V743.9H219.0V744.0M209.3 747.0V742.4H216.0V743.9M205.8 743.7V742.1H212.3V742.4M224.2 747.0V742.8H226.5V747.0M233.5 747.0V745.7H235.8V747.0M231.2 747.0V743.6H234.6V745.7M228.8 747.0V743.1H232.9V743.6M238.1 747.0V744.9H240.4V747.0M242.7 747.0V744.3H245.0V747.0M239.3 744.9V744.3H243.9V744.3M249.6 747.0V744.8H251.9V747.0M247.3 747.0V744.4H250.8V744.8M258.8 747.0V744.5H261.0V747.0M256.5 747.0V744.1H259.9V744.5M254.2 747.0V743.5H258.2V744.1M249.1 744.4V743.2H256.2V743.5M241.6 744.3V743.0H252.6V743.2M230.9 743.1V742.4H247.1V743.0M225.4 742.8V742.0H239.0V742.4M209.1 742.1V741.8H232.2V742.0M201.2 745.4V741.5H221.1V741.8M197.7 747.0V740.8H210.7V741.5M265.6 747.0V744.2H267.9V747.0M272.5 747.0V744.6H274.8V747.0M270.2 747.0V743.7H273.6V744.6M266.8 744.2V743.4H271.9V743.7M277.9 747.0V743.9H280.2V747.0M282.6 747.0V743.9H284.4V747.0M279.0 743.9V742.7H283.5V743.9M269.3 743.4V742.0H281.4V742.7M288.6 747.0V744.6H290.8V747.0M286.5 747.0V743.9H289.7V744.6M292.9 747.0V743.5H295.2V747.0M297.0 747.0V743.3H298.5V747.0M294.1 743.5V742.3H297.8V743.3M288.1 743.9V741.7H296.1V742.3M275.0 742.0V741.3H292.1V741.7M307.1 747.0V744.4H309.4V747.0M304.8 747.0V743.0H308.3V744.4M302.6 747.0V742.7H306.5V743.0M316.4 747.0V744.6H318.7V747.0M314.1 747.0V743.7H317.6V744.6M311.8 747.0V742.7H315.8V743.7M304.5 742.7V742.0H313.8V742.7M300.6 747.0V741.1H309.1V742.0M284.2 741.3V741.0H304.6V741.1M263.3 747.0V740.2H295.0V741.0M204.2 740.8V735.3H280.1V740.2M162.4 739.6V732.9H242.4V735.3M53.2 740.0V731.5H201.9V732.9" fill="none" stroke="#9a9a9a" stroke-width="0.45"/>
<rect x="26.3" y="745.9" width="293.6" height="1.2" fill="#555" fill-opacity="0.5"/>
<path d="M26.30 758.14H24.60V770.42H26.30M26.30 782.70H24.80V794.98H26.30M24.60 764.28H23.20V788.84H24.80M26.30 807.26H24.70V819.54H26.30M24.70 813.40H23.60V831.82H26.30M23.20 776.56H21.80V822.61H23.60M26.30 856.38H24.70V868.66H26.30M26.30 844.10H23.00V862.52H24.70M21.80 799.58H19.80V853.31H23.00" fill="none" stroke="#c0c0c0" stroke-width="0.6"/>
</g>
<g id="o">
<defs>
<filter id="o1" x="-5%" y="-5%" width="110%" height="110%" color-interpolation-filters="sRGB">
<feTurbulence type="fractalNoise" baseFrequency="0.08" numOctaves="2" seed="51" result="t0"/>
<feColorMatrix in="t0" type="matrix" values="0 0 0 0 0.580 0 0 0 0 0.404 0 0 0 0 0.741 30 0 0 0 -18.231" result="c0_0"/>
<feColorMatrix in="t0" type="matrix" values="0 0 0 0 0.890 0 0 0 0 0.467 0 0 0 0 0.761 0 30 0 0 -17.530" result="c0_1"/>
<feColorMatrix in="t0" type="matrix" values="0 0 0 0 0.090 0 0 0 0 0.745 0 0 0 0 0.812 0 0 30 0 -19.114" result="c0_2"/>
<feColorMatrix in="t0" type="matrix" values="0 0 0 0 0.122 0 0 0 0 0.467 0 0 0 0 0.706 0 0 0 30 -19.558" result="c0_3"/>
<feTurbulence type="fractalNoise" baseFrequency="0.4" numOctaves="2" seed="52" result="t1"/>
<feColorMatrix in="t1" type="matrix" values="0 0 0 0 0.122 0 0 0 0 0.467 0 0 0 0 0.706 30 0 0 0 -19.558" result="c1_0"/>
<feColorMatrix in="t1" type="matrix" values="0 0 0 0 0.173 0 0 0 0 0.627 0 0 0 0 0.173 0 30 0 0 -19.114" result="c1_1"/>
<feColorMatrix in="t1" type="matrix" values="0 0 0 0 1.000 0 0 0 0 0.498 0 0 0 0 0.055 0 0 30 0 -20.421" result="c1_2"/>
<feColorMatrix in="t1" type="matrix" values="0 0 0 0 0.090 0 0 0 0 0.745 0 0 0 0 0.812 0 0 0 30 -20.097" result="c1_3"/>
<feTurbulence type="fractalNoise" baseFrequency="0.9" numOctaves="1" seed="53" result="t2"/>
<feColorMatrix in="t2" type="matrix" values="0 0 0 0 1.000 0 0 0 0 1.000 0 0 0 0 1.000 30 0 0 0 -17.968" result="c2_0"/>
<feColorMatrix in="t2" type="matrix" values="0 0 0 0 0.910 0 0 0 0 0.659 0 0 0 0 0.878 0 30 0 0 -19.010" result="c2_1"/>
<feColorMatrix in="t2" type="matrix" values="0 0 0 0 0.737 0 0 0 0 0.741 0 0 0 0 0.133 0 0 30 0 -21.093" result="c2_2"/>
<feMerge result="m0"><feMergeNode in="SourceGraphic"/><feMergeNode in="c0_0"/><feMergeNode in="c0_1"/><feMergeNode in="c0_2"/><feMergeNode in="c0_3"/><feMergeNode in="c1_0"/><feMergeNode in="c1_1"/><feMergeNode in="c1_2"/><feMergeNode in="c1_3"/><feMergeNode in="c2_0"/><feMergeNode in="c2_1"/><feMergeNode in="c2_2"/></feMerge>
<feGaussianBlur in="m0" stdDeviation="0.45" result="m"/>
<feComposite in="m" in2="SourceAlpha" operator="in"/>
</filter>
<filter id="o2" x="-5%" y="-5%" width="110%" height="110%" color-interpolation-filters="sRGB">
<feTurbulence type="fractalNoise" baseFrequency="0.09" numOctaves="2" seed="61" result="t0"/>
<feColorMatrix in="t0" type="matrix" values="0 0 0 0 1.000 0 0 0 0 0.498 0 0 0 0 0.055 30 0 0 0 -17.530" result="c0_0"/>
<feColorMatrix in="t0" type="matrix" values="0 0 0 0 0.173 0 0 0 0 0.627 0 0 0 0 0.173 0 30 0 0 -20.421" result="c0_1"/>
<feColorMatrix in="t0" type="matrix" values="0 0 0 0 0.941 0 0 0 0 0.376 0 0 0 0 0.376 0 0 30 0 -18.730" result="c0_2"/>
<feTurbulence type="fractalNoise" baseFrequency="0.4" numOctaves="2" seed="62" result="t1"/>
<feColorMatrix in="t1" type="matrix" values="0 0 0 0 1.000 0 0 0 0 0.498 0 0 0 0 0.055 30 0 0 0 -17.530" result="c1_0"/>
<feColorMatrix in="t1" type="matrix" values="0 0 0 0 0.122 0 0 0 0 0.467 0 0 0 0 0.706 0 30 0 0 -20.421" result="c1_1"/>
<feColorMatrix in="t1" type="matrix" values="0 0 0 0 0.090 0 0 0 0 0.745 0 0 0 0 0.812 0 0 30 0 -20.802" result="c1_2"/>
<feColorMatrix in="t1" type="matrix" values="0 0 0 0 0.890 0 0 0 0 0.314 0 0 0 0 0.314 0 0 0 30 -19.114" result="c1_3"/>
<feTurbulence type="fractalNoise" baseFrequency="0.9" numOctaves="1" seed="63" result="t2"/>
<feColorMatrix in="t2" type="matrix" values="0 0 0 0 1.000 0 0 0 0 1.000 0 0 0 0 1.000 30 0 0 0 -18.614" result="c2_0"/>
<feColorMatrix in="t2" type="matrix" values="0 0 0 0 0.961 0 0 0 0 0.753 0 0 0 0 0.659 0 30 0 0 -19.491" result="c2_1"/>
<feMerge result="m0"><feMergeNode in="SourceGraphic"/><feMergeNode in="c0_0"/><feMergeNode in="c0_1"/><feMergeNode in="c0_2"/><feMergeNode in="c1_0"/><feMergeNode in="c1_1"/><feMergeNode in="c1_2"/><feMergeNode in="c1_3"/><feMergeNode in="c2_0"/><feMergeNode in="c2_1"/></feMerge>
<feGaussianBlur in="m0" stdDeviation="0.45" result="m"/>
<feComposite in="m" in2="SourceAlpha" operator="in"/>
</filter>
<filter id="o3" x="-5%" y="-5%" width="110%" height="110%" color-interpolation-filters="sRGB">
<feTurbulence type="fractalNoise" baseFrequency="0.08" numOctaves="2" seed="71" result="t0"/>
<feColorMatrix in="t0" type="matrix" values="0 0 0 0 0.839 0 0 0 0 0.153 0 0 0 0 0.157 30 0 0 0 -17.530" result="c0_0"/>
<feColorMatrix in="t0" type="matrix" values="0 0 0 0 1.000 0 0 0 0 0.498 0 0 0 0 0.055 0 30 0 0 -18.231" result="c0_1"/>
<feColorMatrix in="t0" type="matrix" values="0 0 0 0 1.000 0 0 0 0 1.000 0 0 0 0 1.000 0 0 30 0 -17.530" result="c0_2"/>
<feColorMatrix in="t0" type="matrix" values="0 0 0 0 0.890 0 0 0 0 0.467 0 0 0 0 0.761 0 0 0 30 -20.097" result="c0_3"/>
<feTurbulence type="fractalNoise" baseFrequency="0.4" numOctaves="2" seed="72" result="t1"/>
<feColorMatrix in="t1" type="matrix" values="0 0 0 0 0.122 0 0 0 0 0.467 0 0 0 0 0.706 30 0 0 0 -19.114" result="c1_0"/>
<feColorMatrix in="t1" type="matrix" values="0 0 0 0 0.839 0 0 0 0 0.153 0 0 0 0 0.157 0 30 0 0 -19.558" result="c1_1"/>
<feColorMatrix in="t1" type="matrix" values="0 0 0 0 0.090 0 0 0 0 0.745 0 0 0 0 0.812 0 0 30 0 -20.421" result="c1_2"/>
<feColorMatrix in="t1" type="matrix" values="0 0 0 0 1.000 0 0 0 0 0.498 0 0 0 0 0.055 0 0 0 30 -20.097" result="c1_3"/>
<feTurbulence type="fractalNoise" baseFrequency="0.9" numOctaves="1" seed="73" result="t2"/>
<feColorMatrix in="t2" type="matrix" values="0 0 0 0 1.000 0 0 0 0 1.000 0 0 0 0 1.000 30 0 0 0 -17.202" result="c2_0"/>
<feColorMatrix in="t2" type="matrix" values="0 0 0 0 0.580 0 0 0 0 0.404 0 0 0 0 0.741 0 30 0 0 -20.537" result="c2_1"/>
<feColorMatrix in="t2" type="matrix" values="0 0 0 0 0.549 0 0 0 0 0.337 0 0 0 0 0.294 0 0 30 0 -20.537" result="c2_2"/>
<feMerge result="m0"><feMergeNode in="SourceGraphic"/><feMergeNode in="c0_0"/><feMergeNode in="c0_1"/><feMergeNode in="c0_2"/><feMergeNode in="c0_3"/><feMergeNode in="c1_0"/><feMergeNode in="c1_1"/><feMergeNode in="c1_2"/><feMergeNode in="c1_3"/><feMergeNode in="c2_0"/><feMergeNode in="c2_1"/><feMergeNode in="c2_2"/></feMerge>
<feGaussianBlur in="m0" stdDeviation="0.45" result="m"/>
<feComposite in="m" in2="SourceAlpha" operator="in"/>
</filter>
<filter id="o4" x="-5%" y="-5%" width="110%" height="110%" color-interpolation-filters="sRGB">
<feTurbulence type="fractalNoise" baseFrequency="0.055" numOctaves="2" seed="81" result="t0"/>
<feColorMatrix in="t0" type="matrix" values="0 0 0 0 0.890 0 0 0 0 0.467 0 0 0 0 0.761 30 0 0 0 -16.598" result="c0_0"/>
<feColorMatrix in="t0" type="matrix" values="0 0 0 0 0.549 0 0 0 0 0.337 0 0 0 0 0.294 0 30 0 0 -19.558" result="c0_1"/>
<feTurbulence type="fractalNoise" baseFrequency="0.3" numOctaves="2" seed="82" result="t1"/>
<feColorMatrix in="t1" type="matrix" values="0 0 0 0 0.549 0 0 0 0 0.337 0 0 0 0 0.294 30 0 0 0 -19.114" result="c1_0"/>
<feColorMatrix in="t1" type="matrix" values="0 0 0 0 0.361 0 0 0 0 0.722 0 0 0 0 0.361 0 30 0 0 -18.231" result="c1_1"/>
<feColorMatrix in="t1" type="matrix" values="0 0 0 0 0.890 0 0 0 0 0.467 0 0 0 0 0.761 0 0 30 0 -20.802" result="c1_2"/>
<feTurbulence type="fractalNoise" baseFrequency="0.9" numOctaves="1" seed="83" result="t2"/>
<feColorMatrix in="t2" type="matrix" values="0 0 0 0 1.000 0 0 0 0 1.000 0 0 0 0 1.000 30 0 0 0 -19.010" result="c2_0"/>
<feColorMatrix in="t2" type="matrix" values="0 0 0 0 0.659 0 0 0 0 0.847 0 0 0 0 0.659 0 30 0 0 -19.491" result="c2_1"/>
<feMerge result="m0"><feMergeNode in="SourceGraphic"/><feMergeNode in="c0_0"/><feMergeNode in="c0_1"/><feMergeNode in="c1_0"/><feMergeNode in="c1_1"/><feMergeNode in="c1_2"/><feMergeNode in="c2_0"/><feMergeNode in="c2_1"/></feMerge>
<feGaussianBlur in="m0" stdDeviation="0.45" result="m"/>
<feComposite in="m" in2="SourceAlpha" operator="in"/>
</filter>
</defs>
<circle cx="48.6" cy="932.3" r="26.3" fill="#e0a8dc" filter="url(#o1)"/>
<circle cx="114.1" cy="932.4" r="26.0" fill="#dc3a36" filter="url(#o2)"/>
<path d="M152.9 933.5C153.9 929.1 156.9 920.7 159.8 916.8C162.8 912.9 166.5 911.4 170.6 909.9C174.7 908.4 179.8 906.9 184.4 907.9C189.0 908.9 194.8 912.2 198.2 915.8C201.6 919.4 204.4 925.2 205.1 929.6C205.8 934.0 204.7 939.7 202.2 942.4C199.7 945.1 194.9 945.0 190.3 945.7C185.7 946.5 179.2 946.6 174.6 946.9C170.0 947.2 165.5 947.1 162.7 947.3C159.9 947.5 159.3 948.9 157.8 948.3C156.3 947.6 154.7 945.9 153.9 943.4C153.1 940.9 151.9 937.9 152.9 933.5Z" fill="#2ca02c" filter="url(#o3)"/>
<path d="M222.8 923.7C223.5 920.4 227.9 912.7 231.7 909.9C235.5 907.1 240.9 906.8 245.5 906.9C250.1 907.0 255.5 908.0 259.3 910.8C263.1 913.6 266.6 919.3 268.2 923.7C269.8 928.1 270.0 932.8 269.2 937.4C268.4 942.0 266.8 947.8 263.2 951.2C259.6 954.7 252.8 957.4 247.5 958.1C242.2 958.8 235.5 957.3 231.7 955.2C227.9 953.1 226.3 948.6 224.8 945.3C223.3 942.0 222.3 938.1 222.8 935.5C223.3 932.9 227.6 931.6 227.6 929.6C227.6 927.6 222.1 927.0 222.8 923.7Z" fill="#2ca02c" filter="url(#o4)"/>
<text x="17.9" y="912.8" font-size="9" fill="#111">I</text>
<text x="83.5" y="912.8" font-size="9" fill="#111">II</text>
<text x="148.0" y="912.8" font-size="9" fill="#111">III</text>
<text x="213.7" y="912.8" font-size="9" fill="#111">IV</text>
<rect x="245.1" y="962.1" width="21.9" height="1.3" fill="#111"/>
<text x="258.2" y="974.0" font-size="8.4" fill="#111" text-anchor="middle">500µm</text>
<rect x="279.9" y="905.1" width="11.0" height="7.6" fill="#1f77b4" stroke="#000" stroke-opacity="0.3" stroke-width="0.4"/>
<text x="294.5" y="912.3" font-size="8.4" fill="#111">1</text>
<rect x="279.9" y="916.0" width="11.0" height="7.6" fill="#ff7f0e" stroke="#000" stroke-opacity="0.3" stroke-width="0.4"/>
<text x="294.5" y="923.2" font-size="8.4" fill="#111">2</text>
<rect x="279.9" y="926.9" width="11.0" height="7.6" fill="#2ca02c" stroke="#000" stroke-opacity="0.3" stroke-width="0.4"/>
<text x="294.5" y="934.1" font-size="8.4" fill="#111">3</text>
<rect x="279.9" y="937.8" width="11.0" height="7.6" fill="#d62728" stroke="#000" stroke-opacity="0.3" stroke-width="0.4"/>
<text x="294.5" y="945.0" font-size="8.4" fill="#111">4</text>
<rect x="279.9" y="948.7" width="11.0" height="7.6" fill="#9467bd" stroke="#000" stroke-opacity="0.3" stroke-width="0.4"/>
<text x="294.5" y="955.9" font-size="8.4" fill="#111">5</text>
<rect x="305.1" y="905.1" width="11.9" height="7.6" fill="#8c564b" stroke="#000" stroke-opacity="0.3" stroke-width="0.4"/>
<text x="320.0" y="912.3" font-size="8.4" fill="#111">6</text>
<rect x="305.1" y="916.0" width="11.9" height="7.6" fill="#e377c2" stroke="#000" stroke-opacity="0.3" stroke-width="0.4"/>
<text x="320.0" y="923.2" font-size="8.4" fill="#111">7</text>
<rect x="305.1" y="926.9" width="11.9" height="7.6" fill="#7f7f7f" stroke="#000" stroke-opacity="0.3" stroke-width="0.4"/>
<text x="320.0" y="934.1" font-size="8.4" fill="#111">8</text>
<rect x="305.1" y="937.8" width="11.9" height="7.6" fill="#bcbd22" stroke="#000" stroke-opacity="0.3" stroke-width="0.4"/>
<text x="320.0" y="945.0" font-size="8.4" fill="#111">9</text>
<rect x="305.1" y="948.7" width="11.9" height="7.6" fill="#17becf" stroke="#000" stroke-opacity="0.3" stroke-width="0.4"/>
<text x="320.0" y="955.9" font-size="8.4" fill="#111">10</text>
</g>
<g id="p">
<defs>
<filter id="pt" x="-5%" y="-5%" width="110%" height="110%" color-interpolation-filters="sRGB">
<feTurbulence type="fractalNoise" baseFrequency="0.9" numOctaves="1" seed="91" result="t0"/>
<feColorMatrix in="t0" type="matrix" values="0 0 0 0 1.000 0 0 0 0 1.000 0 0 0 0 1.000 30 0 0 0 -19.491" result="c0_0"/>
<feColorMatrix in="t0" type="matrix" values="0 0 0 0 0.910 0 0 0 0 0.627 0 0 0 0 0.816 0 30 0 0 -20.120" result="c0_1"/>
<feColorMatrix in="t0" type="matrix" values="0 0 0 0 0.502 0 0 0 0 0.690 0 0 0 0 0.502 0 0 30 0 -20.120" result="c0_2"/>
<feColorMatrix in="t0" type="matrix" values="0 0 0 0 0.541 0 0 0 0 0.604 0 0 0 0 0.753 0 0 0 30 -20.120" result="c0_3"/>
<feMerge result="m0"><feMergeNode in="SourceGraphic"/><feMergeNode in="c0_0"/><feMergeNode in="c0_1"/><feMergeNode in="c0_2"/><feMergeNode in="c0_3"/></feMerge>
<feGaussianBlur in="m0" stdDeviation="0.3" result="m"/>
<feComposite in="m" in2="SourceAlpha" operator="in"/>
</filter>
<filter id="i1" x="-5%" y="-5%" width="110%" height="110%" color-interpolation-filters="sRGB">
<feTurbulence type="fractalNoise" baseFrequency="0.07" numOctaves="2" seed="101" result="t0"/>
<feColorMatrix in="t0" type="matrix" values="0 0 0 0 0.890 0 0 0 0 0.467 0 0 0 0 0.761 30 0 0 0 -18.730" result="c0_0"/>
<feColorMatrix in="t0" type="matrix" values="0 0 0 0 0.549 0 0 0 0 0.337 0 0 0 0 0.294 0 30 0 0 -18.231" result="c0_1"/>
<feColorMatrix in="t0" type="matrix" values="0 0 0 0 1.000 0 0 0 0 1.000 0 0 0 0 1.000 0 0 30 0 -19.558" result="c0_2"/>
<feTurbulence type="fractalNoise" baseFrequency="0.35" numOctaves="2" seed="102" result="t1"/>
<feColorMatrix in="t1" type="matrix" values="0 0 0 0 0.549 0 0 0 0 0.337 0 0 0 0 0.294 30 0 0 0 -18.730" result="c1_0"/>
<feColorMatrix in="t1" type="matrix" values="0 0 0 0 0.486 0 0 0 0 0.753 0 0 0 0 0.486 0 30 0 0 -17.795" result="c1_1"/>
<feColorMatrix in="t1" type="matrix" values="0 0 0 0 0.890 0 0 0 0 0.467 0 0 0 0 0.761 0 0 30 0 -20.802" result="c1_2"/>
<feColorMatrix in="t1" type="matrix" values="0 0 0 0 0.090 0 0 0 0 0.745 0 0 0 0 0.812 0 0 0 30 -21.893" result="c1_3"/>
<feTurbulence type="fractalNoise" baseFrequency="0.9" numOctaves="1" seed="103" result="t2"/>
<feColorMatrix in="t2" type="matrix" values="0 0 0 0 1.000 0 0 0 0 1.000 0 0 0 0 1.000 30 0 0 0 -17.827" result="c2_0"/>
<feColorMatrix in="t2" type="matrix" values="0 0 0 0 0.722 0 0 0 0 0.878 0 0 0 0 0.722 0 30 0 0 -19.010" result="c2_1"/>
<feMerge result="m0"><feMergeNode in="SourceGraphic"/><feMergeNode in="c0_0"/><feMergeNode in="c0_1"/><feMergeNode in="c0_2"/><feMergeNode in="c1_0"/><feMergeNode in="c1_1"/><feMergeNode in="c1_2"/><feMergeNode in="c1_3"/><feMergeNode in="c2_0"/><feMergeNode in="c2_1"/></feMerge>
<feGaussianBlur in="m0" stdDeviation="0.45" result="m"/>
<feComposite in="m" in2="SourceAlpha" operator="in"/>
</filter>
<filter id="i2" x="-5%" y="-5%" width="110%" height="110%" color-interpolation-filters="sRGB">
<feTurbulence type="fractalNoise" baseFrequency="0.08" numOctaves="2" seed="111" result="t0"/>
<feColorMatrix in="t0" type="matrix" values="0 0 0 0 0.890 0 0 0 0 0.467 0 0 0 0 0.761 30 0 0 0 -17.530" result="c0_0"/>
<feColorMatrix in="t0" type="matrix" values="0 0 0 0 0.580 0 0 0 0 0.404 0 0 0 0 0.741 0 30 0 0 -17.795" result="c0_1"/>
<feColorMatrix in="t0" type="matrix" values="0 0 0 0 1.000 0 0 0 0 1.000 0 0 0 0 1.000 0 0 30 0 -18.231" result="c0_2"/>
<feTurbulence type="fractalNoise" baseFrequency="0.4" numOctaves="2" seed="112" result="t1"/>
<feColorMatrix in="t1" type="matrix" values="0 0 0 0 0.122 0 0 0 0 0.467 0 0 0 0 0.706 30 0 0 0 -19.813" result="c1_0"/>
<feColorMatrix in="t1" type="matrix" values="0 0 0 0 0.173 0 0 0 0 0.627 0 0 0 0 0.173 0 30 0 0 -19.558" result="c1_1"/>
<feColorMatrix in="t1" type="matrix" values="0 0 0 0 1.000 0 0 0 0 0.498 0 0 0 0 0.055 0 0 30 0 -20.802" result="c1_2"/>
<feColorMatrix in="t1" type="matrix" values="0 0 0 0 0.090 0 0 0 0 0.745 0 0 0 0 0.812 0 0 0 30 -20.097" result="c1_3"/>
<feTurbulence type="fractalNoise" baseFrequency="0.9" numOctaves="1" seed="113" result="t2"/>
<feColorMatrix in="t2" type="matrix" values="0 0 0 0 1.000 0 0 0 0 1.000 0 0 0 0 1.000 30 0 0 0 -16.665" result="c2_0"/>
<feColorMatrix in="t2" type="matrix" values="0 0 0 0 0.910 0 0 0 0 0.784 0 0 0 0 0.910 0 30 0 0 -19.010" result="c2_1"/>
<feColorMatrix in="t2" type="matrix" values="0 0 0 0 0.498 0 0 0 0 0.498 0 0 0 0 0.498 0 0 30 0 -20.537" result="c2_2"/>
<feMerge result="m0"><feMergeNode in="SourceGraphic"/><feMergeNode in="c0_0"/><feMergeNode in="c0_1"/><feMergeNode in="c0_2"/><feMergeNode in="c1_0"/><feMergeNode in="c1_1"/><feMergeNode in="c1_2"/><feMergeNode in="c1_3"/><feMergeNode in="c2_0"/><feMergeNode in="c2_1"/><feMergeNode in="c2_2"/></feMerge>
<feGaussianBlur in="m0" stdDeviation="0.45" result="m"/>
<feComposite in="m" in2="SourceAlpha" operator="in"/>
</filter>
<filter id="i3" x="-5%" y="-5%" width="110%" height="110%" color-interpolation-filters="sRGB">
<feTurbulence type="fractalNoise" baseFrequency="0.09" numOctaves="2" seed="121" result="t0"/>
<feColorMatrix in="t0" type="matrix" values="0 0 0 0 1.000 0 0 0 0 0.498 0 0 0 0 0.055 30 0 0 0 -18.730" result="c0_0"/>
<feColorMatrix in="t0" type="matrix" values="0 0 0 0 0.173 0 0 0 0 0.627 0 0 0 0 0.173 0 30 0 0 -20.802" result="c0_1"/>
<feColorMatrix in="t0" type="matrix" values="0 0 0 0 0.941 0 0 0 0 0.376 0 0 0 0 0.376 0 0 30 0 -18.730" result="c0_2"/>
<feTurbulence type="fractalNoise" baseFrequency="0.4" numOctaves="2" seed="122" result="t1"/>
<feColorMatrix in="t1" type="matrix" values="0 0 0 0 1.000 0 0 0 0 0.498 0 0 0 0 0.055 30 0 0 0 -18.730" result="c1_0"/>
<feColorMatrix in="t1" type="matrix" values="0 0 0 0 0.122 0 0 0 0 0.467 0 0 0 0 0.706 0 30 0 0 -20.802" result="c1_1"/>
<feColorMatrix in="t1" type="matrix" values="0 0 0 0 0.090 0 0 0 0 0.745 0 0 0 0 0.812 0 0 30 0 -20.802" result="c1_2"/>
<feColorMatrix in="t1" type="matrix" values="0 0 0 0 0.890 0 0 0 0 0.314 0 0 0 0 0.314 0 0 0 30 -19.114" result="c1_3"/>
<feTurbulence type="fractalNoise" baseFrequency="0.9" numOctaves="1" seed="123" result="t2"/>
<feColorMatrix in="t2" type="matrix" values="0 0 0 0 1.000 0 0 0 0 1.000 0 0 0 0 1.000 30 0 0 0 -17.827" result="c2_0"/>
<feColorMatrix in="t2" type="matrix" values="0 0 0 0 0.961 0 0 0 0 0.753 0 0 0 0 0.659 0 30 0 0 -19.491" result="c2_1"/>
<feMerge result="m0"><feMergeNode in="SourceGraphic"/><feMergeNode in="c0_0"/><feMergeNode in="c0_1"/><feMergeNode in="c0_2"/><feMergeNode in="c1_0"/><feMergeNode in="c1_1"/><feMergeNode in="c1_2"/><feMergeNode in="c1_3"/><feMergeNode in="c2_0"/><feMergeNode in="c2_1"/></feMerge>
<feGaussianBlur in="m0" stdDeviation="0.45" result="m"/>
<feComposite in="m" in2="SourceAlpha" operator="in"/>
</filter>
<clipPath id="cb1"><rect x="340.5" y="825.4" width="110" height="109.8"/></clipPath>
<clipPath id="cb2"><rect x="455.1" y="825.4" width="109.9" height="110"/></clipPath>
<clipPath id="cb3"><rect x="569.5" y="825.4" width="110.4" height="110"/></clipPath>
</defs>
<g filter="url(#pt)"><circle cx="382.8" cy="740.6" r="3.4" fill="#d5acc7"/><circle cx="392.5" cy="755.8" r="3.2" fill="#c79dc4"/><circle cx="354.3" cy="608.9" r="3.1" fill="#7c926f"/><circle cx="367.1" cy="645.8" r="3.1" fill="#a7b5ab"/><circle cx="371.1" cy="665.1" r="3.0" fill="#baabc9"/><circle cx="379.7" cy="683.7" r="3.1" fill="#c1abc8"/><circle cx="376.7" cy="695.0" r="3.4" fill="#cdbfc2"/><circle cx="385.5" cy="702.2" r="3.3" fill="#c8add2"/><circle cx="379.3" cy="713.3" r="3.2" fill="#c0a3b8"/><circle cx="388.1" cy="719.7" r="3.0" fill="#ccb1d2"/><circle cx="385.8" cy="730.1" r="2.9" fill="#c5a0c9"/><circle cx="392.6" cy="747.1" r="3.3" fill="#c4afce"/><circle cx="400.7" cy="752.7" r="3.5" fill="#d3b0cc"/><circle cx="399.5" cy="766.0" r="3.2" fill="#cfa9d6"/><circle cx="408.6" cy="773.4" r="3.3" fill="#d194cc"/><circle cx="405.4" cy="781.5" r="3.5" fill="#d4a5d7"/><circle cx="357.6" cy="590.6" r="3.5" fill="#6e9b7c"/><circle cx="366.6" cy="607.5" r="3.6" fill="#7f9c6f"/><circle cx="362.9" cy="619.1" r="3.5" fill="#8db286"/><circle cx="370.0" cy="628.3" r="2.9" fill="#92a29e"/><circle cx="366.5" cy="635.1" r="3.5" fill="#a6ba9f"/><circle cx="376.3" cy="641.4" r="3.0" fill="#b0a8af"/><circle cx="374.0" cy="655.0" r="3.0" fill="#b1bbb4"/><circle cx="378.9" cy="660.8" r="3.3" fill="#a2b2b1"/><circle cx="379.0" cy="671.7" r="3.0" fill="#b0b7ba"/><circle cx="389.5" cy="679.8" r="3.5" fill="#c3acd1"/><circle cx="385.2" cy="691.9" r="3.4" fill="#c7a4c3"/><circle cx="393.7" cy="700.5" r="2.9" fill="#d5b1c5"/><circle cx="391.9" cy="711.8" r="3.4" fill="#c4a4c4"/><circle cx="399.7" cy="714.1" r="2.8" fill="#cdb0c3"/><circle cx="399.9" cy="726.5" r="3.4" fill="#c7a5c6"/><circle cx="405.4" cy="731.7" r="3.1" fill="#b5a1c2"/><circle cx="402.2" cy="747.6" r="3.4" fill="#d4a8da"/><circle cx="410.0" cy="751.6" r="2.9" fill="#be9bc2"/><circle cx="407.9" cy="765.1" r="3.4" fill="#d0aad0"/><circle cx="417.0" cy="771.6" r="3.3" fill="#caa8c9"/><circle cx="416.5" cy="780.8" r="2.9" fill="#dba0ce"/><circle cx="423.0" cy="784.1" r="2.8" fill="#b7a3d0"/><circle cx="358.1" cy="574.9" r="3.2" fill="#93b194"/><circle cx="367.7" cy="586.2" r="3.4" fill="#809d86"/><circle cx="368.9" cy="597.4" r="3.4" fill="#7da276"/><circle cx="374.6" cy="605.0" r="3.2" fill="#849487"/><circle cx="375.0" cy="617.4" r="3.2" fill="#a4ab93"/><circle cx="381.4" cy="622.3" r="3.3" fill="#9bad92"/><circle cx="377.9" cy="636.0" r="3.5" fill="#9fadaa"/><circle cx="386.7" cy="640.1" r="3.2" fill="#a3a5b9"/><circle cx="382.6" cy="651.4" r="3.1" fill="#9fa8ae"/><circle cx="391.4" cy="658.6" r="3.5" fill="#b4b0c3"/><circle cx="390.8" cy="669.4" r="3.5" fill="#cdbbc5"/><circle cx="396.4" cy="675.3" r="2.9" fill="#adadb3"/><circle cx="395.8" cy="685.1" r="3.1" fill="#c2b5ce"/><circle cx="405.7" cy="693.6" r="2.8" fill="#d1aeca"/><circle cx="404.4" cy="706.7" r="3.4" fill="#d2a2ce"/><circle cx="411.5" cy="710.5" r="3.0" fill="#cbb1cf"/><circle cx="407.4" cy="720.7" r="3.4" fill="#c3a0c7"/><circle cx="415.6" cy="740.5" r="3.5" fill="#c9a5d2"/><circle cx="422.3" cy="746.9" r="3.5" fill="#d4afd6"/><circle cx="417.3" cy="759.3" r="3.0" fill="#cea3d2"/><circle cx="428.0" cy="768.2" r="2.8" fill="#cc9cc5"/><circle cx="423.0" cy="776.1" r="3.3" fill="#c6a4d2"/><circle cx="434.2" cy="786.9" r="3.0" fill="#c9a0d5"/><circle cx="429.9" cy="796.1" r="3.1" fill="#cdaed2"/><circle cx="369.0" cy="549.6" r="3.0" fill="#96a187"/><circle cx="367.3" cy="553.9" r="3.4" fill="#969a92"/><circle cx="372.1" cy="563.5" r="3.1" fill="#9bad86"/><circle cx="373.0" cy="575.6" r="3.1" fill="#8fa480"/><circle cx="381.1" cy="580.8" r="2.9" fill="#94af88"/><circle cx="374.2" cy="592.1" r="3.3" fill="#87aa81"/><circle cx="386.2" cy="602.6" r="3.4" fill="#9daba8"/><circle cx="384.2" cy="609.9" r="3.3" fill="#91a098"/><circle cx="389.7" cy="619.4" r="3.5" fill="#acb09f"/><circle cx="389.6" cy="628.8" r="3.0" fill="#a7a0a3"/><circle cx="396.9" cy="636.7" r="2.9" fill="#b3b3b6"/><circle cx="392.8" cy="648.4" r="3.2" fill="#b2b7c1"/><circle cx="402.9" cy="657.2" r="3.2" fill="#a0b8be"/><circle cx="400.7" cy="664.7" r="3.6" fill="#b8b2ba"/><circle cx="408.2" cy="672.5" r="3.0" fill="#b2aabc"/><circle cx="405.6" cy="683.4" r="3.0" fill="#bbabba"/><circle cx="415.7" cy="689.5" r="3.3" fill="#beafc3"/><circle cx="412.3" cy="702.3" r="3.0" fill="#c5bccb"/><circle cx="418.2" cy="708.1" r="3.2" fill="#bea6bc"/><circle cx="416.0" cy="720.3" r="3.3" fill="#cba8c6"/><circle cx="425.7" cy="724.6" r="2.9" fill="#c7accd"/><circle cx="421.5" cy="736.8" r="3.1" fill="#c4a2c9"/><circle cx="432.0" cy="742.8" r="3.0" fill="#c9a3c6"/><circle cx="431.1" cy="754.2" r="3.1" fill="#cd96c7"/><circle cx="438.7" cy="761.4" r="3.4" fill="#d4a4ce"/><circle cx="433.8" cy="774.3" r="3.1" fill="#d5a5d1"/><circle cx="443.4" cy="781.2" r="3.5" fill="#c99dbc"/><circle cx="440.0" cy="791.7" r="3.4" fill="#c79bc4"/><circle cx="379.2" cy="542.4" r="2.9" fill="#a0a691"/><circle cx="375.2" cy="552.8" r="2.9" fill="#96b494"/><circle cx="386.1" cy="562.0" r="3.4" fill="#95a58c"/><circle cx="381.7" cy="572.5" r="3.3" fill="#9db28e"/><circle cx="389.4" cy="578.5" r="3.5" fill="#a0a699"/><circle cx="385.9" cy="590.4" r="2.9" fill="#94a287"/><circle cx="397.0" cy="595.9" r="2.8" fill="#a5bd9e"/><circle cx="391.3" cy="607.0" r="3.3" fill="#9ab19a"/><circle cx="399.7" cy="615.2" r="3.0" fill="#a8b8a9"/><circle cx="396.7" cy="625.8" r="3.0" fill="#a4aea3"/><circle cx="407.5" cy="631.1" r="2.9" fill="#aaafad"/><circle cx="405.7" cy="647.3" r="3.0" fill="#a9b5b7"/><circle cx="412.1" cy="652.8" r="2.8" fill="#abb2aa"/><circle cx="418.6" cy="670.2" r="2.8" fill="#b29cb5"/><circle cx="424.5" cy="687.1" r="3.5" fill="#b4b0c1"/><circle cx="430.0" cy="704.1" r="3.0" fill="#b19bbe"/><circle cx="427.8" cy="717.0" r="3.0" fill="#bfb9c5"/><circle cx="437.4" cy="723.4" r="3.2" fill="#c8b6c6"/><circle cx="433.1" cy="734.2" r="3.3" fill="#d6b7d3"/><circle cx="442.4" cy="755.1" r="3.2" fill="#d3b2d3"/><circle cx="446.3" cy="759.3" r="3.0" fill="#ce9ec8"/><circle cx="445.6" cy="772.1" r="2.9" fill="#d5a1c1"/><circle cx="452.4" cy="775.6" r="3.0" fill="#cfb1cd"/><circle cx="457.0" cy="790.0" r="3.4" fill="#d8a9d6"/><circle cx="462.2" cy="798.0" r="3.1" fill="#cfacc4"/><circle cx="382.0" cy="531.9" r="3.2" fill="#ad998f"/><circle cx="389.1" cy="540.6" r="2.9" fill="#adb590"/><circle cx="388.0" cy="550.9" r="3.2" fill="#96a086"/><circle cx="395.4" cy="557.3" r="3.2" fill="#90a88b"/><circle cx="394.9" cy="568.9" r="3.6" fill="#99a498"/><circle cx="397.7" cy="578.2" r="3.6" fill="#96a190"/><circle cx="397.0" cy="586.8" r="2.9" fill="#a1b394"/><circle cx="406.0" cy="593.7" r="3.5" fill="#a8b1a5"/><circle cx="404.6" cy="604.6" r="3.5" fill="#c1bbad"/><circle cx="409.0" cy="610.3" r="3.1" fill="#b2b5ae"/><circle cx="410.7" cy="623.1" r="2.8" fill="#aabdad"/><circle cx="417.6" cy="627.8" r="3.4" fill="#b4b6b6"/><circle cx="417.1" cy="640.8" r="3.5" fill="#a3aab6"/><circle cx="423.0" cy="649.9" r="3.2" fill="#a7b0b2"/><circle cx="420.3" cy="658.9" r="3.2" fill="#b6aacb"/><circle cx="429.0" cy="664.6" r="3.4" fill="#bab9c4"/><circle cx="426.7" cy="677.3" r="3.4" fill="#bfb1c5"/><circle cx="434.3" cy="682.8" r="2.9" fill="#c2a9c8"/><circle cx="430.4" cy="693.8" r="3.0" fill="#b9b1bd"/><circle cx="441.7" cy="701.4" r="3.0" fill="#acafca"/><circle cx="438.7" cy="713.1" r="3.3" fill="#c0aac1"/><circle cx="447.5" cy="724.3" r="3.3" fill="#c4aac5"/><circle cx="454.2" cy="739.1" r="3.0" fill="#bca8c2"/><circle cx="452.6" cy="746.3" r="3.4" fill="#cbaed4"/><circle cx="459.5" cy="755.4" r="3.3" fill="#c7a8d5"/><circle cx="461.0" cy="767.8" r="2.9" fill="#c6a4ce"/><circle cx="467.1" cy="773.3" r="3.2" fill="#c6a3bf"/><circle cx="459.8" cy="785.7" r="3.0" fill="#d8b5cd"/><circle cx="469.9" cy="793.8" r="2.8" fill="#c8b2d5"/><circle cx="469.4" cy="802.4" r="3.2" fill="#bbabc0"/><circle cx="390.3" cy="531.3" r="3.0" fill="#b2b0a1"/><circle cx="400.0" cy="533.4" r="3.3" fill="#a8a69e"/><circle cx="395.1" cy="545.2" r="3.1" fill="#b0b0a2"/><circle cx="408.5" cy="555.4" r="3.0" fill="#a9a899"/><circle cx="400.8" cy="565.6" r="2.8" fill="#95a38b"/><circle cx="412.9" cy="571.0" r="3.1" fill="#a5a8a0"/><circle cx="406.6" cy="581.9" r="2.8" fill="#a2ada6"/><circle cx="417.2" cy="592.0" r="3.3" fill="#a29fa6"/><circle cx="415.2" cy="601.9" r="3.0" fill="#aec3b2"/><circle cx="422.4" cy="609.6" r="3.1" fill="#a8b9ac"/><circle cx="419.0" cy="618.1" r="3.0" fill="#b5aeb5"/><circle cx="429.4" cy="628.4" r="3.2" fill="#b6bac0"/><circle cx="423.9" cy="638.4" r="3.5" fill="#b8b9bc"/><circle cx="435.1" cy="644.4" r="3.3" fill="#b9b3bd"/><circle cx="433.1" cy="655.7" r="2.9" fill="#b3b6b2"/><circle cx="440.8" cy="662.1" r="3.5" fill="#b4a6c6"/><circle cx="439.6" cy="670.3" r="2.9" fill="#abb8b7"/><circle cx="445.8" cy="680.1" r="3.6" fill="#a9b6be"/><circle cx="444.5" cy="692.5" r="3.1" fill="#b8aabf"/><circle cx="451.0" cy="702.2" r="3.4" fill="#ccbec8"/><circle cx="449.9" cy="708.6" r="3.1" fill="#baa7b5"/><circle cx="457.1" cy="715.9" r="3.3" fill="#c6adc5"/><circle cx="453.3" cy="729.5" r="3.5" fill="#b3a4b8"/><circle cx="460.2" cy="737.8" r="3.6" fill="#cfa2de"/><circle cx="460.9" cy="744.4" r="2.9" fill="#c2add4"/><circle cx="472.5" cy="753.6" r="3.6" fill="#d7b7d2"/><circle cx="467.4" cy="766.2" r="3.3" fill="#bea3cc"/><circle cx="477.0" cy="771.1" r="3.4" fill="#baa2c4"/><circle cx="469.9" cy="783.6" r="3.0" fill="#ccaec3"/><circle cx="479.7" cy="790.2" r="3.3" fill="#cfb0d0"/><circle cx="478.0" cy="800.6" r="2.9" fill="#ba9dc5"/><circle cx="399.8" cy="525.1" r="3.1" fill="#b5aea4"/><circle cx="405.6" cy="531.3" r="3.4" fill="#a89697"/><circle cx="407.0" cy="545.9" r="3.2" fill="#a1aa93"/><circle cx="415.9" cy="549.1" r="3.2" fill="#b3b69b"/><circle cx="412.6" cy="562.6" r="3.1" fill="#9fa99b"/><circle cx="420.9" cy="567.7" r="3.2" fill="#b1a298"/><circle cx="425.5" cy="590.5" r="3.3" fill="#b4b9af"/><circle cx="431.4" cy="616.2" r="3.4" fill="#b7b6b9"/><circle cx="438.2" cy="623.9" r="3.4" fill="#acb9b6"/><circle cx="432.8" cy="634.5" r="3.0" fill="#a8b6b2"/><circle cx="443.6" cy="643.4" r="2.9" fill="#b8b6b6"/><circle cx="443.2" cy="650.3" r="3.0" fill="#a0a8a8"/><circle cx="447.2" cy="670.4" r="3.0" fill="#b3b1bc"/><circle cx="455.2" cy="678.3" r="3.6" fill="#b0aeba"/><circle cx="455.3" cy="687.6" r="3.0" fill="#b0aeb8"/><circle cx="461.0" cy="699.3" r="3.2" fill="#bfb6c4"/><circle cx="459.1" cy="708.4" r="3.4" fill="#bba7bb"/><circle cx="470.2" cy="713.5" r="2.9" fill="#cebac4"/><circle cx="467.1" cy="723.0" r="3.3" fill="#b7aebb"/><circle cx="470.4" cy="730.9" r="3.5" fill="#c3afc8"/><circle cx="476.5" cy="749.2" r="3.1" fill="#c3a3bc"/><circle cx="476.6" cy="760.7" r="3.2" fill="#b9aeba"/><circle cx="482.6" cy="766.9" r="3.2" fill="#c7a9cb"/><circle cx="482.2" cy="776.2" r="3.5" fill="#c6a3c5"/><circle cx="488.4" cy="783.9" r="3.2" fill="#cba6d5"/><circle cx="486.9" cy="795.7" r="3.5" fill="#d2a5c8"/><circle cx="415.3" cy="513.6" r="3.3" fill="#beab9c"/><circle cx="420.7" cy="529.1" r="3.2" fill="#a8a395"/><circle cx="417.2" cy="540.6" r="2.8" fill="#b6a29a"/><circle cx="425.4" cy="544.6" r="3.2" fill="#b89896"/><circle cx="421.8" cy="558.6" r="2.8" fill="#b5ae9a"/><circle cx="429.6" cy="568.1" r="3.0" fill="#b3bbaa"/><circle cx="427.6" cy="576.2" r="3.4" fill="#adaea1"/><circle cx="435.6" cy="583.0" r="3.4" fill="#b4a8a0"/><circle cx="435.9" cy="591.7" r="2.9" fill="#b1aea7"/><circle cx="437.0" cy="613.3" r="2.9" fill="#b2b8af"/><circle cx="449.2" cy="620.6" r="3.1" fill="#adc4c1"/><circle cx="443.1" cy="630.7" r="3.4" fill="#b2beb2"/><circle cx="455.5" cy="636.4" r="3.0" fill="#b7b4be"/><circle cx="454.1" cy="646.9" r="3.5" fill="#b3aeb1"/><circle cx="460.2" cy="654.9" r="3.3" fill="#a9b4bb"/><circle cx="456.3" cy="667.2" r="3.3" fill="#ae9ebf"/><circle cx="469.2" cy="672.9" r="3.0" fill="#bcb3c9"/><circle cx="464.6" cy="685.3" r="3.5" fill="#b2b4c3"/><circle cx="472.1" cy="693.1" r="3.2" fill="#c4b5c1"/><circle cx="470.8" cy="702.9" r="2.9" fill="#c3aec1"/><circle cx="479.4" cy="711.0" r="2.9" fill="#ada8bd"/><circle cx="474.4" cy="721.9" r="3.6" fill="#b7b2bf"/><circle cx="484.4" cy="726.5" r="3.3" fill="#bfa9be"/><circle cx="481.8" cy="743.6" r="3.0" fill="#c7aec9"/><circle cx="491.0" cy="746.6" r="3.3" fill="#d3aac3"/><circle cx="486.3" cy="756.0" r="2.9" fill="#b2b0b6"/><circle cx="497.8" cy="764.8" r="3.1" fill="#c2a6bd"/><circle cx="495.1" cy="776.6" r="3.5" fill="#d9b2cd"/><circle cx="501.1" cy="782.7" r="3.5" fill="#b9a0bc"/><circle cx="500.6" cy="796.0" r="3.4" fill="#c1a4c4"/><circle cx="419.4" cy="519.2" r="3.2" fill="#b9a6a3"/><circle cx="429.7" cy="525.1" r="3.2" fill="#bfa9a5"/><circle cx="425.8" cy="534.5" r="3.1" fill="#aea99d"/><circle cx="434.7" cy="544.5" r="3.2" fill="#b4aca2"/><circle cx="434.3" cy="555.5" r="3.3" fill="#c1a9a6"/><circle cx="442.4" cy="564.9" r="3.5" fill="#ada0a9"/><circle cx="437.6" cy="576.0" r="3.0" fill="#b6b7a7"/><circle cx="448.9" cy="582.6" r="3.2" fill="#b6b2b0"/><circle cx="444.8" cy="591.4" r="3.0" fill="#b0bfa6"/><circle cx="450.0" cy="598.9" r="3.1" fill="#afaea8"/><circle cx="449.5" cy="612.1" r="3.6" fill="#aab2ad"/><circle cx="459.1" cy="614.7" r="3.2" fill="#abbcb4"/><circle cx="456.4" cy="630.9" r="3.2" fill="#b1aeb7"/><circle cx="466.6" cy="639.0" r="3.4" fill="#aeb0bb"/><circle cx="462.3" cy="646.4" r="3.5" fill="#afaebb"/><circle cx="471.1" cy="651.5" r="3.1" fill="#b3aeb7"/><circle cx="469.2" cy="665.2" r="2.9" fill="#b4b1cc"/><circle cx="473.8" cy="672.6" r="3.3" fill="#aeabc5"/><circle cx="475.4" cy="681.6" r="3.6" fill="#adabb4"/><circle cx="480.7" cy="686.1" r="2.9" fill="#bdb2c3"/><circle cx="481.2" cy="699.0" r="3.1" fill="#bfbac5"/><circle cx="489.4" cy="707.1" r="3.6" fill="#cabbba"/><circle cx="485.8" cy="716.6" r="3.3" fill="#c8baba"/><circle cx="491.1" cy="734.9" r="2.9" fill="#cfa4c8"/><circle cx="500.6" cy="741.7" r="3.2" fill="#d1b5c9"/><circle cx="495.3" cy="753.2" r="3.4" fill="#c9a5bf"/><circle cx="507.4" cy="760.3" r="3.5" fill="#beb2c2"/><circle cx="506.0" cy="771.9" r="2.9" fill="#b99bb5"/><circle cx="509.4" cy="778.8" r="2.9" fill="#c1a7ba"/><circle cx="510.6" cy="789.8" r="3.5" fill="#c7b3c6"/><circle cx="517.0" cy="799.7" r="3.0" fill="#b9aeba"/><circle cx="440.8" cy="524.8" r="3.3" fill="#b39a9e"/><circle cx="440.3" cy="530.1" r="3.4" fill="#c4a69a"/><circle cx="448.0" cy="541.9" r="3.1" fill="#b7a6a6"/><circle cx="445.1" cy="553.1" r="3.5" fill="#bcaf9a"/><circle cx="450.9" cy="559.0" r="3.4" fill="#bfb3b7"/><circle cx="449.6" cy="568.8" r="3.2" fill="#b8b6ab"/><circle cx="456.5" cy="574.9" r="3.2" fill="#b69ea1"/><circle cx="456.7" cy="589.9" r="3.4" fill="#afaba6"/><circle cx="465.4" cy="595.0" r="3.1" fill="#aea4b1"/><circle cx="463.9" cy="610.5" r="3.1" fill="#a6a3ab"/><circle cx="467.2" cy="612.6" r="3.0" fill="#abb3ad"/><circle cx="466.6" cy="625.9" r="3.2" fill="#beb0ba"/><circle cx="473.5" cy="628.0" r="3.3" fill="#b1aaa9"/><circle cx="472.9" cy="640.3" r="2.9" fill="#adb0b6"/><circle cx="481.3" cy="650.9" r="3.6" fill="#aab3be"/><circle cx="479.6" cy="662.0" r="3.4" fill="#baacc7"/><circle cx="482.6" cy="679.7" r="3.0" fill="#b9afc2"/><circle cx="493.2" cy="687.3" r="3.4" fill="#b1a1bb"/><circle cx="491.1" cy="696.5" r="3.0" fill="#bbadae"/><circle cx="496.5" cy="714.3" r="3.5" fill="#baadad"/><circle cx="500.6" cy="721.4" r="3.4" fill="#b9adb8"/><circle cx="504.6" cy="732.8" r="2.9" fill="#c1afc1"/><circle cx="511.0" cy="740.4" r="3.4" fill="#c8bacc"/><circle cx="508.9" cy="749.6" r="3.6" fill="#c6b2c1"/><circle cx="514.3" cy="757.8" r="3.0" fill="#ceb2bf"/><circle cx="513.0" cy="765.6" r="3.0" fill="#bca3b7"/><circle cx="522.4" cy="773.9" r="3.0" fill="#ccbac4"/><circle cx="519.8" cy="785.3" r="3.0" fill="#c9b5cd"/><circle cx="526.6" cy="794.3" r="3.2" fill="#cfafcb"/><circle cx="449.8" cy="520.9" r="3.4" fill="#b8a39c"/><circle cx="449.2" cy="529.1" r="3.4" fill="#c2afb2"/><circle cx="456.9" cy="537.3" r="3.4" fill="#bdada1"/><circle cx="451.4" cy="544.6" r="3.0" fill="#c0a2a9"/><circle cx="460.2" cy="554.6" r="3.1" fill="#c0ada6"/><circle cx="457.2" cy="567.1" r="3.3" fill="#b1aca2"/><circle cx="467.0" cy="573.9" r="2.9" fill="#b7b9a2"/><circle cx="466.3" cy="584.9" r="3.2" fill="#b9b2ab"/><circle cx="472.3" cy="603.4" r="3.4" fill="#adbabe"/><circle cx="480.7" cy="608.1" r="2.8" fill="#bfc0bf"/><circle cx="479.5" cy="620.4" r="3.5" fill="#abafbd"/><circle cx="489.6" cy="627.9" r="3.3" fill="#c4aec3"/><circle cx="480.5" cy="638.2" r="3.4" fill="#b4b1bb"/><circle cx="493.0" cy="643.8" r="2.9" fill="#aea9ab"/><circle cx="489.6" cy="654.5" r="3.5" fill="#aca7b1"/><circle cx="498.1" cy="663.7" r="3.6" fill="#c3b5bd"/><circle cx="493.0" cy="673.9" r="3.0" fill="#bcb3c5"/><circle cx="503.7" cy="682.4" r="2.9" fill="#c0aebb"/><circle cx="499.8" cy="692.6" r="3.6" fill="#a9a8c0"/><circle cx="507.9" cy="697.6" r="3.4" fill="#b5a5a8"/><circle cx="502.4" cy="708.4" r="3.4" fill="#c4b0cb"/><circle cx="515.6" cy="719.3" r="3.6" fill="#c8beb8"/><circle cx="513.5" cy="728.5" r="3.3" fill="#c4a1bb"/><circle cx="522.3" cy="737.9" r="3.1" fill="#c0a8b5"/><circle cx="519.2" cy="747.6" r="3.5" fill="#c7a7bb"/><circle cx="527.8" cy="754.9" r="3.5" fill="#c3a9b5"/><circle cx="524.7" cy="763.8" r="3.5" fill="#d8b3b7"/><circle cx="533.7" cy="769.6" r="3.3" fill="#bcaabc"/><circle cx="530.3" cy="781.6" r="2.8" fill="#c3a7af"/><circle cx="539.5" cy="791.1" r="3.5" fill="#c9a1c7"/><circle cx="460.8" cy="514.6" r="3.6" fill="#cab3ad"/><circle cx="456.9" cy="523.3" r="3.1" fill="#b99aa3"/><circle cx="466.1" cy="534.9" r="3.5" fill="#b5b2a7"/><circle cx="467.3" cy="542.6" r="3.4" fill="#b8a49d"/><circle cx="470.7" cy="551.5" r="3.1" fill="#bfa39b"/><circle cx="469.8" cy="561.1" r="3.4" fill="#afa6a1"/><circle cx="479.0" cy="573.6" r="3.0" fill="#b6b2ad"/><circle cx="474.2" cy="582.1" r="3.3" fill="#b8bab3"/><circle cx="485.1" cy="588.4" r="3.4" fill="#afafa9"/><circle cx="481.2" cy="598.4" r="3.0" fill="#bcb3c6"/><circle cx="489.0" cy="609.4" r="3.5" fill="#c2bdbb"/><circle cx="487.0" cy="616.3" r="3.3" fill="#bbb3b0"/><circle cx="496.6" cy="627.4" r="2.9" fill="#b5b0b6"/><circle cx="502.4" cy="641.2" r="3.0" fill="#c5b4b4"/><circle cx="500.0" cy="651.2" r="2.9" fill="#b9b3bd"/><circle cx="507.8" cy="657.3" r="3.3" fill="#c3b4b5"/><circle cx="505.8" cy="669.0" r="2.9" fill="#c0bccb"/><circle cx="514.8" cy="680.2" r="3.5" fill="#b1b4bf"/><circle cx="512.5" cy="692.2" r="3.3" fill="#c9b6bd"/><circle cx="519.2" cy="699.3" r="3.5" fill="#ada0bc"/><circle cx="518.1" cy="707.1" r="3.0" fill="#ccb6c2"/><circle cx="522.9" cy="715.1" r="3.0" fill="#d2b3b3"/><circle cx="522.0" cy="725.1" r="2.8" fill="#d5b1c6"/><circle cx="530.6" cy="733.1" r="3.6" fill="#baa9b6"/><circle cx="527.3" cy="743.2" r="3.6" fill="#d8b3c7"/><circle cx="537.8" cy="749.7" r="2.9" fill="#c6afc8"/><circle cx="535.5" cy="764.2" r="3.6" fill="#caa9be"/><circle cx="543.5" cy="771.7" r="3.3" fill="#cfb4d0"/><circle cx="538.2" cy="781.5" r="3.4" fill="#d0b7c5"/><circle cx="547.2" cy="789.4" r="3.1" fill="#cbacbb"/><circle cx="545.6" cy="797.2" r="3.6" fill="#c8b0be"/><circle cx="469.1" cy="526.6" r="2.8" fill="#beaca3"/><circle cx="475.3" cy="542.0" r="3.6" fill="#bea9af"/><circle cx="484.6" cy="547.5" r="3.3" fill="#d0aab6"/><circle cx="480.9" cy="558.9" r="3.5" fill="#bdb2af"/><circle cx="490.5" cy="566.8" r="3.1" fill="#c6bcb4"/><circle cx="487.5" cy="577.9" r="2.8" fill="#cebbc0"/><circle cx="494.2" cy="581.9" r="3.0" fill="#b3afae"/><circle cx="502.4" cy="603.5" r="3.2" fill="#b7bdb5"/><circle cx="499.1" cy="616.2" r="3.0" fill="#a4b0a9"/><circle cx="503.1" cy="620.3" r="3.4" fill="#b9b2a3"/><circle cx="503.1" cy="633.6" r="3.4" fill="#c6aeb2"/><circle cx="514.9" cy="639.3" r="3.2" fill="#b4b2a4"/><circle cx="509.1" cy="651.6" r="3.3" fill="#afa8ac"/><circle cx="519.6" cy="658.0" r="3.1" fill="#bbb2c5"/><circle cx="514.4" cy="667.5" r="3.1" fill="#cabbc6"/><circle cx="524.8" cy="674.9" r="3.0" fill="#bcaca9"/><circle cx="520.9" cy="686.4" r="3.0" fill="#b3a8a7"/><circle cx="528.6" cy="695.5" r="3.3" fill="#c1a6b2"/><circle cx="530.4" cy="703.1" r="3.2" fill="#c4b6af"/><circle cx="536.5" cy="710.5" r="3.1" fill="#c6aeb6"/><circle cx="534.4" cy="720.8" r="3.5" fill="#c6b2c9"/><circle cx="544.4" cy="730.7" r="3.4" fill="#d6aac1"/><circle cx="538.5" cy="741.0" r="2.9" fill="#dab0ca"/><circle cx="547.7" cy="751.3" r="3.1" fill="#c2a6b6"/><circle cx="540.8" cy="755.4" r="2.8" fill="#c2b0bf"/><circle cx="552.9" cy="767.3" r="3.4" fill="#c2bec6"/><circle cx="551.7" cy="772.5" r="3.1" fill="#cfbace"/><circle cx="559.3" cy="784.5" r="3.0" fill="#bea5bd"/><circle cx="482.0" cy="520.1" r="3.4" fill="#c0aca3"/><circle cx="487.7" cy="526.0" r="3.3" fill="#c6b7b1"/><circle cx="487.3" cy="537.3" r="3.1" fill="#c29e9e"/><circle cx="494.3" cy="546.3" r="3.5" fill="#b69fa5"/><circle cx="491.8" cy="554.2" r="3.5" fill="#bda59b"/><circle cx="498.2" cy="564.7" r="3.3" fill="#c49cbd"/><circle cx="496.8" cy="571.6" r="3.4" fill="#b9b1ad"/><circle cx="503.1" cy="583.5" r="3.3" fill="#c6acab"/><circle cx="502.4" cy="594.2" r="2.9" fill="#b1a7a7"/><circle cx="510.5" cy="600.1" r="3.6" fill="#b4afad"/><circle cx="506.5" cy="614.0" r="2.9" fill="#beadae"/><circle cx="517.6" cy="616.9" r="3.4" fill="#c4aca6"/><circle cx="515.0" cy="630.2" r="2.8" fill="#b7a6a5"/><circle cx="522.6" cy="636.9" r="3.0" fill="#b7bbb8"/><circle cx="528.0" cy="653.2" r="2.9" fill="#c3b1b5"/><circle cx="525.9" cy="664.8" r="2.9" fill="#c5b1c1"/><circle cx="535.3" cy="672.2" r="3.1" fill="#d9bcb8"/><circle cx="532.8" cy="680.2" r="2.9" fill="#c6b0c2"/><circle cx="540.7" cy="688.4" r="3.0" fill="#c3afbb"/><circle cx="537.4" cy="700.3" r="3.1" fill="#c4b6bf"/><circle cx="547.3" cy="708.2" r="3.3" fill="#bfa7b4"/><circle cx="543.6" cy="720.3" r="3.5" fill="#c9b0b2"/><circle cx="553.5" cy="723.5" r="3.4" fill="#d1a9b6"/><circle cx="550.5" cy="735.4" r="3.0" fill="#d4abbc"/><circle cx="558.7" cy="744.4" r="3.2" fill="#d7b0be"/><circle cx="554.1" cy="754.9" r="2.9" fill="#b6a2bc"/><circle cx="561.4" cy="763.1" r="3.3" fill="#ccb2c7"/><circle cx="560.2" cy="772.8" r="3.3" fill="#bca3b9"/><circle cx="568.7" cy="779.4" r="3.4" fill="#d6b8ca"/><circle cx="567.8" cy="792.0" r="3.4" fill="#c4b5b8"/><circle cx="496.7" cy="521.6" r="2.8" fill="#d2a8a6"/><circle cx="498.0" cy="535.5" r="3.4" fill="#beafb4"/><circle cx="501.0" cy="540.5" r="3.0" fill="#cdb0b4"/><circle cx="502.1" cy="551.9" r="3.1" fill="#bfaba2"/><circle cx="506.8" cy="570.5" r="3.0" fill="#cec3af"/><circle cx="512.2" cy="592.5" r="2.8" fill="#bab8a5"/><circle cx="522.2" cy="593.3" r="3.1" fill="#c5acb0"/><circle cx="518.6" cy="605.0" r="3.2" fill="#c1b2b8"/><circle cx="525.2" cy="615.9" r="3.6" fill="#b1a6ae"/><circle cx="523.0" cy="622.4" r="3.4" fill="#bbbcb7"/><circle cx="532.1" cy="634.1" r="3.0" fill="#c5afb5"/><circle cx="529.3" cy="645.0" r="3.5" fill="#c7b0b2"/><circle cx="535.4" cy="648.7" r="3.6" fill="#c9b3c1"/><circle cx="536.7" cy="663.4" r="3.4" fill="#c2aeb4"/><circle cx="545.1" cy="667.1" r="3.2" fill="#c1bab6"/><circle cx="542.1" cy="677.0" r="2.8" fill="#b2a4a7"/><circle cx="552.0" cy="687.1" r="3.5" fill="#c9b8be"/><circle cx="549.5" cy="697.0" r="3.3" fill="#c5aab0"/><circle cx="556.4" cy="707.6" r="3.4" fill="#c6a8c1"/><circle cx="554.6" cy="713.6" r="3.5" fill="#d3b1c4"/><circle cx="560.5" cy="723.2" r="2.9" fill="#c7b0b0"/><circle cx="556.0" cy="734.4" r="3.2" fill="#d7b4bc"/><circle cx="566.8" cy="738.2" r="3.0" fill="#c4a2b0"/><circle cx="565.3" cy="750.2" r="3.0" fill="#d4bbb8"/><circle cx="572.1" cy="759.5" r="3.0" fill="#deb5c1"/><circle cx="569.9" cy="768.8" r="3.5" fill="#cba9c6"/><circle cx="580.7" cy="775.1" r="3.1" fill="#cdaab2"/><circle cx="576.7" cy="787.5" r="2.9" fill="#c6a7b8"/><circle cx="509.5" cy="522.7" r="3.5" fill="#bfaba7"/><circle cx="507.1" cy="533.1" r="3.1" fill="#bca799"/><circle cx="514.5" cy="539.7" r="3.0" fill="#b7b299"/><circle cx="508.9" cy="552.0" r="2.8" fill="#c5b6aa"/><circle cx="519.0" cy="554.9" r="2.9" fill="#c3b1ae"/><circle cx="515.6" cy="564.1" r="3.5" fill="#ccbaa7"/><circle cx="526.0" cy="574.5" r="3.2" fill="#ceaea4"/><circle cx="523.3" cy="586.7" r="2.9" fill="#c1afb5"/><circle cx="531.5" cy="594.7" r="3.6" fill="#bfa6a9"/><circle cx="529.7" cy="604.6" r="3.3" fill="#c2b4b6"/><circle cx="536.3" cy="608.0" r="3.3" fill="#c2a8a4"/><circle cx="536.1" cy="624.2" r="3.2" fill="#b7a4ac"/><circle cx="544.6" cy="628.7" r="3.5" fill="#cbb9b2"/><circle cx="543.4" cy="636.2" r="2.9" fill="#c0aaaa"/><circle cx="550.1" cy="659.2" r="3.4" fill="#c8b0b9"/><circle cx="557.2" cy="665.2" r="3.4" fill="#ceaead"/><circle cx="553.5" cy="677.7" r="3.2" fill="#c4aeb5"/><circle cx="558.5" cy="681.2" r="3.1" fill="#bca9af"/><circle cx="560.1" cy="691.4" r="3.6" fill="#b7a7b1"/><circle cx="565.2" cy="699.9" r="3.5" fill="#bea9b2"/><circle cx="566.4" cy="710.2" r="3.3" fill="#c7a5bf"/><circle cx="570.6" cy="719.3" r="3.4" fill="#cfb3b9"/><circle cx="569.8" cy="729.4" r="3.0" fill="#c0b2b3"/><circle cx="578.8" cy="735.1" r="3.4" fill="#cea8b1"/><circle cx="572.8" cy="750.8" r="2.9" fill="#c6a0b3"/><circle cx="586.0" cy="758.1" r="3.4" fill="#c5aeb8"/><circle cx="583.3" cy="763.2" r="3.4" fill="#cbbbb1"/><circle cx="517.8" cy="519.0" r="3.0" fill="#bba299"/><circle cx="525.4" cy="535.8" r="3.0" fill="#bcb09e"/><circle cx="523.6" cy="546.1" r="3.1" fill="#baaa99"/><circle cx="528.5" cy="556.4" r="3.4" fill="#d0c5ab"/><circle cx="533.1" cy="571.7" r="3.5" fill="#c9aca5"/><circle cx="532.0" cy="585.5" r="3.0" fill="#b19fab"/><circle cx="542.8" cy="592.2" r="3.1" fill="#d8bcb9"/><circle cx="539.9" cy="600.9" r="2.8" fill="#b9a5b3"/><circle cx="547.0" cy="609.1" r="3.5" fill="#c8aea7"/><circle cx="544.4" cy="616.6" r="3.5" fill="#bfaea7"/><circle cx="552.7" cy="627.3" r="3.2" fill="#bcaea3"/><circle cx="550.2" cy="634.4" r="3.2" fill="#c6afb4"/><circle cx="558.5" cy="645.7" r="3.2" fill="#ceb5aa"/><circle cx="559.3" cy="654.5" r="3.5" fill="#c7bbb4"/><circle cx="565.5" cy="660.4" r="3.2" fill="#b9a0ab"/><circle cx="562.2" cy="673.3" r="3.0" fill="#bba1a2"/><circle cx="573.1" cy="679.4" r="3.0" fill="#dba8bd"/><circle cx="577.1" cy="698.8" r="3.3" fill="#dab1b2"/><circle cx="576.0" cy="710.7" r="2.9" fill="#c4b0af"/><circle cx="582.4" cy="719.0" r="2.9" fill="#d09db6"/><circle cx="580.4" cy="726.6" r="3.1" fill="#d4a2be"/><circle cx="591.6" cy="733.5" r="3.6" fill="#bfb2a4"/><circle cx="586.9" cy="744.1" r="2.9" fill="#c0a2b0"/><circle cx="595.5" cy="752.8" r="3.5" fill="#c5a7af"/><circle cx="590.4" cy="765.0" r="3.4" fill="#c2a2b3"/><circle cx="522.3" cy="524.8" r="3.2" fill="#c5aea2"/><circle cx="535.1" cy="532.0" r="3.4" fill="#d8a9a9"/><circle cx="532.2" cy="541.6" r="3.3" fill="#c8b0b2"/><circle cx="539.3" cy="558.0" r="3.5" fill="#c4b8b5"/><circle cx="548.0" cy="568.9" r="3.2" fill="#d0a9b1"/><circle cx="545.4" cy="579.2" r="3.2" fill="#be9fa2"/><circle cx="552.0" cy="593.9" r="3.4" fill="#dcb5b0"/><circle cx="557.3" cy="605.1" r="3.6" fill="#cba4a1"/><circle cx="554.0" cy="615.7" r="3.1" fill="#bcb7ae"/><circle cx="563.2" cy="621.7" r="3.4" fill="#c7aeb3"/><circle cx="570.5" cy="640.1" r="3.4" fill="#d0adb0"/><circle cx="568.9" cy="652.0" r="3.0" fill="#c1aaae"/><circle cx="573.8" cy="657.7" r="3.3" fill="#c6b1af"/><circle cx="572.3" cy="668.8" r="2.9" fill="#c1a3aa"/><circle cx="581.4" cy="678.6" r="3.5" fill="#caad9b"/><circle cx="577.5" cy="686.8" r="2.9" fill="#bda0a9"/><circle cx="584.2" cy="707.0" r="2.8" fill="#c7a69c"/><circle cx="593.4" cy="713.3" r="3.5" fill="#d2ad9c"/><circle cx="589.7" cy="722.9" r="2.8" fill="#c9a3a8"/><circle cx="601.8" cy="729.9" r="3.4" fill="#cab1b9"/><circle cx="598.1" cy="743.4" r="3.3" fill="#d4b1bd"/><circle cx="602.1" cy="747.2" r="3.2" fill="#d1a9b3"/><circle cx="537.3" cy="512.7" r="2.9" fill="#bf927b"/><circle cx="533.7" cy="523.5" r="3.0" fill="#be9d8e"/><circle cx="541.8" cy="538.4" r="3.4" fill="#caa3a1"/><circle cx="548.4" cy="548.8" r="3.0" fill="#ceb199"/><circle cx="548.9" cy="559.9" r="3.1" fill="#beb2a8"/><circle cx="555.6" cy="565.7" r="3.1" fill="#dbb2a2"/><circle cx="553.9" cy="577.4" r="3.2" fill="#caaead"/><circle cx="562.7" cy="581.8" r="3.5" fill="#c8a4a2"/><circle cx="561.2" cy="595.0" r="3.1" fill="#c2afa0"/><circle cx="566.2" cy="601.2" r="3.0" fill="#ceb49e"/><circle cx="565.9" cy="613.0" r="3.0" fill="#d8a5ae"/><circle cx="573.7" cy="619.4" r="3.2" fill="#c998a5"/><circle cx="575.6" cy="628.9" r="3.2" fill="#cba3ad"/><circle cx="579.9" cy="637.5" r="3.0" fill="#c8a8a3"/><circle cx="579.4" cy="648.4" r="2.8" fill="#cea8ad"/><circle cx="585.5" cy="654.0" r="3.0" fill="#cbada4"/><circle cx="581.7" cy="666.9" r="3.3" fill="#c6a5ad"/><circle cx="589.1" cy="674.7" r="3.0" fill="#c7b1b6"/><circle cx="589.6" cy="685.3" r="3.4" fill="#cdaeae"/><circle cx="599.2" cy="690.4" r="3.2" fill="#e3a7ad"/><circle cx="597.5" cy="700.7" r="3.0" fill="#cab1b0"/><circle cx="605.6" cy="707.1" r="3.0" fill="#c798a6"/><circle cx="602.2" cy="721.2" r="3.6" fill="#c8a9ae"/><circle cx="608.9" cy="727.6" r="3.4" fill="#d2a2af"/><circle cx="608.8" cy="737.8" r="2.8" fill="#c9b6a6"/><circle cx="549.9" cy="507.9" r="3.5" fill="#c18278"/><circle cx="545.5" cy="518.9" r="3.6" fill="#d5998a"/><circle cx="553.2" cy="527.8" r="3.6" fill="#cd9787"/><circle cx="554.1" cy="538.2" r="3.4" fill="#d7a59a"/><circle cx="562.7" cy="544.4" r="3.3" fill="#cda19d"/><circle cx="559.7" cy="555.0" r="3.0" fill="#d8a7a6"/><circle cx="564.4" cy="573.2" r="3.3" fill="#caa4a4"/><circle cx="573.0" cy="581.6" r="3.1" fill="#bd9a9a"/><circle cx="569.9" cy="590.4" r="3.0" fill="#c5afa2"/><circle cx="577.3" cy="608.5" r="3.2" fill="#cab6ae"/><circle cx="585.9" cy="615.3" r="3.3" fill="#c5a4a4"/><circle cx="581.0" cy="626.3" r="2.9" fill="#d4b1a9"/><circle cx="592.5" cy="635.2" r="3.5" fill="#d7afaa"/><circle cx="598.4" cy="649.8" r="3.3" fill="#c4a39e"/><circle cx="594.2" cy="664.0" r="3.1" fill="#cab7b1"/><circle cx="603.5" cy="670.4" r="3.1" fill="#cbaba8"/><circle cx="598.8" cy="680.9" r="3.0" fill="#cfafa8"/><circle cx="605.7" cy="686.2" r="2.9" fill="#c0aca7"/><circle cx="602.5" cy="698.8" r="3.1" fill="#caa09f"/><circle cx="610.2" cy="707.8" r="2.9" fill="#c3aea5"/><circle cx="610.0" cy="717.4" r="2.9" fill="#c9a4a5"/><circle cx="622.1" cy="723.1" r="3.1" fill="#c2b1a9"/><circle cx="617.5" cy="735.2" r="3.1" fill="#cfaeb7"/><circle cx="560.5" cy="503.1" r="3.1" fill="#d17f76"/><circle cx="556.3" cy="516.5" r="3.1" fill="#c4886e"/><circle cx="567.7" cy="524.3" r="3.5" fill="#c79588"/><circle cx="564.5" cy="533.3" r="3.0" fill="#d19792"/><circle cx="570.9" cy="542.9" r="3.3" fill="#d9a3a2"/><circle cx="571.4" cy="552.0" r="3.2" fill="#dab5a8"/><circle cx="576.4" cy="557.2" r="3.5" fill="#ddac97"/><circle cx="576.2" cy="570.0" r="3.4" fill="#ccab94"/><circle cx="585.2" cy="574.6" r="3.3" fill="#c8a98e"/><circle cx="579.6" cy="588.3" r="3.0" fill="#d9ac9b"/><circle cx="589.8" cy="594.8" r="3.3" fill="#d0a798"/><circle cx="588.5" cy="606.5" r="3.2" fill="#cfa5a3"/><circle cx="594.7" cy="612.4" r="3.5" fill="#c5999a"/><circle cx="594.7" cy="621.2" r="3.4" fill="#d1acb3"/><circle cx="601.9" cy="631.1" r="3.4" fill="#cf9da3"/><circle cx="596.0" cy="640.5" r="3.4" fill="#cfa6ad"/><circle cx="608.5" cy="647.9" r="3.5" fill="#dab6aa"/><circle cx="604.0" cy="658.4" r="2.9" fill="#d8ad91"/><circle cx="612.8" cy="669.2" r="3.0" fill="#c4b0a3"/><circle cx="611.3" cy="677.5" r="3.2" fill="#ddb2a3"/><circle cx="618.4" cy="685.1" r="3.4" fill="#dca6ac"/><circle cx="616.7" cy="694.1" r="2.8" fill="#cea1aa"/><circle cx="626.5" cy="701.1" r="3.4" fill="#c1a3a2"/><circle cx="622.4" cy="711.4" r="2.9" fill="#d9a8ab"/><circle cx="628.1" cy="720.3" r="3.4" fill="#c8a9a7"/><circle cx="625.5" cy="728.7" r="3.3" fill="#cbb2b3"/><circle cx="568.5" cy="502.6" r="2.9" fill="#d5887d"/><circle cx="568.6" cy="510.3" r="3.1" fill="#cb8a70"/><circle cx="575.3" cy="518.5" r="2.9" fill="#d4937e"/><circle cx="580.9" cy="536.8" r="3.0" fill="#d1a195"/><circle cx="584.3" cy="556.2" r="3.1" fill="#d7a69f"/><circle cx="585.1" cy="565.6" r="3.2" fill="#d5a59c"/><circle cx="594.4" cy="573.0" r="3.0" fill="#d6a999"/><circle cx="592.6" cy="585.9" r="3.1" fill="#cfa7a8"/><circle cx="600.8" cy="590.2" r="3.2" fill="#d7aba1"/><circle cx="596.6" cy="605.9" r="2.9" fill="#dcb4a2"/><circle cx="606.0" cy="610.2" r="3.6" fill="#dda0a5"/><circle cx="603.5" cy="617.5" r="3.5" fill="#d9b0a0"/><circle cx="610.5" cy="628.3" r="3.3" fill="#bc9697"/><circle cx="610.9" cy="635.9" r="3.0" fill="#c2a6a4"/><circle cx="616.5" cy="643.2" r="3.6" fill="#d19fa2"/><circle cx="617.6" cy="655.1" r="2.9" fill="#e3b5a2"/><circle cx="621.8" cy="662.0" r="2.8" fill="#d2ada8"/><circle cx="620.8" cy="674.9" r="3.5" fill="#c9adab"/><circle cx="631.2" cy="682.2" r="3.3" fill="#d1a4a9"/><circle cx="626.4" cy="693.0" r="3.3" fill="#bd9fa3"/><circle cx="635.4" cy="701.1" r="2.9" fill="#d3afa8"/><circle cx="632.9" cy="709.8" r="3.5" fill="#daabaa"/><circle cx="578.6" cy="498.2" r="3.6" fill="#ce8877"/><circle cx="581.7" cy="506.8" r="3.0" fill="#c48d7d"/><circle cx="584.5" cy="513.8" r="3.4" fill="#cc8c85"/><circle cx="583.2" cy="524.8" r="3.3" fill="#d59590"/><circle cx="588.2" cy="543.5" r="3.4" fill="#c7a197"/><circle cx="599.3" cy="550.9" r="3.3" fill="#d9bbab"/><circle cx="597.5" cy="563.6" r="3.1" fill="#d9a6a0"/><circle cx="602.7" cy="570.5" r="3.1" fill="#ccb0a1"/><circle cx="602.3" cy="578.4" r="3.0" fill="#c4999b"/><circle cx="611.8" cy="589.3" r="3.2" fill="#daa4a0"/><circle cx="608.5" cy="601.0" r="3.0" fill="#ddb6a6"/><circle cx="614.9" cy="605.7" r="3.1" fill="#d7a8a0"/><circle cx="612.5" cy="616.0" r="3.1" fill="#d0acaf"/><circle cx="617.6" cy="634.9" r="3.2" fill="#e7adb1"/><circle cx="625.8" cy="641.3" r="3.0" fill="#c4a39f"/><circle cx="627.3" cy="652.2" r="2.8" fill="#d0a696"/><circle cx="631.2" cy="660.7" r="3.0" fill="#d6a9a7"/><circle cx="628.4" cy="671.1" r="3.0" fill="#dbb7ad"/><circle cx="640.6" cy="679.1" r="3.5" fill="#d6a6a3"/><circle cx="638.3" cy="688.5" r="3.1" fill="#dfa49d"/><circle cx="591.5" cy="494.2" r="2.9" fill="#cd8c89"/><circle cx="585.9" cy="504.6" r="3.3" fill="#c29081"/><circle cx="593.9" cy="524.2" r="3.2" fill="#cb9288"/><circle cx="605.5" cy="529.0" r="3.4" fill="#d59085"/><circle cx="599.6" cy="539.1" r="3.4" fill="#cfa68f"/><circle cx="611.6" cy="549.9" r="3.2" fill="#d9a2a5"/><circle cx="606.1" cy="557.7" r="2.9" fill="#cba28f"/><circle cx="616.2" cy="568.3" r="2.9" fill="#d6a29b"/><circle cx="613.4" cy="577.5" r="3.0" fill="#e39ba4"/><circle cx="620.0" cy="582.5" r="3.0" fill="#dca8a7"/><circle cx="625.7" cy="604.1" r="3.3" fill="#c79d97"/><circle cx="624.0" cy="612.6" r="3.5" fill="#cda1a6"/><circle cx="631.8" cy="620.6" r="3.3" fill="#e1a298"/><circle cx="627.3" cy="629.6" r="2.8" fill="#daaaaa"/><circle cx="638.6" cy="638.8" r="3.6" fill="#d4a89c"/><circle cx="632.9" cy="650.1" r="3.5" fill="#c5a7a7"/><circle cx="645.9" cy="653.9" r="3.2" fill="#d2afa7"/><circle cx="643.2" cy="665.9" r="3.2" fill="#d1a4a6"/><circle cx="604.0" cy="492.1" r="3.0" fill="#de8678"/><circle cx="601.2" cy="501.8" r="3.6" fill="#d89b7d"/><circle cx="608.4" cy="509.4" r="3.1" fill="#e59289"/><circle cx="603.1" cy="520.6" r="3.5" fill="#e59990"/><circle cx="615.1" cy="529.4" r="2.8" fill="#cb998b"/><circle cx="611.1" cy="536.8" r="3.4" fill="#d19b96"/><circle cx="619.1" cy="542.8" r="3.4" fill="#c69688"/><circle cx="616.1" cy="554.1" r="2.9" fill="#cd9d8f"/><circle cx="624.3" cy="563.8" r="2.8" fill="#e3ad93"/><circle cx="625.1" cy="574.2" r="3.3" fill="#deb6a1"/><circle cx="628.3" cy="581.4" r="3.2" fill="#ce918f"/><circle cx="635.6" cy="601.3" r="3.6" fill="#d2a99c"/><circle cx="631.7" cy="608.8" r="2.8" fill="#dc9fa3"/><circle cx="643.1" cy="617.0" r="2.9" fill="#d3aa9d"/><circle cx="639.1" cy="627.9" r="3.6" fill="#e3ab9c"/><circle cx="647.6" cy="636.9" r="3.0" fill="#ce9794"/><circle cx="643.8" cy="645.9" r="3.3" fill="#df9ea1"/><circle cx="653.1" cy="652.0" r="3.2" fill="#d5aba7"/><circle cx="610.2" cy="497.1" r="3.3" fill="#d47c6e"/><circle cx="620.2" cy="505.8" r="3.5" fill="#cf7e69"/><circle cx="615.1" cy="516.4" r="3.2" fill="#ee958b"/><circle cx="624.2" cy="525.1" r="3.2" fill="#c47f7c"/><circle cx="620.4" cy="537.0" r="3.1" fill="#d5a188"/><circle cx="628.9" cy="543.1" r="3.0" fill="#cb9486"/><circle cx="623.4" cy="551.6" r="3.3" fill="#cd9a8f"/><circle cx="632.5" cy="558.3" r="2.9" fill="#d49b8a"/><circle cx="632.6" cy="570.7" r="3.6" fill="#c49990"/><circle cx="638.9" cy="580.7" r="3.4" fill="#e4a19b"/><circle cx="639.4" cy="586.5" r="3.0" fill="#d6a69d"/><circle cx="643.7" cy="592.7" r="3.1" fill="#c89e8a"/><circle cx="645.7" cy="606.7" r="3.0" fill="#e4ab89"/><circle cx="653.1" cy="612.6" r="3.0" fill="#d1a89c"/><circle cx="648.1" cy="624.9" r="3.2" fill="#ebab9a"/><circle cx="657.7" cy="630.5" r="3.4" fill="#caa893"/><circle cx="619.7" cy="494.5" r="3.6" fill="#d28876"/><circle cx="628.3" cy="503.2" r="3.4" fill="#d58774"/><circle cx="626.4" cy="512.2" r="3.1" fill="#ce7b73"/><circle cx="631.9" cy="521.9" r="3.4" fill="#d58778"/><circle cx="630.4" cy="530.5" r="3.3" fill="#cc867b"/><circle cx="637.9" cy="550.8" r="2.8" fill="#c9958e"/><circle cx="644.3" cy="557.6" r="3.1" fill="#d69480"/><circle cx="646.1" cy="567.0" r="3.2" fill="#ce987d"/><circle cx="651.7" cy="575.1" r="3.1" fill="#eba482"/><circle cx="651.7" cy="584.2" r="3.3" fill="#d69a87"/><circle cx="656.3" cy="603.8" r="3.0" fill="#cb988f"/><circle cx="664.1" cy="608.3" r="3.6" fill="#da9d9e"/><circle cx="660.4" cy="620.9" r="3.1" fill="#e2b4a2"/><circle cx="638.6" cy="498.2" r="2.8" fill="#c87e70"/><circle cx="638.1" cy="506.5" r="3.2" fill="#c97d6e"/><circle cx="646.5" cy="517.0" r="3.0" fill="#cf8574"/><circle cx="644.1" cy="526.8" r="3.4" fill="#e58e79"/><circle cx="650.0" cy="534.2" r="3.5" fill="#d4977f"/><circle cx="645.4" cy="545.1" r="3.3" fill="#cf8476"/><circle cx="655.3" cy="554.7" r="3.2" fill="#d38d85"/><circle cx="652.7" cy="565.1" r="3.4" fill="#d19589"/><circle cx="660.5" cy="571.9" r="3.2" fill="#cf8c84"/><circle cx="661.6" cy="583.6" r="3.3" fill="#e4a494"/><circle cx="668.1" cy="586.6" r="3.5" fill="#d49895"/><circle cx="663.6" cy="600.7" r="3.2" fill="#e0a788"/><circle cx="654.4" cy="513.7" r="3.0" fill="#cf8a70"/><circle cx="650.5" cy="523.0" r="3.2" fill="#ce8e7f"/><circle cx="659.0" cy="533.2" r="2.8" fill="#d79c87"/><circle cx="658.1" cy="538.4" r="2.8" fill="#cf9181"/><circle cx="665.5" cy="549.9" r="3.6" fill="#d09d78"/><circle cx="663.6" cy="560.7" r="3.2" fill="#f0a08b"/><circle cx="670.7" cy="578.6" r="3.2" fill="#cc9592"/><circle cx="665.8" cy="536.6" r="2.9" fill="#d39182"/><circle cx="672.9" cy="558.8" r="3.5" fill="#e69a82"/></g>
<path d="M378.2 736.4l1.6 0.9M388.1 751.8l1.6 0.9M350.0 605.0l1.6 0.9M362.8 641.9l1.6 0.9M366.9 661.3l1.6 0.9M375.4 679.8l1.6 0.9M372.1 690.8l1.6 0.9M381.0 698.1l1.6 0.9M374.9 709.2l1.6 0.9M384.0 715.9l1.6 0.9M381.7 726.5l1.6 0.9M388.0 743.0l1.6 0.9M396.0 748.4l1.6 0.9M395.1 762.0l1.6 0.9M404.0 769.3l1.6 0.9M400.7 777.2l1.6 0.9M352.8 586.2l1.6 0.9M361.8 603.1l1.6 0.9M358.3 614.8l1.6 0.9M365.9 624.7l1.6 0.9M361.8 630.8l1.6 0.9M372.2 637.7l1.6 0.9M369.9 651.2l1.6 0.9M374.5 656.8l1.6 0.9M374.8 667.9l1.6 0.9M384.8 675.5l1.6 0.9M380.6 687.7l1.6 0.9M389.6 696.7l1.6 0.9M387.3 707.6l1.6 0.9M395.7 710.5l1.6 0.9M395.3 722.3l1.6 0.9M401.1 727.8l1.6 0.9M397.6 743.4l1.6 0.9M405.9 747.8l1.6 0.9M403.3 761.0l1.6 0.9M412.5 767.5l1.6 0.9M412.4 777.1l1.6 0.9M419.0 780.5l1.6 0.9M353.7 570.9l1.6 0.9M363.2 582.0l1.6 0.9M364.4 593.2l1.6 0.9M370.2 600.9l1.6 0.9M370.6 613.3l1.6 0.9M376.8 618.2l1.6 0.9M373.3 631.7l1.6 0.9M382.3 636.2l1.6 0.9M378.2 647.4l1.6 0.9M386.8 654.4l1.6 0.9M386.1 665.1l1.6 0.9M392.3 671.6l1.6 0.9M391.5 681.2l1.6 0.9M401.7 690.0l1.6 0.9M399.8 702.5l1.6 0.9M407.3 706.6l1.6 0.9M402.8 716.4l1.6 0.9M410.9 736.2l1.6 0.9M417.6 742.5l1.6 0.9M413.1 755.5l1.6 0.9M424.0 764.6l1.6 0.9M418.4 772.0l1.6 0.9M430.0 783.1l1.6 0.9M425.6 792.2l1.6 0.9M364.8 545.9l1.6 0.9M362.7 549.8l1.6 0.9M367.8 559.6l1.6 0.9M368.7 571.6l1.6 0.9M377.0 577.1l1.6 0.9M369.7 588.0l1.6 0.9M381.6 598.4l1.6 0.9M379.8 605.8l1.6 0.9M385.0 615.1l1.6 0.9M385.4 625.0l1.6 0.9M392.8 633.0l1.6 0.9M388.4 644.4l1.6 0.9M398.5 653.2l1.6 0.9M396.0 660.4l1.6 0.9M404.0 668.7l1.6 0.9M401.4 679.6l1.6 0.9M411.2 685.4l1.6 0.9M408.1 698.5l1.6 0.9M413.9 704.2l1.6 0.9M411.5 716.2l1.6 0.9M421.7 720.9l1.6 0.9M417.2 732.9l1.6 0.9M427.8 739.0l1.6 0.9M426.8 750.3l1.6 0.9M434.1 757.2l1.6 0.9M429.5 770.4l1.6 0.9M438.8 776.9l1.6 0.9M435.4 787.5l1.6 0.9M375.1 538.7l1.6 0.9M371.1 549.1l1.6 0.9M381.5 557.8l1.6 0.9M377.2 568.4l1.6 0.9M384.7 574.2l1.6 0.9M381.8 586.7l1.6 0.9M393.0 592.3l1.6 0.9M386.8 602.9l1.6 0.9M395.5 611.5l1.6 0.9M392.5 622.0l1.6 0.9M403.4 627.4l1.6 0.9M401.5 643.5l1.6 0.9M408.1 649.2l1.6 0.9M414.5 666.6l1.6 0.9M419.9 682.8l1.6 0.9M425.8 700.3l1.6 0.9M423.6 713.2l1.6 0.9M433.1 719.4l1.6 0.9M428.6 730.1l1.6 0.9M438.0 751.1l1.6 0.9M442.1 755.5l1.6 0.9M441.4 768.4l1.6 0.9M448.2 771.8l1.6 0.9M452.4 785.8l1.6 0.9M457.9 794.1l1.6 0.9M377.6 527.9l1.6 0.9M385.0 536.8l1.6 0.9M383.7 546.9l1.6 0.9M391.0 553.3l1.6 0.9M390.1 564.5l1.6 0.9M393.0 573.8l1.6 0.9M392.9 583.0l1.6 0.9M401.3 589.4l1.6 0.9M399.9 600.3l1.6 0.9M404.7 606.4l1.6 0.9M406.7 619.5l1.6 0.9M413.0 623.6l1.6 0.9M412.4 636.5l1.6 0.9M418.6 645.9l1.6 0.9M415.9 654.9l1.6 0.9M424.3 660.4l1.6 0.9M422.2 673.1l1.6 0.9M430.2 679.1l1.6 0.9M426.2 690.0l1.6 0.9M437.5 697.6l1.6 0.9M434.3 709.0l1.6 0.9M443.0 720.2l1.6 0.9M450.1 735.3l1.6 0.9M447.9 742.1l1.6 0.9M455.0 751.3l1.6 0.9M456.8 764.1l1.6 0.9M462.7 769.3l1.6 0.9M455.6 781.9l1.6 0.9M465.9 790.2l1.6 0.9M465.0 798.4l1.6 0.9M386.1 527.5l1.6 0.9M395.5 529.2l1.6 0.9M390.8 541.3l1.6 0.9M404.3 551.6l1.6 0.9M396.8 562.0l1.6 0.9M408.6 567.1l1.6 0.9M402.6 578.3l1.6 0.9M412.7 587.9l1.6 0.9M411.0 598.1l1.6 0.9M418.2 605.8l1.6 0.9M414.8 614.3l1.6 0.9M425.0 624.4l1.6 0.9M419.1 634.1l1.6 0.9M430.6 640.3l1.6 0.9M429.0 652.0l1.6 0.9M436.2 657.9l1.6 0.9M435.4 666.5l1.6 0.9M441.0 675.7l1.6 0.9M440.2 688.6l1.6 0.9M446.4 698.0l1.6 0.9M445.6 704.7l1.6 0.9M452.6 711.8l1.6 0.9M448.5 725.1l1.6 0.9M455.5 733.5l1.6 0.9M456.8 740.8l1.6 0.9M467.7 749.2l1.6 0.9M462.9 762.1l1.6 0.9M472.4 766.9l1.6 0.9M465.7 779.8l1.6 0.9M475.2 786.1l1.6 0.9M473.9 796.9l1.6 0.9M395.5 521.2l1.6 0.9M401.0 527.1l1.6 0.9M402.6 541.9l1.6 0.9M411.5 545.1l1.6 0.9M408.3 558.7l1.6 0.9M416.4 563.6l1.6 0.9M421.0 586.4l1.6 0.9M426.8 612.0l1.6 0.9M433.6 619.7l1.6 0.9M428.6 630.7l1.6 0.9M439.5 639.7l1.6 0.9M439.0 646.4l1.6 0.9M442.9 666.5l1.6 0.9M450.4 673.9l1.6 0.9M451.1 683.8l1.6 0.9M456.6 695.3l1.6 0.9M454.5 704.3l1.6 0.9M466.1 709.8l1.6 0.9M462.6 718.9l1.6 0.9M465.7 726.6l1.6 0.9M472.2 745.3l1.6 0.9M472.2 756.7l1.6 0.9M478.2 762.9l1.6 0.9M477.5 772.0l1.6 0.9M484.0 779.9l1.6 0.9M482.2 791.4l1.6 0.9M410.8 509.5l1.6 0.9M416.3 525.1l1.6 0.9M413.2 537.0l1.6 0.9M421.0 540.7l1.6 0.9M417.7 555.0l1.6 0.9M425.4 564.3l1.6 0.9M423.0 572.0l1.6 0.9M431.0 578.9l1.6 0.9M431.8 588.0l1.6 0.9M432.8 609.5l1.6 0.9M444.9 616.7l1.6 0.9M438.4 626.5l1.6 0.9M451.3 632.6l1.6 0.9M449.3 642.6l1.6 0.9M455.7 650.7l1.6 0.9M451.8 663.1l1.6 0.9M465.0 669.0l1.6 0.9M459.9 681.1l1.6 0.9M467.8 689.1l1.6 0.9M466.8 699.2l1.6 0.9M475.4 707.3l1.6 0.9M469.7 717.5l1.6 0.9M479.9 722.4l1.6 0.9M477.5 739.8l1.6 0.9M486.6 742.6l1.6 0.9M482.2 752.3l1.6 0.9M493.5 760.9l1.6 0.9M490.4 772.2l1.6 0.9M496.4 778.4l1.6 0.9M495.9 791.8l1.6 0.9M415.0 515.1l1.6 0.9M425.3 521.1l1.6 0.9M421.5 530.6l1.6 0.9M430.4 540.6l1.6 0.9M429.7 551.4l1.6 0.9M437.7 560.6l1.6 0.9M433.4 572.3l1.6 0.9M444.5 578.6l1.6 0.9M440.6 587.6l1.6 0.9M445.7 595.0l1.6 0.9M444.7 607.7l1.6 0.9M454.6 610.7l1.6 0.9M452.0 626.9l1.6 0.9M462.0 634.9l1.6 0.9M457.6 642.1l1.6 0.9M466.8 647.6l1.6 0.9M465.1 661.5l1.6 0.9M469.2 668.5l1.6 0.9M470.7 677.3l1.6 0.9M476.6 682.4l1.6 0.9M476.9 695.1l1.6 0.9M484.6 702.7l1.6 0.9M481.3 712.4l1.6 0.9M487.0 731.1l1.6 0.9M496.3 737.7l1.6 0.9M490.7 749.0l1.6 0.9M502.7 756.0l1.6 0.9M501.9 768.2l1.6 0.9M505.2 775.0l1.6 0.9M505.9 785.6l1.6 0.9M512.8 795.9l1.6 0.9M436.4 520.8l1.6 0.9M435.7 525.9l1.6 0.9M443.7 538.0l1.6 0.9M440.4 548.8l1.6 0.9M446.3 554.8l1.6 0.9M445.2 564.8l1.6 0.9M452.1 570.9l1.6 0.9M452.1 585.7l1.6 0.9M461.1 591.1l1.6 0.9M459.6 606.6l1.6 0.9M463.0 608.9l1.6 0.9M462.2 621.9l1.6 0.9M469.0 623.9l1.6 0.9M468.7 636.5l1.6 0.9M476.6 646.5l1.6 0.9M475.0 657.8l1.6 0.9M478.4 675.8l1.6 0.9M488.5 683.1l1.6 0.9M486.9 692.7l1.6 0.9M491.9 710.1l1.6 0.9M496.0 717.2l1.6 0.9M500.5 729.1l1.6 0.9M506.4 736.2l1.6 0.9M504.1 745.2l1.6 0.9M510.0 754.0l1.6 0.9M508.8 761.9l1.6 0.9M518.3 770.2l1.6 0.9M515.7 781.6l1.6 0.9M522.2 790.3l1.6 0.9M445.1 516.7l1.6 0.9M444.6 524.9l1.6 0.9M452.3 533.2l1.6 0.9M447.2 540.7l1.6 0.9M455.9 550.7l1.6 0.9M452.6 563.0l1.6 0.9M462.9 570.2l1.6 0.9M461.9 581.0l1.6 0.9M467.8 599.2l1.6 0.9M476.7 604.4l1.6 0.9M474.8 616.1l1.6 0.9M485.1 623.8l1.6 0.9M476.0 634.0l1.6 0.9M488.8 640.1l1.6 0.9M484.9 650.2l1.6 0.9M493.3 659.3l1.6 0.9M488.8 670.0l1.6 0.9M499.6 678.7l1.6 0.9M495.1 688.2l1.6 0.9M503.3 693.3l1.6 0.9M497.8 704.2l1.6 0.9M510.8 714.9l1.6 0.9M509.0 724.4l1.6 0.9M518.0 733.9l1.6 0.9M514.5 743.3l1.6 0.9M523.1 750.6l1.6 0.9M520.1 759.5l1.6 0.9M529.2 765.5l1.6 0.9M526.3 778.0l1.6 0.9M534.8 786.8l1.6 0.9M456.0 510.2l1.6 0.9M452.6 519.4l1.6 0.9M461.4 530.6l1.6 0.9M462.7 538.3l1.6 0.9M466.4 547.6l1.6 0.9M465.1 556.8l1.6 0.9M474.8 569.8l1.6 0.9M469.7 578.0l1.6 0.9M480.5 584.1l1.6 0.9M476.9 594.6l1.6 0.9M484.3 605.1l1.6 0.9M482.5 612.2l1.6 0.9M492.5 623.7l1.6 0.9M498.1 637.4l1.6 0.9M495.8 647.5l1.6 0.9M503.3 653.2l1.6 0.9M501.7 665.3l1.6 0.9M510.1 675.9l1.6 0.9M507.9 688.1l1.6 0.9M514.5 695.0l1.6 0.9M513.9 703.3l1.6 0.9M518.7 711.3l1.6 0.9M518.0 721.5l1.6 0.9M525.8 728.7l1.6 0.9M522.6 738.8l1.6 0.9M533.8 746.0l1.6 0.9M530.7 759.8l1.6 0.9M539.0 767.7l1.6 0.9M533.6 777.3l1.6 0.9M543.0 785.5l1.6 0.9M540.8 792.8l1.6 0.9M465.1 523.0l1.6 0.9M470.6 537.6l1.6 0.9M480.1 543.4l1.6 0.9M476.2 554.6l1.6 0.9M486.2 562.9l1.6 0.9M483.5 574.3l1.6 0.9M490.0 578.1l1.6 0.9M498.0 599.5l1.6 0.9M494.9 612.4l1.6 0.9M498.5 616.0l1.6 0.9M498.5 629.5l1.6 0.9M510.5 635.3l1.6 0.9M504.6 647.5l1.6 0.9M515.4 654.1l1.6 0.9M510.1 663.7l1.6 0.9M520.6 671.1l1.6 0.9M516.7 682.6l1.6 0.9M524.1 691.4l1.6 0.9M526.0 699.2l1.6 0.9M532.2 706.6l1.6 0.9M529.7 716.5l1.6 0.9M539.8 726.5l1.6 0.9M534.5 737.3l1.6 0.9M543.5 747.4l1.6 0.9M536.7 751.8l1.6 0.9M548.3 763.1l1.6 0.9M547.4 768.6l1.6 0.9M555.1 780.7l1.6 0.9M477.3 515.9l1.6 0.9M483.2 522.0l1.6 0.9M483.1 533.4l1.6 0.9M489.6 542.1l1.6 0.9M487.1 549.9l1.6 0.9M493.7 560.6l1.6 0.9M492.3 567.4l1.6 0.9M498.6 579.4l1.6 0.9M498.3 590.5l1.6 0.9M505.7 595.7l1.6 0.9M502.5 610.3l1.6 0.9M513.0 612.7l1.6 0.9M511.0 626.6l1.6 0.9M518.4 633.1l1.6 0.9M523.9 649.6l1.6 0.9M521.8 661.0l1.6 0.9M531.0 668.3l1.6 0.9M528.7 676.5l1.6 0.9M536.5 684.6l1.6 0.9M533.1 696.4l1.6 0.9M542.8 704.1l1.6 0.9M538.8 716.0l1.6 0.9M548.8 719.2l1.6 0.9M546.3 731.6l1.6 0.9M554.2 740.4l1.6 0.9M549.9 751.2l1.6 0.9M556.9 759.0l1.6 0.9M555.7 768.7l1.6 0.9M564.1 775.2l1.6 0.9M563.1 787.8l1.6 0.9M492.6 517.9l1.6 0.9M493.3 531.3l1.6 0.9M496.8 536.7l1.6 0.9M497.8 548.0l1.6 0.9M502.6 566.7l1.6 0.9M508.2 588.9l1.6 0.9M517.9 589.4l1.6 0.9M514.2 600.9l1.6 0.9M520.4 611.5l1.6 0.9M518.4 618.2l1.6 0.9M527.9 630.3l1.6 0.9M524.6 640.6l1.6 0.9M530.6 644.4l1.6 0.9M532.2 659.2l1.6 0.9M540.7 663.0l1.6 0.9M538.1 673.4l1.6 0.9M547.3 682.8l1.6 0.9M545.1 692.9l1.6 0.9M551.8 703.4l1.6 0.9M549.9 709.3l1.6 0.9M556.4 719.5l1.6 0.9M551.6 730.4l1.6 0.9M562.6 734.4l1.6 0.9M561.1 746.4l1.6 0.9M567.9 755.7l1.6 0.9M565.2 764.5l1.6 0.9M576.4 771.2l1.6 0.9M572.6 783.8l1.6 0.9M504.8 518.4l1.6 0.9M502.8 529.2l1.6 0.9M510.3 535.9l1.6 0.9M504.9 548.4l1.6 0.9M514.9 551.2l1.6 0.9M510.9 559.8l1.6 0.9M521.6 570.5l1.6 0.9M519.2 583.0l1.6 0.9M526.7 590.3l1.6 0.9M525.2 600.6l1.6 0.9M531.8 603.9l1.6 0.9M531.7 620.2l1.6 0.9M539.8 624.4l1.6 0.9M539.3 632.5l1.6 0.9M545.5 655.0l1.6 0.9M552.7 661.0l1.6 0.9M549.2 673.7l1.6 0.9M554.2 677.3l1.6 0.9M555.4 687.1l1.6 0.9M560.5 695.6l1.6 0.9M561.9 706.1l1.6 0.9M565.9 715.1l1.6 0.9M565.6 725.6l1.6 0.9M574.3 730.9l1.6 0.9M568.6 747.0l1.6 0.9M581.4 753.9l1.6 0.9M578.7 759.0l1.6 0.9M513.6 515.2l1.6 0.9M521.1 532.0l1.6 0.9M519.3 542.2l1.6 0.9M523.8 552.2l1.6 0.9M528.3 567.3l1.6 0.9M527.8 581.7l1.6 0.9M538.5 588.3l1.6 0.9M535.9 597.2l1.6 0.9M542.3 604.8l1.6 0.9M539.7 612.2l1.6 0.9M548.3 623.2l1.6 0.9M545.8 630.4l1.6 0.9M554.2 641.7l1.6 0.9M554.6 650.2l1.6 0.9M561.1 656.4l1.6 0.9M558.0 669.5l1.6 0.9M568.9 675.5l1.6 0.9M572.6 694.7l1.6 0.9M571.9 707.0l1.6 0.9M578.2 715.3l1.6 0.9M576.1 722.7l1.6 0.9M586.9 729.2l1.6 0.9M582.7 740.3l1.6 0.9M590.8 748.5l1.6 0.9M585.8 760.8l1.6 0.9M518.0 520.8l1.6 0.9M530.5 527.8l1.6 0.9M527.7 537.5l1.6 0.9M534.6 553.7l1.6 0.9M543.6 564.9l1.6 0.9M540.9 575.2l1.6 0.9M547.4 589.7l1.6 0.9M552.6 600.7l1.6 0.9M549.7 611.8l1.6 0.9M558.7 617.5l1.6 0.9M565.9 635.9l1.6 0.9M564.7 648.1l1.6 0.9M569.2 653.6l1.6 0.9M568.2 665.1l1.6 0.9M576.7 674.2l1.6 0.9M573.4 683.1l1.6 0.9M580.2 703.3l1.6 0.9M588.6 709.0l1.6 0.9M585.7 719.2l1.6 0.9M597.2 725.7l1.6 0.9M593.5 739.3l1.6 0.9M597.7 743.2l1.6 0.9M533.2 509.0l1.6 0.9M529.5 519.7l1.6 0.9M537.1 534.2l1.6 0.9M544.2 545.0l1.6 0.9M544.6 556.0l1.6 0.9M551.3 561.8l1.6 0.9M549.5 573.4l1.6 0.9M558.0 577.5l1.6 0.9M556.9 591.1l1.6 0.9M561.9 597.4l1.6 0.9M561.7 609.2l1.6 0.9M569.3 615.4l1.6 0.9M571.1 624.9l1.6 0.9M575.7 633.6l1.6 0.9M575.4 644.8l1.6 0.9M581.3 650.3l1.6 0.9M577.1 662.8l1.6 0.9M584.9 670.9l1.6 0.9M584.9 681.1l1.6 0.9M594.8 686.4l1.6 0.9M593.3 696.9l1.6 0.9M601.4 703.3l1.6 0.9M597.4 716.8l1.6 0.9M604.3 723.4l1.6 0.9M604.7 734.2l1.6 0.9M545.1 503.5l1.6 0.9M540.8 514.5l1.6 0.9M548.4 523.4l1.6 0.9M549.5 534.1l1.6 0.9M558.2 540.4l1.6 0.9M555.5 551.3l1.6 0.9M559.9 569.2l1.6 0.9M568.7 577.7l1.6 0.9M565.7 586.6l1.6 0.9M572.9 604.6l1.6 0.9M581.5 611.2l1.6 0.9M576.9 622.6l1.6 0.9M587.8 630.9l1.6 0.9M593.9 645.8l1.6 0.9M589.9 660.1l1.6 0.9M599.2 666.5l1.6 0.9M594.6 677.1l1.6 0.9M601.6 682.5l1.6 0.9M598.3 694.9l1.6 0.9M606.1 704.1l1.6 0.9M605.9 713.7l1.6 0.9M617.8 719.2l1.6 0.9M613.2 731.2l1.6 0.9M556.2 499.2l1.6 0.9M552.0 512.6l1.6 0.9M563.0 519.9l1.6 0.9M560.3 529.5l1.6 0.9M566.4 538.8l1.6 0.9M566.9 547.9l1.6 0.9M571.6 552.9l1.6 0.9M571.6 565.9l1.6 0.9M580.8 570.5l1.6 0.9M575.4 584.5l1.6 0.9M585.3 590.7l1.6 0.9M584.1 602.6l1.6 0.9M590.0 608.1l1.6 0.9M590.1 617.0l1.6 0.9M597.4 626.9l1.6 0.9M591.5 636.4l1.6 0.9M603.8 643.6l1.6 0.9M599.8 654.7l1.6 0.9M608.6 665.4l1.6 0.9M606.9 673.5l1.6 0.9M613.8 681.0l1.6 0.9M612.6 690.4l1.6 0.9M621.9 696.9l1.6 0.9M618.3 707.8l1.6 0.9M623.6 716.2l1.6 0.9M621.0 724.6l1.6 0.9M564.4 498.9l1.6 0.9M564.3 506.4l1.6 0.9M571.2 514.8l1.6 0.9M576.7 532.9l1.6 0.9M580.1 552.4l1.6 0.9M580.7 561.5l1.6 0.9M590.2 569.2l1.6 0.9M588.3 582.0l1.6 0.9M596.4 586.2l1.6 0.9M592.5 602.2l1.6 0.9M601.3 605.8l1.6 0.9M598.8 613.2l1.6 0.9M606.0 624.1l1.6 0.9M606.7 632.1l1.6 0.9M611.7 638.8l1.6 0.9M613.5 651.5l1.6 0.9M617.7 658.3l1.6 0.9M616.1 670.6l1.6 0.9M626.7 678.1l1.6 0.9M621.9 688.9l1.6 0.9M631.3 697.4l1.6 0.9M628.2 705.5l1.6 0.9M573.8 493.8l1.6 0.9M577.5 503.0l1.6 0.9M579.9 509.6l1.6 0.9M578.7 520.6l1.6 0.9M583.6 539.3l1.6 0.9M594.8 546.8l1.6 0.9M593.2 559.6l1.6 0.9M598.4 566.6l1.6 0.9M598.1 574.6l1.6 0.9M607.4 585.3l1.6 0.9M604.3 597.1l1.6 0.9M610.6 601.8l1.6 0.9M608.3 612.1l1.6 0.9M613.2 630.8l1.6 0.9M621.6 637.5l1.6 0.9M623.3 648.5l1.6 0.9M627.0 656.9l1.6 0.9M624.2 667.3l1.6 0.9M635.9 674.8l1.6 0.9M634.1 684.7l1.6 0.9M587.5 490.5l1.6 0.9M581.4 500.5l1.6 0.9M589.5 520.2l1.6 0.9M600.9 524.8l1.6 0.9M595.0 534.9l1.6 0.9M607.2 545.9l1.6 0.9M601.9 554.0l1.6 0.9M612.1 564.6l1.6 0.9M609.2 573.7l1.6 0.9M615.8 578.7l1.6 0.9M621.2 600.0l1.6 0.9M619.3 608.4l1.6 0.9M627.3 616.5l1.6 0.9M623.3 625.9l1.6 0.9M633.9 634.5l1.6 0.9M628.2 645.7l1.6 0.9M641.5 650.0l1.6 0.9M638.7 661.9l1.6 0.9M599.9 488.3l1.6 0.9M596.4 497.4l1.6 0.9M604.0 505.4l1.6 0.9M598.4 516.3l1.6 0.9M611.1 525.8l1.6 0.9M606.5 532.6l1.6 0.9M614.5 538.6l1.6 0.9M612.0 550.3l1.6 0.9M620.3 560.2l1.6 0.9M620.7 570.1l1.6 0.9M623.9 577.4l1.6 0.9M630.8 596.9l1.6 0.9M627.7 605.2l1.6 0.9M639.0 613.3l1.6 0.9M634.3 623.6l1.6 0.9M643.4 633.1l1.6 0.9M639.3 641.7l1.6 0.9M648.7 648.0l1.6 0.9M605.7 493.0l1.6 0.9M615.5 501.5l1.6 0.9M610.7 512.3l1.6 0.9M619.8 521.0l1.6 0.9M616.2 533.1l1.6 0.9M624.8 539.4l1.6 0.9M618.9 547.5l1.6 0.9M628.4 554.6l1.6 0.9M627.8 566.3l1.6 0.9M634.3 576.4l1.6 0.9M635.2 582.7l1.6 0.9M639.4 588.8l1.6 0.9M641.5 602.9l1.6 0.9M648.9 608.8l1.6 0.9M643.7 620.9l1.6 0.9M653.1 626.3l1.6 0.9M615.0 490.1l1.6 0.9M623.7 499.0l1.6 0.9M622.0 508.3l1.6 0.9M627.4 517.7l1.6 0.9M625.9 526.4l1.6 0.9M633.9 547.2l1.6 0.9M640.0 553.7l1.6 0.9M641.8 563.0l1.6 0.9M647.5 571.3l1.6 0.9M647.2 580.1l1.6 0.9M652.1 600.0l1.6 0.9M659.4 603.9l1.6 0.9M656.1 617.0l1.6 0.9M634.6 494.5l1.6 0.9M633.7 502.5l1.6 0.9M642.2 513.2l1.6 0.9M639.4 522.5l1.6 0.9M645.3 530.0l1.6 0.9M640.9 540.9l1.6 0.9M650.9 550.7l1.6 0.9M648.1 560.9l1.6 0.9M656.1 567.9l1.6 0.9M657.0 579.4l1.6 0.9M663.4 582.3l1.6 0.9M659.2 596.7l1.6 0.9M650.2 509.8l1.6 0.9M646.0 519.0l1.6 0.9M655.0 529.6l1.6 0.9M654.1 534.7l1.6 0.9M660.7 545.5l1.6 0.9M659.2 556.7l1.6 0.9M666.3 574.6l1.6 0.9M661.7 533.0l1.6 0.9M668.2 554.5l1.6 0.9" stroke="#a8a8a8" stroke-width="0.55" fill="none"/>
<g fill="none" stroke="#333" stroke-width="0.8">
<rect x="349.3" y="584.8" width="17.4" height="17.8"/><rect x="623.7" y="509.1" width="17.9" height="16.9"/><rect x="476.5" y="788.8" width="17.9" height="16.4"/>
</g>
<path d="M349.3 602.6L341 825.4M366.7 602.6L450.5 825.4M623.7 526L570 825.4M641.6 526L679.9 825.4M476.5 805.2L455.1 825.4M494.4 805.2L565 825.4" stroke="#111" stroke-width="0.8" stroke-dasharray="2.4 1.6" fill="none"/>
<rect x="340.5" y="825.4" width="110" height="109.8" fill="#fff"/><rect x="455.1" y="825.4" width="109.9" height="110" fill="#fff"/><rect x="569.5" y="825.4" width="110.4" height="110" fill="#fff"/>
<g clip-path="url(#cb1)"><path d="M388.8 851.5C390.0 848.5 392.6 845.7 395.2 844.2C397.8 842.7 401.6 842.4 404.3 842.4C407.0 842.4 410.2 843.1 411.6 844.2C413.0 845.3 413.2 847.1 412.6 848.8C412.0 850.5 409.1 852.4 408.0 854.2C406.9 856.0 405.6 858.6 406.2 859.7C406.8 860.8 409.8 860.9 411.6 860.6C413.4 860.3 416.3 859.6 417.1 857.9C417.9 856.2 415.6 852.4 416.2 850.6C416.8 848.8 419.0 847.4 420.8 846.9C422.6 846.4 426.3 846.1 427.2 847.8C428.1 849.5 426.2 854.0 426.2 857.0C426.2 860.0 427.8 863.4 427.2 866.1C426.6 868.8 425.2 871.4 422.6 873.4C420.0 875.4 415.6 877.2 411.6 878.0C407.7 878.8 402.5 879.1 398.9 878.0C395.2 876.9 391.5 874.2 389.7 871.6C387.9 869.0 388.0 865.8 387.9 862.4C387.8 859.0 387.6 854.5 388.8 851.5Z" fill="#2ca02c" filter="url(#i1)"/><ellipse cx="381" cy="905" rx="12.5" ry="17" transform="rotate(-35 381 905)" fill="#2ca02c" filter="url(#i1)"/><ellipse cx="395" cy="889" rx="10" ry="7" transform="rotate(35 395 889)" fill="#2ca02c" filter="url(#i1)"/><ellipse cx="389" cy="897" rx="9" ry="12" fill="#e8f0f4" fill-opacity="0.7"/><circle cx="429" cy="919.5" r="20.5" fill="#2ca02c" filter="url(#i1)"/><circle cx="389.7" cy="840.5" r="11.0" fill="#fff" fill-opacity="0.6" stroke="#cfcfcf" stroke-width="0.5"/><path d="M389.7 840.5L390.7 830.6A10.0 10.0 0 0 1 395.3 832.2Z" fill="#2ca02c"/><path d="M389.7 840.5L384.2 840.6A5.5 5.5 0 0 1 384.6 838.5Z" fill="#8c564b"/><path d="M389.7 840.5L387.1 842.9A3.5 3.5 0 0 1 386.4 841.6Z" fill="#e377c2"/><circle cx="367.0" cy="883.4" r="11.0" fill="#fff" fill-opacity="0.6" stroke="#cfcfcf" stroke-width="0.5"/><path d="M367.0 883.4L368.0 873.5A10.0 10.0 0 0 1 372.6 875.1Z" fill="#2ca02c"/><path d="M367.0 883.4L361.5 883.5A5.5 5.5 0 0 1 361.9 881.4Z" fill="#8c564b"/><path d="M367.0 883.4L365.8 887.2A4.0 4.0 0 0 1 364.3 886.3Z" fill="#e377c2"/><circle cx="412.6" cy="899.9" r="11.0" fill="#fff" fill-opacity="0.6" stroke="#cfcfcf" stroke-width="0.5"/><path d="M412.6 899.9L413.6 890.0A10.0 10.0 0 0 1 418.2 891.6Z" fill="#2ca02c"/><path d="M412.6 899.9L406.1 900.0A6.5 6.5 0 0 1 406.5 897.6Z" fill="#8c564b"/><path d="M412.6 899.9L409.3 902.9A4.5 4.5 0 0 1 408.3 901.3Z" fill="#e377c2"/></g>
<rect x="344.1" y="829.6" width="11.3" height="6.6" fill="#2ca02c"/><text x="359.6" y="836.1" font-size="8.4" fill="#111">3</text>
<rect x="344.1" y="840.5" width="11.3" height="6.6" fill="#8c564b"/><text x="359.6" y="847.0" font-size="8.4" fill="#111">6</text>
<rect x="344.1" y="851.1" width="11.3" height="6.6" fill="#e377c2"/><text x="359.6" y="857.6" font-size="8.4" fill="#111">7</text>
<g clip-path="url(#cb2)"><path d="M459.0 840.0C460.1 836.8 461.8 832.7 465.0 831.0C468.2 829.3 473.8 829.3 478.0 829.6C482.2 829.9 486.9 830.4 490.0 833.0C493.1 835.6 495.7 840.5 496.5 845.0C497.3 849.5 496.8 856.2 495.0 860.0C493.2 863.8 490.2 866.8 486.0 868.0C481.8 869.2 474.3 868.0 470.0 867.0C465.7 866.0 462.0 864.8 460.0 862.0C458.0 859.2 458.4 853.7 458.2 850.0C458.0 846.3 457.9 843.2 459.0 840.0Z" fill="#e7b6e0" filter="url(#i2)"/><path d="M537.0 840.0C538.5 837.2 541.8 834.3 545.0 833.0C548.2 831.7 552.8 831.5 556.0 832.3C559.2 833.1 562.7 834.7 564.0 838.0C565.3 841.3 565.3 848.2 564.0 852.0C562.7 855.8 559.7 859.6 556.0 860.6C552.3 861.6 545.3 859.8 542.0 858.0C538.7 856.2 536.8 853.0 536.0 850.0C535.2 847.0 535.5 842.8 537.0 840.0Z" fill="#c8a8e0" filter="url(#i2)"/><circle cx="490.6" cy="914.8" r="19.6" fill="#d8a8e0" filter="url(#i2)"/><path d="M516.0 905.0C517.2 901.8 519.0 895.2 522.0 893.0C525.0 890.8 530.2 891.3 534.0 891.6C537.8 891.9 541.8 893.3 545.0 895.0C548.2 896.7 551.3 898.8 553.0 902.0C554.7 905.2 555.8 910.2 555.0 914.0C554.2 917.8 551.8 923.2 548.0 924.5C544.2 925.8 536.8 922.8 532.0 922.0C527.2 921.2 521.8 921.7 519.0 920.0C516.2 918.3 515.5 914.5 515.0 912.0C514.5 909.5 514.8 908.2 516.0 905.0Z" fill="#c8b0e0" filter="url(#i2)"/><circle cx="472.8" cy="895.3" r="11.0" fill="#fff" fill-opacity="0.6" stroke="#cfcfcf" stroke-width="0.5"/><path d="M472.8 895.3L463.1 892.7A10.0 10.0 0 0 1 465.7 888.2Z" fill="#9467bd"/><path d="M472.8 895.3L466.4 901.7A9.0 9.0 0 0 1 464.1 897.6Z" fill="#e377c2"/><path d="M472.8 895.3L473.4 889.3A6.0 6.0 0 0 1 475.2 889.8Z" fill="#2ca02c"/><path d="M472.8 895.3L475.7 895.9A3.0 3.0 0 0 1 475.4 896.8Z" fill="#17becf"/><path d="M472.8 895.3L474.8 893.8A2.5 2.5 0 0 1 475.1 894.3Z" fill="#ff7f0e"/><circle cx="517.5" cy="888.9" r="11.0" fill="#fff" fill-opacity="0.6" stroke="#cfcfcf" stroke-width="0.5"/><path d="M517.5 888.9L507.8 886.3A10.0 10.0 0 0 1 510.4 881.8Z" fill="#9467bd"/><path d="M517.5 888.9L511.1 895.3A9.0 9.0 0 0 1 508.8 891.2Z" fill="#e377c2"/><path d="M517.5 888.9L518.2 881.9A7.0 7.0 0 0 1 520.3 882.5Z" fill="#2ca02c"/><path d="M517.5 888.9L518.7 892.7A4.0 4.0 0 0 1 517.7 892.9Z" fill="#7f7f7f"/><path d="M517.5 888.9L519.5 887.4A2.5 2.5 0 0 1 519.8 887.9Z" fill="#ff7f0e"/><circle cx="532.0" cy="830.5" r="11.0" fill="#fff" fill-opacity="0.6" stroke="#cfcfcf" stroke-width="0.5"/><path d="M532.0 830.5L523.0 829.7A9.0 9.0 0 0 1 524.6 825.3Z" fill="#9467bd"/><path d="M532.0 830.5L526.3 836.2A8.0 8.0 0 0 1 524.3 832.6Z" fill="#e377c2"/><path d="M532.0 830.5L540.2 834.2A9.0 9.0 0 0 1 538.3 837.0Z" fill="#17becf"/><path d="M532.0 830.5L533.1 825.6A5.0 5.0 0 0 1 534.3 826.1Z" fill="#2ca02c"/><path d="M532.0 830.5L533.2 834.3A4.0 4.0 0 0 1 532.2 834.5Z" fill="#7f7f7f"/><circle cx="460.0" cy="829.5" r="11.0" fill="#fff" fill-opacity="0.6" stroke="#cfcfcf" stroke-width="0.5"/><path d="M460.0 829.5L452.3 827.4A8.0 8.0 0 0 1 454.3 823.8Z" fill="#9467bd"/><path d="M460.0 829.5L455.1 834.4A7.0 7.0 0 0 1 453.2 831.3Z" fill="#e377c2"/><path d="M460.0 829.5L461.1 823.6A6.0 6.0 0 0 1 462.9 824.3Z" fill="#2ca02c"/></g>
<rect x="499.3" y="828.7" width="11.5" height="6.8" fill="#1f77b4"/><text x="514.8" y="835.3" font-size="8.4" fill="#111">1</text>
<rect x="499.3" y="840.0" width="11.5" height="6.8" fill="#2ca02c"/><text x="514.8" y="846.6" font-size="8.4" fill="#111">3</text>
<rect x="499.3" y="851.0" width="11.5" height="6.8" fill="#9467bd"/><text x="514.8" y="857.6" font-size="8.4" fill="#111">5</text>
<rect x="499.3" y="861.5" width="11.5" height="6.8" fill="#e377c2"/><text x="514.8" y="868.1" font-size="8.4" fill="#111">7</text>
<rect x="523.4" y="861.5" width="10.6" height="6.8" fill="#7f7f7f"/><text x="538.3" y="868.1" font-size="8.4" fill="#111">8</text>
<g clip-path="url(#cb3)"><circle cx="595" cy="831.5" r="19.6" fill="#e06060" filter="url(#i3)" fill-opacity="1"/><circle cx="595" cy="831.5" r="19.6" fill="#fff" fill-opacity="0.3"/><circle cx="602.4" cy="890.8" r="20.2" fill="#dc3a36" filter="url(#i3)"/><path d="M629.5 905.0C629.7 900.8 630.9 897.7 633.0 895.0C635.1 892.3 638.8 890.0 642.0 889.0C645.2 888.0 648.7 888.4 652.0 888.9C655.3 889.4 659.2 890.1 662.0 892.0C664.8 893.9 667.6 896.7 669.0 900.0C670.4 903.3 670.9 908.5 670.4 912.0C669.9 915.5 668.4 918.9 666.0 921.0C663.6 923.1 659.0 924.5 656.0 924.5C653.0 924.5 650.7 921.1 648.0 921.0C645.3 920.9 642.7 924.2 640.0 924.0C637.3 923.8 633.8 923.2 632.0 920.0C630.2 916.8 629.3 909.2 629.5 905.0Z" fill="#dc3a36" filter="url(#i3)"/><circle cx="583.7" cy="871.6" r="11.0" fill="#fff" fill-opacity="0.6" stroke="#cfcfcf" stroke-width="0.5"/><path d="M583.7 871.6L577.8 862.3A11.0 11.0 0 0 1 582.3 860.7Z" fill="#d62728"/><path d="M583.7 871.6L587.6 865.8A7.0 7.0 0 0 1 589.5 867.7Z" fill="#ff7f0e"/><path d="M583.7 871.6L585.6 873.9A3.0 3.0 0 0 1 584.7 874.4Z" fill="#1f77b4"/><circle cx="632.0" cy="885.3" r="11.0" fill="#fff" fill-opacity="0.6" stroke="#cfcfcf" stroke-width="0.5"/><path d="M632.0 885.3L626.6 876.9A10.0 10.0 0 0 1 630.7 875.4Z" fill="#d62728"/><path d="M632.0 885.3L635.4 880.3A6.0 6.0 0 0 1 637.0 881.9Z" fill="#ff7f0e"/><path d="M632.0 885.3L633.9 887.6A3.0 3.0 0 0 1 633.0 888.1Z" fill="#1f77b4"/></g>
<rect x="657.1" y="829.2" width="12" height="6.8" fill="#ff7f0e"/><rect x="657.1" y="840.6" width="12" height="6.8" fill="#d62728"/>
<text x="672.6" y="835.9" font-size="8.4" fill="#111">2</text><text x="672.6" y="847.3" font-size="8.4" fill="#111">4</text>
<rect x="579.2" y="923.0" width="16.4" height="1.2" fill="#111"/>
<text x="587.4" y="932.3" font-size="7.6" fill="#223" text-anchor="middle">500µm</text>
<g fill="none" stroke="#666" stroke-width="0.9"><rect x="340.5" y="825.4" width="110" height="109.8"/><rect x="455.1" y="825.4" width="109.9" height="110"/><rect x="569.5" y="825.4" width="110.4" height="110"/></g>
<rect x="386.5" y="938.8" width="18.9" height="18.6" rx="1" fill="#fff" stroke="#333" stroke-width="0.9"/>
<text x="395.9" y="953.6" font-size="12" fill="#111" text-anchor="middle">I</text>
<rect x="501.1" y="938.8" width="18.9" height="18.6" rx="1" fill="#fff" stroke="#333" stroke-width="0.9"/>
<text x="510.6" y="953.6" font-size="12" fill="#111" text-anchor="middle">II</text>
<rect x="615.2" y="938.8" width="18.9" height="18.6" rx="1" fill="#fff" stroke="#333" stroke-width="0.9"/>
<text x="624.7" y="953.6" font-size="12" fill="#111" text-anchor="middle">III</text>
</g>
<g id="letters">
<text transform="translate(0.50,15.70) scale(1,1.08)" font-size="15" fill="#000">A</text>
<text transform="translate(167.70,15.70) scale(1,1.08)" font-size="15" fill="#000">B</text>
<text transform="translate(335.10,15.70) scale(1,1.08)" font-size="15" fill="#000">C</text>
<text transform="translate(502.70,15.70) scale(1,1.08)" font-size="15" fill="#000">D</text>
<text transform="translate(0.40,168.70) scale(1,1.08)" font-size="15" fill="#000">E</text>
<text transform="translate(167.40,168.70) scale(1,1.08)" font-size="15" fill="#000">F</text>
<text transform="translate(335.00,168.70) scale(1,1.08)" font-size="15" fill="#000">G</text>
<text transform="translate(502.50,168.70) scale(1,1.08)" font-size="15" fill="#000">H</text>
<text transform="translate(0.00,313.80) scale(1,1.08)" font-size="15" fill="#000">I</text>
<text transform="translate(167.50,313.80) scale(1,1.08)" font-size="15" fill="#000">J</text>
<text transform="translate(335.00,313.70) scale(1,1.08)" font-size="15" fill="#000">K</text>
<text transform="translate(0.80,495.90) scale(1,1.08)" font-size="15" fill="#000">L</text>
<text transform="translate(-1.10,662.90) scale(1,1.08)" font-size="15" fill="#000">M</text>
<text transform="translate(-0.40,738.90) scale(1,1.08)" font-size="15" fill="#000">N</text>
<text transform="translate(-1.20,913.70) scale(1,1.08)" font-size="15" fill="#000">O</text>
<text transform="translate(338.40,495.70) scale(1,1.08)" font-size="15" fill="#000">P</text>
</g>
</svg></body></html>
